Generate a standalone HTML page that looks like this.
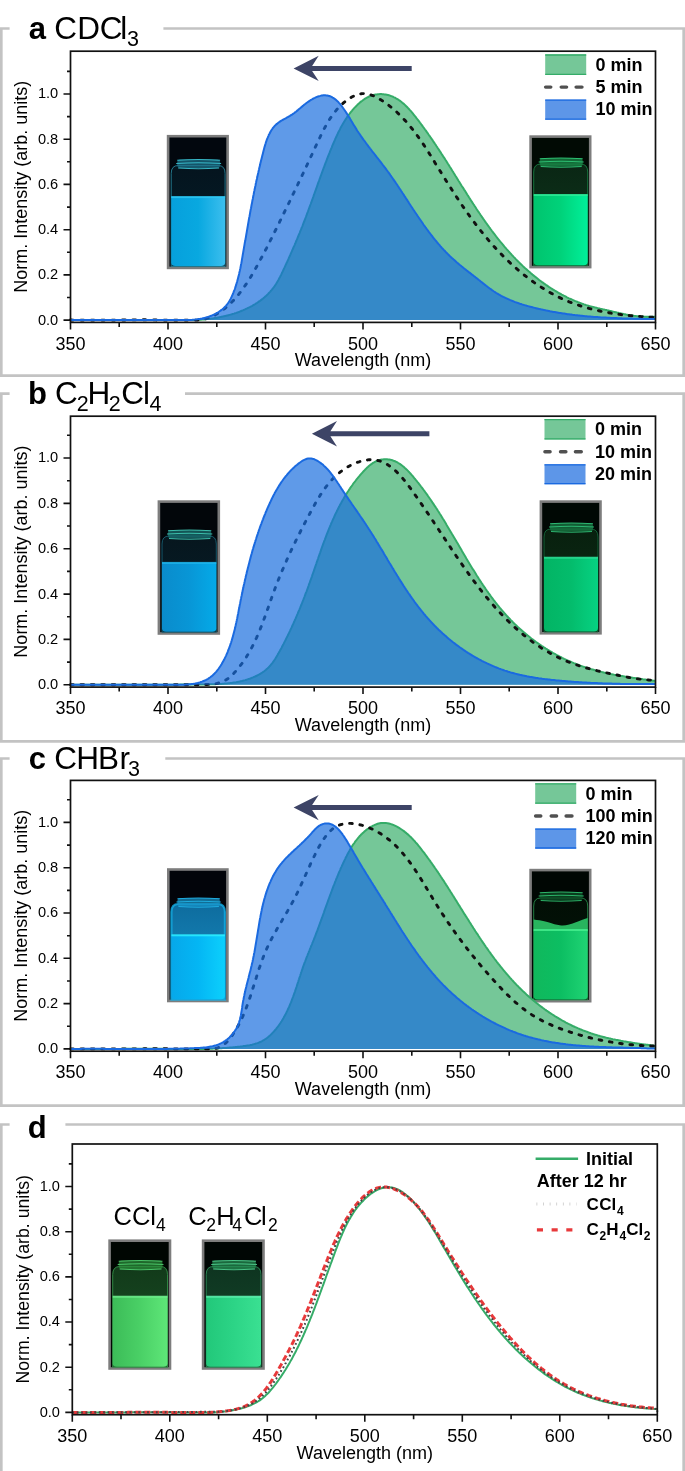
<!DOCTYPE html>
<html><head><meta charset="utf-8"><style>html,body{margin:0;padding:0;background:#fff}svg{display:block;will-change:transform}</style></head>
<body>
<svg width="685" height="1471" viewBox="0 0 685 1471" font-family='"Liberation Sans", sans-serif'>
<rect width="685" height="1471" fill="#fff"/>
<path d="M9.6,28.5 H1.3 V375.7 H683.7 V28.5 H163.4" fill="none" stroke="#c3c3c3" stroke-width="2.7"/>
<defs><linearGradient id="g3" x1="0" x2="1" y1="0" y2="0"><stop offset="0" stop-color="#06a0dc"/><stop offset="0.5" stop-color="#08a8e0"/><stop offset="1" stop-color="#3cbeee"/></linearGradient><linearGradient id="g3b" x1="0" x2="0" y1="0" y2="1"><stop offset="0" stop-color="#04141e"/><stop offset="1" stop-color="#06202c"/></linearGradient></defs>
<rect x="168.1" y="136.2" width="59.5" height="131.7" fill="#02070e" stroke="#7d7d7d" stroke-width="2.6"/>
<path d="M171.2,266.6 V173.5 Q171.2,165.5 178.2,165.5 H218.1 Q225.1,165.5 225.1,173.5 V266.6 Z" fill="url(#g3b)" stroke="#2a90a8" stroke-width="1" stroke-opacity="0.8"/>
<rect x="177.2" y="159.5" width="42.9" height="8.5" rx="3" fill="#1c7088" fill-opacity="0.75"/>
<path d="M177.2,160.3 Q198.2,158.7 220.1,160.3 M176.2,163.5 Q198.2,162.0 221.1,163.5 M178.2,168.0 Q198.2,169.5 219.1,168.0" fill="none" stroke="#3cc4d4" stroke-width="1.1" stroke-opacity="0.9"/>
<path d="M171.2,196.6 H225.1 V262.6 Q225.1,266.1 221.1,266.1 H175.2 Q171.2,266.1 171.2,262.6 Z" fill="url(#g3)"/>
<rect x="171.2" y="196.1" width="53.9" height="2" fill="#30c8f2" fill-opacity="0.8"/>
<defs><linearGradient id="g10" x1="0" x2="1" y1="0" y2="0"><stop offset="0" stop-color="#00c46e"/><stop offset="0.5" stop-color="#00d27a"/><stop offset="1" stop-color="#00f09a"/></linearGradient><linearGradient id="g10b" x1="0" x2="0" y1="0" y2="1"><stop offset="0" stop-color="#0a2614"/><stop offset="1" stop-color="#0e3a1e"/></linearGradient></defs>
<rect x="530.6" y="136.6" width="59.6" height="130.5" fill="#010a04" stroke="#7d7d7d" stroke-width="2.6"/>
<path d="M533.7,265.8 V172.0 Q533.7,164.0 540.7,164.0 H580.7 Q587.7,164.0 587.7,172.0 V265.8 Z" fill="url(#g10b)" stroke="#1a8a48" stroke-width="1" stroke-opacity="0.8"/>
<rect x="539.7" y="158.0" width="43.0" height="8.5" rx="3" fill="#1a8a48" fill-opacity="0.75"/>
<path d="M539.7,158.8 Q560.7,157.2 582.7,158.8 M538.7,162.0 Q560.7,160.5 583.7,162.0 M540.7,166.5 Q560.7,168.0 581.7,166.5" fill="none" stroke="#30c878" stroke-width="1.1" stroke-opacity="0.9"/>
<path d="M533.7,194.5 H587.7 V261.8 Q587.7,265.3 583.7,265.3 H537.7 Q533.7,265.3 533.7,261.8 Z" fill="url(#g10)"/>
<rect x="533.7" y="194.0" width="54.0" height="2" fill="#30ec98" fill-opacity="0.8"/>
<path d="M70.5,320.0 71.7,320.1 72.8,320.1 74.0,320.1 75.2,320.1 76.3,320.1 77.5,320.1 78.7,320.1 79.8,320.1 81.0,320.1 82.2,320.1 83.3,320.1 84.5,320.1 85.7,320.1 86.8,320.1 88.0,320.1 89.2,320.1 90.3,320.1 91.5,320.1 92.7,320.1 93.8,320.1 95.0,320.1 96.1,320.1 97.3,320.1 98.5,320.1 99.6,320.1 100.8,320.1 102.0,320.1 103.1,320.1 104.3,320.1 105.4,320.1 106.6,320.1 107.8,320.1 108.9,320.1 110.1,320.1 111.3,320.1 112.4,320.1 113.6,320.1 114.7,320.1 115.9,320.1 117.1,320.0 118.2,320.0 119.4,320.0 120.5,320.0 121.7,320.0 122.9,320.0 124.0,320.0 125.2,320.0 126.4,320.0 127.5,319.9 128.7,319.9 129.8,319.9 131.0,319.9 132.2,319.9 133.3,319.9 134.5,319.9 135.7,319.9 136.8,319.9 138.0,319.9 139.1,319.9 140.3,319.9 141.5,319.9 142.6,319.9 143.8,319.9 145.0,319.9 146.1,319.9 147.3,319.9 148.5,319.9 149.6,320.0 150.8,320.0 152.0,320.0 153.1,320.0 154.3,320.0 155.5,320.0 156.6,320.1 157.8,320.1 159.0,320.1 160.1,320.1 161.3,320.1 162.5,320.1 163.6,320.1 164.8,320.1 166.0,320.1 167.2,320.1 168.3,320.1 169.5,320.1 170.7,320.1 171.8,320.1 173.0,320.1 174.2,320.1 175.3,320.1 176.5,320.1 177.7,320.1 178.8,320.1 180.0,320.1 181.2,320.1 182.3,320.1 183.5,320.1 184.7,320.1 185.8,320.1 187.0,320.1 188.2,320.1 189.3,320.1 190.5,320.1 191.7,320.1 192.8,320.1 194.0,320.1 195.1,320.0 196.3,320.0 197.5,319.9 198.6,319.8 199.8,319.7 200.9,319.7 202.1,319.6 203.3,319.5 204.4,319.4 205.6,319.3 206.7,319.1 207.9,319.0 209.0,318.9 210.2,318.7 211.3,318.6 212.5,318.4 213.6,318.3 214.8,318.1 215.9,317.9 217.0,317.7 218.2,317.5 219.3,317.3 220.5,317.1 221.6,316.8 222.7,316.6 223.9,316.3 225.0,316.1 226.1,315.8 227.3,315.5 228.4,315.2 229.5,314.9 230.7,314.6 231.8,314.3 232.9,313.9 234.0,313.6 235.1,313.2 236.3,312.9 237.4,312.5 238.5,312.1 239.6,311.7 240.7,311.2 241.7,310.8 242.8,310.4 243.9,309.9 245.0,309.4 246.0,308.9 247.1,308.4 248.1,307.9 249.2,307.4 250.2,306.9 251.3,306.3 252.3,305.8 253.3,305.2 254.3,304.6 255.3,304.0 256.2,303.4 257.2,302.8 258.2,302.1 259.1,301.4 260.1,300.8 261.0,300.1 261.9,299.4 262.8,298.7 263.7,297.9 264.6,297.2 265.4,296.4 266.3,295.7 267.1,294.9 267.9,294.1 268.7,293.2 269.5,292.4 270.3,291.6 271.0,290.7 271.8,289.8 272.5,288.9 273.2,288.0 273.9,287.1 274.6,286.1 275.2,285.2 275.9,284.2 276.5,283.2 277.1,282.2 277.7,281.2 278.3,280.2 278.9,279.1 279.4,278.1 280.0,277.0 280.5,276.0 281.1,274.9 281.6,273.8 282.1,272.8 282.6,271.7 283.1,270.6 283.6,269.5 284.1,268.4 284.6,267.4 285.1,266.3 285.6,265.2 286.1,264.1 286.6,263.0 287.1,262.0 287.6,260.9 288.1,259.8 288.6,258.7 289.0,257.7 289.5,256.6 290.0,255.5 290.5,254.4 290.9,253.4 291.4,252.3 291.9,251.2 292.3,250.2 292.8,249.1 293.3,248.0 293.7,246.9 294.2,245.9 294.7,244.8 295.1,243.7 295.6,242.7 296.0,241.6 296.5,240.5 296.9,239.5 297.4,238.4 297.8,237.3 298.3,236.3 298.7,235.2 299.1,234.1 299.6,233.1 300.0,232.0 300.4,230.9 300.9,229.9 301.3,228.8 301.7,227.7 302.2,226.6 302.6,225.6 303.0,224.5 303.4,223.4 303.8,222.3 304.3,221.3 304.7,220.2 305.1,219.1 305.5,218.0 305.9,217.0 306.3,215.9 306.7,214.8 307.1,213.7 307.5,212.6 307.9,211.6 308.3,210.5 308.7,209.4 309.1,208.3 309.5,207.2 309.9,206.1 310.3,205.0 310.7,204.0 311.1,202.9 311.5,201.8 311.9,200.7 312.3,199.6 312.7,198.5 313.1,197.4 313.5,196.3 313.8,195.2 314.2,194.2 314.6,193.1 315.0,192.0 315.4,190.9 315.8,189.8 316.2,188.7 316.6,187.6 317.0,186.5 317.4,185.4 317.7,184.3 318.1,183.2 318.5,182.1 318.9,181.1 319.3,180.0 319.7,178.9 320.1,177.8 320.5,176.7 320.9,175.6 321.3,174.5 321.7,173.4 322.1,172.3 322.5,171.2 322.9,170.1 323.3,169.0 323.7,167.9 324.1,166.9 324.5,165.8 324.9,164.7 325.3,163.6 325.7,162.5 326.2,161.4 326.6,160.3 327.0,159.2 327.4,158.1 327.8,157.0 328.3,156.0 328.7,154.9 329.1,153.8 329.6,152.7 330.0,151.6 330.4,150.5 330.9,149.4 331.3,148.4 331.8,147.3 332.2,146.2 332.6,145.1 333.1,144.0 333.6,143.0 334.0,141.9 334.5,140.8 335.0,139.7 335.4,138.7 335.9,137.6 336.4,136.5 336.9,135.5 337.4,134.4 337.9,133.3 338.4,132.3 338.9,131.2 339.5,130.2 340.0,129.2 340.5,128.1 341.1,127.1 341.6,126.1 342.2,125.1 342.8,124.0 343.4,123.0 344.0,122.0 344.6,121.0 345.2,120.0 345.8,119.1 346.5,118.1 347.1,117.1 347.8,116.2 348.5,115.2 349.2,114.3 349.9,113.3 350.6,112.4 351.3,111.5 352.1,110.6 352.8,109.7 353.6,108.8 354.4,107.9 355.2,107.1 356.1,106.2 356.9,105.4 357.7,104.5 358.6,103.7 359.5,102.9 360.4,102.1 361.3,101.4 362.3,100.7 363.2,100.0 364.2,99.3 365.1,98.7 366.1,98.1 367.1,97.5 368.2,97.0 369.2,96.5 370.2,96.1 371.3,95.7 372.4,95.3 373.5,95.0 374.5,94.7 375.7,94.5 376.8,94.4 377.9,94.2 379.0,94.2 380.1,94.1 381.3,94.1 382.4,94.2 383.5,94.3 384.6,94.4 385.7,94.6 386.8,94.8 387.9,95.0 389.0,95.3 390.0,95.6 391.0,96.0 392.1,96.4 393.1,96.8 394.1,97.3 395.0,97.7 396.0,98.3 396.9,98.8 397.9,99.4 398.8,100.0 399.7,100.6 400.6,101.3 401.5,102.0 402.3,102.7 403.2,103.4 404.1,104.1 404.9,104.9 405.7,105.7 406.5,106.5 407.3,107.3 408.1,108.1 408.9,109.0 409.7,109.9 410.5,110.7 411.3,111.6 412.0,112.5 412.8,113.4 413.5,114.3 414.3,115.3 415.0,116.2 415.8,117.1 416.5,118.1 417.2,119.0 417.9,119.9 418.7,120.9 419.4,121.8 420.1,122.8 420.8,123.7 421.5,124.7 422.2,125.6 422.9,126.6 423.6,127.5 424.3,128.5 425.0,129.5 425.7,130.4 426.4,131.4 427.1,132.4 427.8,133.3 428.4,134.3 429.1,135.3 429.8,136.2 430.5,137.2 431.1,138.2 431.8,139.1 432.5,140.1 433.1,141.1 433.8,142.1 434.5,143.1 435.1,144.0 435.8,145.0 436.4,146.0 437.1,147.0 437.7,148.0 438.4,148.9 439.0,149.9 439.7,150.9 440.3,151.9 441.0,152.9 441.6,153.9 442.2,154.9 442.9,155.9 443.5,156.9 444.2,157.8 444.8,158.8 445.4,159.8 446.1,160.8 446.7,161.8 447.3,162.8 447.9,163.8 448.6,164.8 449.2,165.8 449.8,166.8 450.5,167.8 451.1,168.8 451.7,169.8 452.3,170.8 453.0,171.8 453.6,172.8 454.2,173.7 454.8,174.7 455.4,175.7 456.1,176.7 456.7,177.7 457.3,178.7 457.9,179.7 458.5,180.7 459.2,181.7 459.8,182.7 460.4,183.7 461.0,184.7 461.6,185.7 462.3,186.7 462.9,187.6 463.5,188.6 464.1,189.6 464.8,190.6 465.4,191.6 466.0,192.6 466.6,193.6 467.2,194.6 467.9,195.5 468.5,196.5 469.1,197.5 469.8,198.5 470.4,199.5 471.0,200.4 471.6,201.4 472.3,202.4 472.9,203.4 473.5,204.3 474.2,205.3 474.8,206.3 475.5,207.3 476.1,208.2 476.7,209.2 477.4,210.2 478.0,211.1 478.7,212.1 479.3,213.0 480.0,214.0 480.6,215.0 481.3,215.9 481.9,216.9 482.6,217.8 483.2,218.8 483.9,219.7 484.6,220.7 485.2,221.6 485.9,222.6 486.6,223.5 487.2,224.4 487.9,225.4 488.6,226.3 489.3,227.3 490.0,228.2 490.6,229.1 491.3,230.0 492.0,231.0 492.7,231.9 493.4,232.8 494.1,233.7 494.8,234.6 495.5,235.5 496.2,236.5 496.9,237.4 497.6,238.3 498.3,239.2 499.1,240.1 499.8,241.0 500.5,241.9 501.2,242.7 502.0,243.6 502.7,244.5 503.5,245.4 504.2,246.3 504.9,247.2 505.7,248.0 506.4,248.9 507.2,249.8 508.0,250.6 508.7,251.5 509.5,252.3 510.3,253.2 511.1,254.0 511.8,254.9 512.6,255.7 513.4,256.6 514.2,257.4 515.0,258.2 515.8,259.1 516.6,259.9 517.4,260.7 518.2,261.5 519.1,262.4 519.9,263.2 520.7,264.0 521.5,264.8 522.4,265.6 523.2,266.4 524.1,267.2 524.9,268.0 525.8,268.7 526.7,269.5 527.5,270.3 528.4,271.1 529.3,271.8 530.2,272.6 531.0,273.4 531.9,274.1 532.8,274.9 533.7,275.6 534.6,276.3 535.6,277.1 536.5,277.8 537.4,278.5 538.3,279.2 539.2,280.0 540.2,280.7 541.1,281.4 542.1,282.1 543.0,282.7 543.9,283.4 544.9,284.1 545.9,284.8 546.8,285.4 547.8,286.1 548.8,286.8 549.7,287.4 550.7,288.0 551.7,288.7 552.7,289.3 553.7,289.9 554.7,290.5 555.7,291.1 556.7,291.7 557.7,292.3 558.7,292.9 559.7,293.5 560.7,294.0 561.8,294.6 562.8,295.1 563.8,295.7 564.9,296.2 565.9,296.7 566.9,297.3 568.0,297.8 569.0,298.3 570.1,298.8 571.2,299.2 572.2,299.7 573.3,300.2 574.3,300.6 575.4,301.1 576.5,301.5 577.6,302.0 578.7,302.4 579.7,302.8 580.8,303.2 581.9,303.6 583.0,304.0 584.1,304.4 585.2,304.7 586.3,305.1 587.4,305.4 588.5,305.8 589.7,306.1 590.8,306.4 591.9,306.7 593.0,307.0 594.2,307.3 595.3,307.6 596.4,307.8 597.6,308.1 598.7,308.4 599.8,308.6 601.0,308.9 602.1,309.1 603.2,309.4 604.4,309.6 605.5,309.9 606.7,310.1 607.8,310.4 608.9,310.6 610.1,310.9 611.2,311.1 612.3,311.4 613.5,311.7 614.6,311.9 615.7,312.2 616.9,312.5 618.0,312.7 619.1,313.0 620.3,313.2 621.4,313.5 622.5,313.7 623.7,314.0 624.8,314.2 626.0,314.5 627.1,314.7 628.2,314.9 629.4,315.1 630.5,315.3 631.7,315.5 632.8,315.6 634.0,315.8 635.1,315.9 636.3,316.1 637.4,316.2 638.6,316.3 639.7,316.4 640.9,316.5 642.1,316.5 643.2,316.6 644.4,316.7 645.6,316.7 646.7,316.8 647.9,316.8 649.1,316.8 650.2,316.8 651.4,316.8 652.6,316.8 653.8,316.8 654.9,316.8 655.5,316.8 L655.5,320.1 L70.5,320.1 Z" fill="#75c798" fill-opacity="1.0"/>
<path d="M70.5,320.0 71.7,320.1 72.8,320.1 74.0,320.1 75.2,320.1 76.3,320.1 77.5,320.1 78.7,320.1 79.8,320.1 81.0,320.1 82.2,320.1 83.3,320.1 84.5,320.1 85.7,320.1 86.8,320.1 88.0,320.1 89.2,320.1 90.3,320.1 91.5,320.1 92.7,320.1 93.8,320.1 95.0,320.1 96.1,320.1 97.3,320.1 98.5,320.1 99.6,320.1 100.8,320.1 102.0,320.1 103.1,320.1 104.3,320.1 105.4,320.1 106.6,320.1 107.8,320.1 108.9,320.1 110.1,320.1 111.3,320.1 112.4,320.1 113.6,320.1 114.7,320.1 115.9,320.1 117.1,320.0 118.2,320.0 119.4,320.0 120.5,320.0 121.7,320.0 122.9,320.0 124.0,320.0 125.2,320.0 126.4,320.0 127.5,319.9 128.7,319.9 129.8,319.9 131.0,319.9 132.2,319.9 133.3,319.9 134.5,319.9 135.7,319.9 136.8,319.9 138.0,319.9 139.1,319.9 140.3,319.9 141.5,319.9 142.6,319.9 143.8,319.9 145.0,319.9 146.1,319.9 147.3,319.9 148.5,319.9 149.6,320.0 150.8,320.0 152.0,320.0 153.1,320.0 154.3,320.0 155.5,320.0 156.6,320.1 157.8,320.1 159.0,320.1 160.1,320.1 161.3,320.1 162.5,320.1 163.6,320.1 164.8,320.1 166.0,320.1 167.2,320.1 168.3,320.1 169.5,320.1 170.7,320.1 171.8,320.1 173.0,320.1 174.2,320.1 175.3,320.1 176.5,320.1 177.7,320.1 178.8,320.1 180.0,320.1 181.2,320.1 182.3,320.1 183.5,320.1 184.7,320.1 185.8,320.1 187.0,320.1 188.2,320.1 189.3,320.1 190.5,320.1 191.7,320.1 192.8,320.1 194.0,320.1 195.1,320.0 196.3,320.0 197.5,319.9 198.6,319.8 199.8,319.7 200.9,319.7 202.1,319.6 203.3,319.5 204.4,319.4 205.6,319.3 206.7,319.1 207.9,319.0 209.0,318.9 210.2,318.7 211.3,318.6 212.5,318.4 213.6,318.3 214.8,318.1 215.9,317.9 217.0,317.7 218.2,317.5 219.3,317.3 220.5,317.1 221.6,316.8 222.7,316.6 223.9,316.3 225.0,316.1 226.1,315.8 227.3,315.5 228.4,315.2 229.5,314.9 230.7,314.6 231.8,314.3 232.9,313.9 234.0,313.6 235.1,313.2 236.3,312.9 237.4,312.5 238.5,312.1 239.6,311.7 240.7,311.2 241.7,310.8 242.8,310.4 243.9,309.9 245.0,309.4 246.0,308.9 247.1,308.4 248.1,307.9 249.2,307.4 250.2,306.9 251.3,306.3 252.3,305.8 253.3,305.2 254.3,304.6 255.3,304.0 256.2,303.4 257.2,302.8 258.2,302.1 259.1,301.4 260.1,300.8 261.0,300.1 261.9,299.4 262.8,298.7 263.7,297.9 264.6,297.2 265.4,296.4 266.3,295.7 267.1,294.9 267.9,294.1 268.7,293.2 269.5,292.4 270.3,291.6 271.0,290.7 271.8,289.8 272.5,288.9 273.2,288.0 273.9,287.1 274.6,286.1 275.2,285.2 275.9,284.2 276.5,283.2 277.1,282.2 277.7,281.2 278.3,280.2 278.9,279.1 279.4,278.1 280.0,277.0 280.5,276.0 281.1,274.9 281.6,273.8 282.1,272.8 282.6,271.7 283.1,270.6 283.6,269.5 284.1,268.4 284.6,267.4 285.1,266.3 285.6,265.2 286.1,264.1 286.6,263.0 287.1,262.0 287.6,260.9 288.1,259.8 288.6,258.7 289.0,257.7 289.5,256.6 290.0,255.5 290.5,254.4 290.9,253.4 291.4,252.3 291.9,251.2 292.3,250.2 292.8,249.1 293.3,248.0 293.7,246.9 294.2,245.9 294.7,244.8 295.1,243.7 295.6,242.7 296.0,241.6 296.5,240.5 296.9,239.5 297.4,238.4 297.8,237.3 298.3,236.3 298.7,235.2 299.1,234.1 299.6,233.1 300.0,232.0 300.4,230.9 300.9,229.9 301.3,228.8 301.7,227.7 302.2,226.6 302.6,225.6 303.0,224.5 303.4,223.4 303.8,222.3 304.3,221.3 304.7,220.2 305.1,219.1 305.5,218.0 305.9,217.0 306.3,215.9 306.7,214.8 307.1,213.7 307.5,212.6 307.9,211.6 308.3,210.5 308.7,209.4 309.1,208.3 309.5,207.2 309.9,206.1 310.3,205.0 310.7,204.0 311.1,202.9 311.5,201.8 311.9,200.7 312.3,199.6 312.7,198.5 313.1,197.4 313.5,196.3 313.8,195.2 314.2,194.2 314.6,193.1 315.0,192.0 315.4,190.9 315.8,189.8 316.2,188.7 316.6,187.6 317.0,186.5 317.4,185.4 317.7,184.3 318.1,183.2 318.5,182.1 318.9,181.1 319.3,180.0 319.7,178.9 320.1,177.8 320.5,176.7 320.9,175.6 321.3,174.5 321.7,173.4 322.1,172.3 322.5,171.2 322.9,170.1 323.3,169.0 323.7,167.9 324.1,166.9 324.5,165.8 324.9,164.7 325.3,163.6 325.7,162.5 326.2,161.4 326.6,160.3 327.0,159.2 327.4,158.1 327.8,157.0 328.3,156.0 328.7,154.9 329.1,153.8 329.6,152.7 330.0,151.6 330.4,150.5 330.9,149.4 331.3,148.4 331.8,147.3 332.2,146.2 332.6,145.1 333.1,144.0 333.6,143.0 334.0,141.9 334.5,140.8 335.0,139.7 335.4,138.7 335.9,137.6 336.4,136.5 336.9,135.5 337.4,134.4 337.9,133.3 338.4,132.3 338.9,131.2 339.5,130.2 340.0,129.2 340.5,128.1 341.1,127.1 341.6,126.1 342.2,125.1 342.8,124.0 343.4,123.0 344.0,122.0 344.6,121.0 345.2,120.0 345.8,119.1 346.5,118.1 347.1,117.1 347.8,116.2 348.5,115.2 349.2,114.3 349.9,113.3 350.6,112.4 351.3,111.5 352.1,110.6 352.8,109.7 353.6,108.8 354.4,107.9 355.2,107.1 356.1,106.2 356.9,105.4 357.7,104.5 358.6,103.7 359.5,102.9 360.4,102.1 361.3,101.4 362.3,100.7 363.2,100.0 364.2,99.3 365.1,98.7 366.1,98.1 367.1,97.5 368.2,97.0 369.2,96.5 370.2,96.1 371.3,95.7 372.4,95.3 373.5,95.0 374.5,94.7 375.7,94.5 376.8,94.4 377.9,94.2 379.0,94.2 380.1,94.1 381.3,94.1 382.4,94.2 383.5,94.3 384.6,94.4 385.7,94.6 386.8,94.8 387.9,95.0 389.0,95.3 390.0,95.6 391.0,96.0 392.1,96.4 393.1,96.8 394.1,97.3 395.0,97.7 396.0,98.3 396.9,98.8 397.9,99.4 398.8,100.0 399.7,100.6 400.6,101.3 401.5,102.0 402.3,102.7 403.2,103.4 404.1,104.1 404.9,104.9 405.7,105.7 406.5,106.5 407.3,107.3 408.1,108.1 408.9,109.0 409.7,109.9 410.5,110.7 411.3,111.6 412.0,112.5 412.8,113.4 413.5,114.3 414.3,115.3 415.0,116.2 415.8,117.1 416.5,118.1 417.2,119.0 417.9,119.9 418.7,120.9 419.4,121.8 420.1,122.8 420.8,123.7 421.5,124.7 422.2,125.6 422.9,126.6 423.6,127.5 424.3,128.5 425.0,129.5 425.7,130.4 426.4,131.4 427.1,132.4 427.8,133.3 428.4,134.3 429.1,135.3 429.8,136.2 430.5,137.2 431.1,138.2 431.8,139.1 432.5,140.1 433.1,141.1 433.8,142.1 434.5,143.1 435.1,144.0 435.8,145.0 436.4,146.0 437.1,147.0 437.7,148.0 438.4,148.9 439.0,149.9 439.7,150.9 440.3,151.9 441.0,152.9 441.6,153.9 442.2,154.9 442.9,155.9 443.5,156.9 444.2,157.8 444.8,158.8 445.4,159.8 446.1,160.8 446.7,161.8 447.3,162.8 447.9,163.8 448.6,164.8 449.2,165.8 449.8,166.8 450.5,167.8 451.1,168.8 451.7,169.8 452.3,170.8 453.0,171.8 453.6,172.8 454.2,173.7 454.8,174.7 455.4,175.7 456.1,176.7 456.7,177.7 457.3,178.7 457.9,179.7 458.5,180.7 459.2,181.7 459.8,182.7 460.4,183.7 461.0,184.7 461.6,185.7 462.3,186.7 462.9,187.6 463.5,188.6 464.1,189.6 464.8,190.6 465.4,191.6 466.0,192.6 466.6,193.6 467.2,194.6 467.9,195.5 468.5,196.5 469.1,197.5 469.8,198.5 470.4,199.5 471.0,200.4 471.6,201.4 472.3,202.4 472.9,203.4 473.5,204.3 474.2,205.3 474.8,206.3 475.5,207.3 476.1,208.2 476.7,209.2 477.4,210.2 478.0,211.1 478.7,212.1 479.3,213.0 480.0,214.0 480.6,215.0 481.3,215.9 481.9,216.9 482.6,217.8 483.2,218.8 483.9,219.7 484.6,220.7 485.2,221.6 485.9,222.6 486.6,223.5 487.2,224.4 487.9,225.4 488.6,226.3 489.3,227.3 490.0,228.2 490.6,229.1 491.3,230.0 492.0,231.0 492.7,231.9 493.4,232.8 494.1,233.7 494.8,234.6 495.5,235.5 496.2,236.5 496.9,237.4 497.6,238.3 498.3,239.2 499.1,240.1 499.8,241.0 500.5,241.9 501.2,242.7 502.0,243.6 502.7,244.5 503.5,245.4 504.2,246.3 504.9,247.2 505.7,248.0 506.4,248.9 507.2,249.8 508.0,250.6 508.7,251.5 509.5,252.3 510.3,253.2 511.1,254.0 511.8,254.9 512.6,255.7 513.4,256.6 514.2,257.4 515.0,258.2 515.8,259.1 516.6,259.9 517.4,260.7 518.2,261.5 519.1,262.4 519.9,263.2 520.7,264.0 521.5,264.8 522.4,265.6 523.2,266.4 524.1,267.2 524.9,268.0 525.8,268.7 526.7,269.5 527.5,270.3 528.4,271.1 529.3,271.8 530.2,272.6 531.0,273.4 531.9,274.1 532.8,274.9 533.7,275.6 534.6,276.3 535.6,277.1 536.5,277.8 537.4,278.5 538.3,279.2 539.2,280.0 540.2,280.7 541.1,281.4 542.1,282.1 543.0,282.7 543.9,283.4 544.9,284.1 545.9,284.8 546.8,285.4 547.8,286.1 548.8,286.8 549.7,287.4 550.7,288.0 551.7,288.7 552.7,289.3 553.7,289.9 554.7,290.5 555.7,291.1 556.7,291.7 557.7,292.3 558.7,292.9 559.7,293.5 560.7,294.0 561.8,294.6 562.8,295.1 563.8,295.7 564.9,296.2 565.9,296.7 566.9,297.3 568.0,297.8 569.0,298.3 570.1,298.8 571.2,299.2 572.2,299.7 573.3,300.2 574.3,300.6 575.4,301.1 576.5,301.5 577.6,302.0 578.7,302.4 579.7,302.8 580.8,303.2 581.9,303.6 583.0,304.0 584.1,304.4 585.2,304.7 586.3,305.1 587.4,305.4 588.5,305.8 589.7,306.1 590.8,306.4 591.9,306.7 593.0,307.0 594.2,307.3 595.3,307.6 596.4,307.8 597.6,308.1 598.7,308.4 599.8,308.6 601.0,308.9 602.1,309.1 603.2,309.4 604.4,309.6 605.5,309.9 606.7,310.1 607.8,310.4 608.9,310.6 610.1,310.9 611.2,311.1 612.3,311.4 613.5,311.7 614.6,311.9 615.7,312.2 616.9,312.5 618.0,312.7 619.1,313.0 620.3,313.2 621.4,313.5 622.5,313.7 623.7,314.0 624.8,314.2 626.0,314.5 627.1,314.7 628.2,314.9 629.4,315.1 630.5,315.3 631.7,315.5 632.8,315.6 634.0,315.8 635.1,315.9 636.3,316.1 637.4,316.2 638.6,316.3 639.7,316.4 640.9,316.5 642.1,316.5 643.2,316.6 644.4,316.7 645.6,316.7 646.7,316.8 647.9,316.8 649.1,316.8 650.2,316.8 651.4,316.8 652.6,316.8 653.8,316.8 654.9,316.8 655.5,316.8" fill="none" stroke="#35ac68" stroke-width="2.0" stroke-linejoin="round"/>
<path d="M70.5,320.0 71.6,320.0 72.8,320.1 74.0,320.1 75.1,320.1 76.3,320.1 77.4,320.1 78.6,320.1 79.8,320.1 80.9,320.1 82.1,320.1 83.2,320.1 84.4,320.1 85.6,320.1 86.7,320.1 87.9,320.1 89.0,320.1 90.2,320.1 91.3,320.1 92.5,320.1 93.6,320.1 94.8,320.1 95.9,320.1 97.1,320.1 98.2,320.1 99.4,320.1 100.5,320.1 101.7,320.1 102.8,320.1 104.0,320.1 105.1,320.1 106.3,320.1 107.4,320.1 108.6,320.1 109.7,320.1 110.9,320.1 112.0,320.1 113.2,320.1 114.3,320.1 115.5,320.1 116.6,320.1 117.8,320.1 118.9,320.1 120.0,320.0 121.2,320.0 122.3,320.0 123.5,320.0 124.6,320.0 125.8,320.0 126.9,320.0 128.1,319.9 129.2,319.9 130.4,319.9 131.5,319.9 132.7,319.9 133.8,319.9 135.0,319.9 136.1,319.9 137.3,319.9 138.4,319.9 139.6,319.9 140.7,319.9 141.9,319.8 143.0,319.8 144.2,319.8 145.3,319.8 146.5,319.9 147.6,319.9 148.8,319.9 149.9,319.9 151.1,319.9 152.2,319.9 153.4,319.9 154.6,319.9 155.7,319.9 156.9,320.0 158.0,320.0 159.2,320.0 160.4,320.0 161.5,320.1 162.7,320.1 163.9,320.1 165.0,320.1 166.2,320.1 167.4,320.1 168.5,320.1 169.7,320.1 170.9,320.1 172.1,320.1 173.2,320.1 174.4,320.1 175.6,320.1 176.8,320.1 177.9,320.1 179.1,320.1 180.3,320.1 181.4,320.1 182.6,320.1 183.8,320.1 185.0,320.1 186.1,320.1 187.3,320.1 188.4,320.1 189.6,320.1 190.8,320.1 191.9,320.1 193.0,320.1 194.2,320.1 195.3,320.1 196.5,320.1 197.6,320.1 198.7,320.1 199.8,320.0 200.9,319.8 202.1,319.6 203.2,319.3 204.3,319.1 205.3,318.8 206.4,318.5 207.5,318.2 208.6,317.8 209.6,317.4 210.7,317.0 211.7,316.6 212.7,316.1 213.8,315.6 214.8,315.1 215.8,314.5 216.8,314.0 217.8,313.4 218.7,312.8 219.7,312.2 220.7,311.5 221.6,310.8 222.5,310.2 223.5,309.5 224.4,308.8 225.3,308.0 226.2,307.3 227.0,306.6 227.9,305.8 228.8,305.0 229.6,304.2 230.4,303.5 231.3,302.6 232.1,301.8 232.9,301.0 233.7,300.2 234.4,299.3 235.2,298.5 236.0,297.6 236.7,296.7 237.5,295.9 238.2,295.0 238.9,294.1 239.6,293.2 240.3,292.3 241.0,291.3 241.7,290.4 242.4,289.5 243.1,288.5 243.8,287.6 244.4,286.6 245.1,285.7 245.7,284.7 246.4,283.8 247.0,282.8 247.7,281.8 248.3,280.8 248.9,279.8 249.5,278.9 250.1,277.9 250.7,276.9 251.3,275.9 251.9,274.9 252.5,273.9 253.1,272.8 253.7,271.8 254.3,270.8 254.8,269.8 255.4,268.8 256.0,267.8 256.6,266.8 257.1,265.7 257.7,264.7 258.2,263.7 258.8,262.7 259.3,261.7 259.9,260.7 260.4,259.6 261.0,258.6 261.5,257.6 262.1,256.6 262.6,255.6 263.2,254.5 263.7,253.5 264.2,252.5 264.8,251.5 265.3,250.5 265.8,249.4 266.4,248.4 266.9,247.4 267.4,246.4 267.9,245.3 268.4,244.3 269.0,243.3 269.5,242.3 270.0,241.2 270.5,240.2 271.0,239.2 271.6,238.2 272.1,237.1 272.6,236.1 273.1,235.1 273.6,234.1 274.1,233.0 274.6,232.0 275.1,231.0 275.6,230.0 276.2,228.9 276.7,227.9 277.2,226.9 277.7,225.9 278.2,224.8 278.7,223.8 279.2,222.8 279.7,221.7 280.2,220.7 280.7,219.7 281.2,218.7 281.7,217.6 282.2,216.6 282.7,215.6 283.2,214.5 283.7,213.5 284.2,212.5 284.7,211.5 285.2,210.4 285.7,209.4 286.3,208.4 286.8,207.3 287.3,206.3 287.8,205.3 288.3,204.2 288.8,203.2 289.3,202.2 289.8,201.1 290.3,200.1 290.8,199.1 291.3,198.0 291.8,197.0 292.2,196.0 292.7,194.9 293.2,193.9 293.7,192.9 294.2,191.8 294.7,190.8 295.2,189.8 295.7,188.7 296.2,187.7 296.7,186.7 297.2,185.6 297.7,184.6 298.2,183.5 298.7,182.5 299.2,181.5 299.7,180.4 300.2,179.4 300.7,178.3 301.2,177.3 301.7,176.3 302.2,175.2 302.7,174.2 303.2,173.1 303.6,172.1 304.1,171.0 304.6,170.0 305.1,169.0 305.6,167.9 306.1,166.9 306.6,165.8 307.1,164.8 307.6,163.7 308.1,162.7 308.6,161.6 309.1,160.6 309.6,159.5 310.0,158.5 310.5,157.4 311.0,156.4 311.5,155.3 312.0,154.3 312.5,153.2 313.0,152.2 313.5,151.1 314.0,150.1 314.5,149.0 315.0,147.9 315.4,146.9 315.9,145.8 316.4,144.8 316.9,143.7 317.4,142.7 317.9,141.6 318.4,140.5 318.9,139.5 319.4,138.4 319.9,137.4 320.4,136.3 320.9,135.3 321.4,134.2 321.9,133.2 322.4,132.1 323.0,131.1 323.5,130.1 324.0,129.0 324.6,128.0 325.1,127.0 325.7,126.0 326.2,124.9 326.8,123.9 327.4,122.9 328.0,122.0 328.6,121.0 329.2,120.0 329.8,119.0 330.4,118.0 331.1,117.1 331.7,116.1 332.4,115.2 333.1,114.3 333.8,113.4 334.5,112.4 335.2,111.5 335.9,110.7 336.6,109.8 337.4,108.9 338.2,108.1 339.0,107.2 339.8,106.4 340.6,105.6 341.4,104.8 342.3,104.0 343.2,103.2 344.1,102.4 345.0,101.7 345.9,100.9 346.8,100.2 347.8,99.5 348.8,98.8 349.8,98.2 350.8,97.6 351.8,97.0 352.8,96.5 353.8,96.0 354.9,95.5 355.9,95.1 357.0,94.7 358.1,94.4 359.1,94.1 360.2,93.9 361.3,93.7 362.3,93.6 363.4,93.6 364.5,93.6 365.6,93.7 366.6,93.8 367.7,94.0 368.8,94.2 369.9,94.5 370.9,94.9 372.0,95.3 373.0,95.7 374.1,96.1 375.1,96.6 376.1,97.2 377.2,97.7 378.2,98.3 379.2,98.9 380.2,99.5 381.2,100.1 382.2,100.7 383.2,101.4 384.1,102.0 385.1,102.7 386.0,103.3 387.0,104.0 387.9,104.7 388.8,105.4 389.7,106.1 390.6,106.8 391.5,107.5 392.4,108.3 393.3,109.0 394.1,109.7 395.0,110.5 395.9,111.2 396.7,112.0 397.5,112.8 398.4,113.6 399.2,114.4 400.0,115.2 400.8,116.0 401.6,116.8 402.4,117.6 403.2,118.4 404.0,119.3 404.7,120.1 405.5,120.9 406.3,121.8 407.0,122.7 407.8,123.5 408.5,124.4 409.3,125.3 410.0,126.1 410.7,127.0 411.4,127.9 412.1,128.8 412.9,129.7 413.6,130.6 414.3,131.5 415.0,132.4 415.6,133.4 416.3,134.3 417.0,135.2 417.7,136.1 418.4,137.1 419.0,138.0 419.7,139.0 420.4,139.9 421.0,140.9 421.7,141.8 422.3,142.8 423.0,143.7 423.6,144.7 424.3,145.7 424.9,146.6 425.5,147.6 426.2,148.6 426.8,149.5 427.4,150.5 428.0,151.5 428.7,152.5 429.3,153.5 429.9,154.5 430.5,155.4 431.2,156.4 431.8,157.4 432.4,158.4 433.0,159.4 433.6,160.4 434.2,161.4 434.8,162.4 435.4,163.4 436.0,164.4 436.7,165.4 437.3,166.3 437.9,167.3 438.5,168.3 439.1,169.3 439.7,170.3 440.3,171.3 440.9,172.3 441.5,173.3 442.1,174.3 442.7,175.3 443.4,176.3 444.0,177.3 444.6,178.2 445.2,179.2 445.8,180.2 446.4,181.2 447.0,182.2 447.7,183.2 448.3,184.1 448.9,185.1 449.5,186.1 450.1,187.1 450.8,188.0 451.4,189.0 452.0,190.0 452.6,191.0 453.3,191.9 453.9,192.9 454.5,193.9 455.1,194.8 455.8,195.8 456.4,196.8 457.0,197.7 457.7,198.7 458.3,199.7 459.0,200.6 459.6,201.6 460.2,202.5 460.9,203.5 461.5,204.4 462.2,205.4 462.8,206.3 463.5,207.3 464.1,208.2 464.8,209.2 465.4,210.1 466.1,211.1 466.8,212.0 467.4,213.0 468.1,213.9 468.8,214.8 469.4,215.8 470.1,216.7 470.8,217.6 471.5,218.5 472.1,219.5 472.8,220.4 473.5,221.3 474.2,222.2 474.9,223.1 475.6,224.1 476.3,225.0 477.0,225.9 477.7,226.8 478.4,227.7 479.1,228.6 479.8,229.5 480.5,230.4 481.2,231.3 481.9,232.2 482.6,233.1 483.4,234.0 484.1,234.9 484.8,235.8 485.6,236.6 486.3,237.5 487.0,238.4 487.8,239.3 488.5,240.2 489.3,241.0 490.0,241.9 490.8,242.8 491.5,243.6 492.3,244.5 493.1,245.3 493.8,246.2 494.6,247.1 495.4,247.9 496.2,248.8 496.9,249.6 497.7,250.4 498.5,251.3 499.3,252.1 500.1,253.0 500.9,253.8 501.7,254.6 502.5,255.4 503.3,256.3 504.1,257.1 505.0,257.9 505.8,258.7 506.6,259.5 507.4,260.3 508.3,261.1 509.1,261.9 510.0,262.7 510.8,263.5 511.7,264.3 512.5,265.0 513.4,265.8 514.2,266.6 515.1,267.4 516.0,268.1 516.8,268.9 517.7,269.6 518.6,270.4 519.5,271.1 520.3,271.9 521.2,272.6 522.1,273.3 523.0,274.1 523.9,274.8 524.8,275.5 525.7,276.2 526.6,276.9 527.5,277.6 528.5,278.3 529.4,279.0 530.3,279.7 531.2,280.4 532.2,281.1 533.1,281.7 534.0,282.4 535.0,283.1 535.9,283.7 536.9,284.4 537.8,285.0 538.8,285.7 539.7,286.3 540.7,286.9 541.7,287.5 542.6,288.1 543.6,288.7 544.6,289.4 545.6,289.9 546.5,290.5 547.5,291.1 548.5,291.7 549.5,292.3 550.5,292.8 551.5,293.4 552.5,293.9 553.5,294.5 554.5,295.0 555.6,295.5 556.6,296.1 557.6,296.6 558.6,297.1 559.7,297.6 560.7,298.1 561.7,298.6 562.8,299.1 563.8,299.5 564.9,300.0 565.9,300.4 567.0,300.9 568.0,301.3 569.1,301.8 570.1,302.2 571.2,302.6 572.3,303.0 573.4,303.4 574.4,303.8 575.5,304.2 576.6,304.6 577.7,305.0 578.8,305.3 579.9,305.7 581.0,306.1 582.1,306.4 583.2,306.7 584.3,307.1 585.4,307.4 586.5,307.7 587.6,308.0 588.7,308.3 589.8,308.6 590.9,308.9 592.1,309.2 593.2,309.5 594.3,309.8 595.4,310.0 596.6,310.3 597.7,310.5 598.8,310.8 600.0,311.0 601.1,311.3 602.2,311.5 603.4,311.7 604.5,312.0 605.7,312.2 606.8,312.4 607.9,312.6 609.1,312.8 610.2,313.0 611.4,313.2 612.5,313.4 613.7,313.5 614.8,313.7 616.0,313.9 617.1,314.0 618.3,314.2 619.4,314.4 620.6,314.5 621.7,314.7 622.9,314.8 624.0,314.9 625.2,315.1 626.3,315.2 627.5,315.3 628.6,315.5 629.8,315.6 630.9,315.7 632.1,315.8 633.2,315.9 634.4,316.0 635.5,316.1 636.6,316.2 637.8,316.3 638.9,316.4 640.1,316.5 641.2,316.6 642.4,316.6 643.5,316.7 644.6,316.8 645.8,316.9 646.9,316.9 648.1,317.0 649.2,317.1 650.3,317.1 651.5,317.2 652.6,317.2 653.7,317.3 654.8,317.3 655.4,317.4" fill="none" stroke="#111" stroke-width="2.9" stroke-dasharray="2.7 7.7" stroke-linecap="round" stroke-linejoin="round"/>
<path d="M70.5,320.1 71.7,320.1 72.9,320.1 74.1,320.1 75.3,320.1 76.5,320.1 77.7,320.1 78.9,320.1 80.1,320.1 81.3,320.1 82.5,320.1 83.7,320.1 84.9,320.1 86.1,320.1 87.3,320.1 88.5,320.1 89.7,320.1 90.9,320.1 92.1,320.1 93.3,320.1 94.5,320.1 95.7,320.1 96.9,320.1 98.1,320.1 99.3,320.1 100.5,320.1 101.7,320.1 102.9,320.1 104.1,320.1 105.3,320.1 106.5,320.1 107.6,320.1 108.8,320.1 110.0,320.1 111.2,320.1 112.4,320.1 113.6,320.1 114.8,320.1 116.0,320.1 117.2,320.1 118.4,320.1 119.6,320.1 120.7,320.1 121.9,320.1 123.1,320.1 124.3,320.1 125.5,320.0 126.7,320.0 127.9,320.0 129.1,320.0 130.3,320.0 131.5,320.0 132.7,320.0 133.8,320.0 135.0,320.0 136.2,320.0 137.4,320.0 138.6,320.0 139.8,320.0 141.0,320.0 142.2,320.0 143.4,320.0 144.6,320.0 145.8,320.0 147.0,320.0 148.2,320.0 149.4,320.0 150.6,320.0 151.8,320.0 153.0,320.0 154.2,320.0 155.4,320.0 156.6,320.0 157.8,320.0 159.0,320.0 160.2,320.0 161.4,320.0 162.6,320.0 163.8,320.1 165.0,320.1 166.2,320.1 167.4,320.1 168.6,320.1 169.8,320.1 171.0,320.1 172.2,320.1 173.4,320.1 174.6,320.1 175.9,320.1 177.1,320.1 178.3,320.1 179.5,320.1 180.7,320.1 181.9,320.1 183.1,320.1 184.3,320.1 185.5,320.1 186.7,320.1 187.9,320.1 189.1,320.1 190.3,320.0 191.5,319.9 192.7,319.8 193.9,319.7 195.1,319.6 196.2,319.4 197.4,319.3 198.6,319.1 199.7,318.9 200.9,318.7 202.1,318.5 203.2,318.2 204.4,317.9 205.5,317.6 206.6,317.3 207.8,317.0 208.9,316.6 210.0,316.2 211.1,315.8 212.2,315.3 213.3,314.8 214.4,314.3 215.5,313.8 216.5,313.2 217.6,312.6 218.6,312.0 219.6,311.3 220.6,310.6 221.5,309.9 222.5,309.2 223.4,308.4 224.3,307.6 225.1,306.7 225.9,305.9 226.7,305.0 227.4,304.0 228.1,303.1 228.8,302.1 229.4,301.1 230.0,300.0 230.6,299.0 231.1,297.9 231.6,296.8 232.1,295.7 232.6,294.6 233.1,293.5 233.5,292.4 233.9,291.2 234.4,290.1 234.8,289.0 235.2,287.8 235.6,286.7 235.9,285.6 236.3,284.4 236.6,283.3 237.0,282.1 237.3,281.0 237.6,279.8 237.9,278.7 238.2,277.5 238.5,276.3 238.8,275.2 239.1,274.0 239.3,272.8 239.6,271.7 239.9,270.5 240.1,269.3 240.4,268.2 240.6,267.0 240.8,265.8 241.0,264.6 241.3,263.5 241.5,262.3 241.7,261.1 241.9,259.9 242.1,258.7 242.3,257.6 242.5,256.4 242.7,255.2 242.9,254.0 243.1,252.8 243.3,251.7 243.5,250.5 243.7,249.3 243.9,248.1 244.1,247.0 244.3,245.8 244.5,244.6 244.7,243.4 244.9,242.3 245.2,241.1 245.4,239.9 245.6,238.7 245.8,237.6 246.0,236.4 246.2,235.2 246.4,234.0 246.6,232.9 246.8,231.7 247.0,230.5 247.2,229.3 247.4,228.2 247.6,227.0 247.8,225.8 248.0,224.6 248.2,223.5 248.4,222.3 248.6,221.1 248.8,220.0 249.0,218.8 249.2,217.6 249.5,216.4 249.7,215.3 249.9,214.1 250.1,212.9 250.3,211.8 250.5,210.6 250.7,209.4 251.0,208.2 251.2,207.1 251.4,205.9 251.6,204.7 251.9,203.6 252.1,202.4 252.3,201.2 252.5,200.0 252.8,198.9 253.0,197.7 253.2,196.5 253.4,195.4 253.7,194.2 253.9,193.0 254.1,191.8 254.4,190.7 254.6,189.5 254.9,188.3 255.1,187.1 255.4,186.0 255.6,184.8 255.8,183.6 256.1,182.4 256.3,181.3 256.6,180.1 256.9,178.9 257.1,177.7 257.4,176.6 257.6,175.4 257.9,174.2 258.2,173.0 258.4,171.9 258.7,170.7 259.0,169.5 259.2,168.3 259.5,167.2 259.8,166.0 260.1,164.8 260.3,163.6 260.6,162.4 260.9,161.3 261.2,160.1 261.5,158.9 261.8,157.7 262.1,156.5 262.4,155.3 262.7,154.2 263.0,153.0 263.3,151.8 263.6,150.6 263.9,149.4 264.2,148.2 264.5,147.1 264.9,145.9 265.2,144.7 265.6,143.6 265.9,142.4 266.3,141.3 266.7,140.2 267.1,139.0 267.6,137.9 268.0,136.9 268.5,135.8 268.9,134.7 269.5,133.7 270.0,132.7 270.5,131.7 271.1,130.7 271.7,129.8 272.4,128.8 273.0,127.9 273.7,127.1 274.5,126.2 275.2,125.4 276.0,124.6 276.9,123.9 277.7,123.2 278.6,122.5 279.6,121.8 280.5,121.2 281.5,120.6 282.5,120.0 283.6,119.4 284.6,118.8 285.7,118.3 286.7,117.7 287.8,117.1 288.9,116.5 289.9,115.9 291.0,115.2 292.0,114.6 293.0,113.9 294.0,113.2 295.0,112.4 296.0,111.7 296.9,110.9 297.9,110.1 298.8,109.3 299.8,108.5 300.7,107.7 301.7,106.9 302.6,106.1 303.6,105.3 304.5,104.5 305.5,103.8 306.5,103.0 307.5,102.3 308.5,101.6 309.5,100.9 310.5,100.2 311.6,99.6 312.6,99.0 313.7,98.4 314.8,97.9 315.8,97.4 316.9,96.9 318.0,96.5 319.1,96.2 320.2,95.9 321.2,95.6 322.3,95.5 323.3,95.3 324.3,95.3 325.3,95.3 326.3,95.4 327.3,95.5 328.2,95.7 329.2,96.0 330.1,96.3 331.0,96.6 331.9,97.1 332.7,97.6 333.6,98.1 334.4,98.7 335.3,99.3 336.1,100.0 336.9,100.7 337.7,101.4 338.4,102.2 339.2,103.1 340.0,103.9 340.7,104.8 341.5,105.7 342.2,106.7 342.9,107.7 343.6,108.7 344.3,109.7 345.0,110.7 345.7,111.8 346.4,112.9 347.1,114.0 347.8,115.1 348.5,116.2 349.2,117.3 349.9,118.4 350.5,119.6 351.2,120.7 351.9,121.8 352.6,123.0 353.2,124.1 353.9,125.2 354.6,126.3 355.3,127.4 356.0,128.5 356.6,129.6 357.3,130.7 358.0,131.7 358.7,132.8 359.4,133.8 360.1,134.8 360.8,135.9 361.5,136.9 362.2,137.9 362.9,138.9 363.6,139.9 364.4,140.8 365.1,141.8 365.8,142.8 366.5,143.7 367.2,144.7 367.9,145.6 368.6,146.6 369.4,147.5 370.1,148.5 370.8,149.4 371.5,150.3 372.2,151.3 372.9,152.2 373.7,153.1 374.4,154.0 375.1,154.9 375.8,155.8 376.5,156.7 377.2,157.7 378.0,158.6 378.7,159.5 379.4,160.4 380.1,161.3 380.8,162.2 381.5,163.1 382.2,164.0 382.9,165.0 383.6,165.9 384.3,166.8 385.0,167.7 385.7,168.6 386.4,169.6 387.1,170.5 387.8,171.5 388.5,172.4 389.2,173.4 389.9,174.3 390.5,175.3 391.2,176.2 391.9,177.2 392.6,178.2 393.2,179.1 393.9,180.1 394.6,181.1 395.3,182.1 395.9,183.1 396.6,184.0 397.3,185.0 397.9,186.0 398.6,187.0 399.2,188.0 399.9,189.0 400.6,190.0 401.2,191.0 401.9,192.0 402.5,193.0 403.2,194.0 403.9,195.0 404.5,196.1 405.2,197.1 405.8,198.1 406.5,199.1 407.2,200.1 407.8,201.1 408.5,202.1 409.1,203.2 409.8,204.2 410.5,205.2 411.1,206.2 411.8,207.2 412.5,208.2 413.1,209.2 413.8,210.3 414.5,211.3 415.1,212.3 415.8,213.3 416.5,214.3 417.2,215.3 417.8,216.3 418.5,217.3 419.2,218.3 419.9,219.3 420.6,220.3 421.3,221.3 422.0,222.3 422.7,223.3 423.3,224.3 424.0,225.3 424.8,226.3 425.5,227.3 426.2,228.2 426.9,229.2 427.6,230.2 428.3,231.1 429.0,232.1 429.8,233.1 430.5,234.0 431.2,235.0 432.0,235.9 432.7,236.9 433.4,237.8 434.2,238.8 434.9,239.7 435.7,240.6 436.5,241.5 437.2,242.5 438.0,243.4 438.8,244.3 439.6,245.2 440.3,246.1 441.1,247.0 441.9,247.9 442.7,248.7 443.5,249.6 444.4,250.5 445.2,251.3 446.0,252.2 446.8,253.0 447.7,253.9 448.5,254.7 449.3,255.5 450.2,256.4 451.1,257.2 451.9,258.0 452.8,258.8 453.7,259.6 454.6,260.3 455.4,261.1 456.3,261.9 457.2,262.7 458.1,263.4 459.0,264.2 459.9,265.0 460.9,265.7 461.8,266.5 462.7,267.2 463.6,268.0 464.5,268.7 465.5,269.4 466.4,270.2 467.3,270.9 468.3,271.7 469.2,272.4 470.2,273.1 471.1,273.9 472.0,274.6 473.0,275.3 473.9,276.1 474.9,276.8 475.8,277.6 476.8,278.3 477.7,279.0 478.6,279.8 479.6,280.5 480.5,281.3 481.5,282.1 482.4,282.8 483.4,283.6 484.3,284.3 485.3,285.1 486.2,285.8 487.2,286.5 488.1,287.3 489.1,288.0 490.1,288.7 491.1,289.4 492.0,290.1 493.0,290.8 494.0,291.5 495.0,292.1 496.0,292.8 497.0,293.4 498.1,294.0 499.1,294.6 500.1,295.2 501.2,295.8 502.2,296.3 503.3,296.9 504.4,297.4 505.4,297.9 506.5,298.4 507.6,298.9 508.7,299.4 509.8,299.9 510.9,300.3 512.0,300.8 513.1,301.2 514.2,301.7 515.3,302.1 516.5,302.5 517.6,302.9 518.7,303.3 519.9,303.7 521.0,304.0 522.1,304.4 523.3,304.8 524.4,305.1 525.6,305.4 526.7,305.8 527.9,306.1 529.0,306.4 530.2,306.7 531.4,307.0 532.5,307.3 533.7,307.6 534.8,307.9 536.0,308.2 537.2,308.5 538.3,308.8 539.5,309.1 540.7,309.3 541.8,309.6 543.0,309.8 544.2,310.1 545.3,310.3 546.5,310.6 547.7,310.8 548.9,311.0 550.0,311.3 551.2,311.5 552.4,311.7 553.6,311.9 554.7,312.1 555.9,312.3 557.1,312.5 558.3,312.7 559.5,312.9 560.6,313.1 561.8,313.3 563.0,313.5 564.2,313.6 565.4,313.8 566.5,314.0 567.7,314.2 568.9,314.3 570.1,314.5 571.3,314.6 572.5,314.8 573.7,314.9 574.8,315.1 576.0,315.2 577.2,315.3 578.4,315.5 579.6,315.6 580.8,315.7 582.0,315.8 583.2,315.9 584.4,316.1 585.6,316.2 586.7,316.3 587.9,316.4 589.1,316.5 590.3,316.6 591.5,316.7 592.7,316.8 593.9,316.9 595.1,317.0 596.3,317.0 597.5,317.1 598.7,317.2 599.9,317.3 601.1,317.4 602.3,317.4 603.5,317.5 604.7,317.6 605.9,317.6 607.1,317.7 608.3,317.8 609.5,317.8 610.6,317.9 611.8,317.9 613.0,318.0 614.2,318.0 615.4,318.1 616.6,318.1 617.8,318.2 619.0,318.2 620.2,318.3 621.4,318.3 622.6,318.4 623.8,318.4 625.0,318.4 626.2,318.5 627.4,318.5 628.6,318.5 629.8,318.6 631.0,318.6 632.2,318.6 633.4,318.7 634.6,318.7 635.8,318.7 637.0,318.8 638.2,318.8 639.4,318.8 640.6,318.8 641.8,318.9 643.0,318.9 644.2,318.9 645.4,318.9 646.5,318.9 647.7,319.0 648.9,319.0 650.1,319.0 651.3,319.0 652.5,319.1 653.7,319.1 654.9,319.1 655.5,319.1 L655.5,320.1 L70.5,320.1 Z" fill="#196ede" fill-opacity="0.695"/>
<path d="M70.5,320.1 71.7,320.1 72.9,320.1 74.1,320.1 75.3,320.1 76.5,320.1 77.7,320.1 78.9,320.1 80.1,320.1 81.3,320.1 82.5,320.1 83.7,320.1 84.9,320.1 86.1,320.1 87.3,320.1 88.5,320.1 89.7,320.1 90.9,320.1 92.1,320.1 93.3,320.1 94.5,320.1 95.7,320.1 96.9,320.1 98.1,320.1 99.3,320.1 100.5,320.1 101.7,320.1 102.9,320.1 104.1,320.1 105.3,320.1 106.5,320.1 107.6,320.1 108.8,320.1 110.0,320.1 111.2,320.1 112.4,320.1 113.6,320.1 114.8,320.1 116.0,320.1 117.2,320.1 118.4,320.1 119.6,320.1 120.7,320.1 121.9,320.1 123.1,320.1 124.3,320.1 125.5,320.0 126.7,320.0 127.9,320.0 129.1,320.0 130.3,320.0 131.5,320.0 132.7,320.0 133.8,320.0 135.0,320.0 136.2,320.0 137.4,320.0 138.6,320.0 139.8,320.0 141.0,320.0 142.2,320.0 143.4,320.0 144.6,320.0 145.8,320.0 147.0,320.0 148.2,320.0 149.4,320.0 150.6,320.0 151.8,320.0 153.0,320.0 154.2,320.0 155.4,320.0 156.6,320.0 157.8,320.0 159.0,320.0 160.2,320.0 161.4,320.0 162.6,320.0 163.8,320.1 165.0,320.1 166.2,320.1 167.4,320.1 168.6,320.1 169.8,320.1 171.0,320.1 172.2,320.1 173.4,320.1 174.6,320.1 175.9,320.1 177.1,320.1 178.3,320.1 179.5,320.1 180.7,320.1 181.9,320.1 183.1,320.1 184.3,320.1 185.5,320.1 186.7,320.1 187.9,320.1 189.1,320.1 190.3,320.0 191.5,319.9 192.7,319.8 193.9,319.7 195.1,319.6 196.2,319.4 197.4,319.3 198.6,319.1 199.7,318.9 200.9,318.7 202.1,318.5 203.2,318.2 204.4,317.9 205.5,317.6 206.6,317.3 207.8,317.0 208.9,316.6 210.0,316.2 211.1,315.8 212.2,315.3 213.3,314.8 214.4,314.3 215.5,313.8 216.5,313.2 217.6,312.6 218.6,312.0 219.6,311.3 220.6,310.6 221.5,309.9 222.5,309.2 223.4,308.4 224.3,307.6 225.1,306.7 225.9,305.9 226.7,305.0 227.4,304.0 228.1,303.1 228.8,302.1 229.4,301.1 230.0,300.0 230.6,299.0 231.1,297.9 231.6,296.8 232.1,295.7 232.6,294.6 233.1,293.5 233.5,292.4 233.9,291.2 234.4,290.1 234.8,289.0 235.2,287.8 235.6,286.7 235.9,285.6 236.3,284.4 236.6,283.3 237.0,282.1 237.3,281.0 237.6,279.8 237.9,278.7 238.2,277.5 238.5,276.3 238.8,275.2 239.1,274.0 239.3,272.8 239.6,271.7 239.9,270.5 240.1,269.3 240.4,268.2 240.6,267.0 240.8,265.8 241.0,264.6 241.3,263.5 241.5,262.3 241.7,261.1 241.9,259.9 242.1,258.7 242.3,257.6 242.5,256.4 242.7,255.2 242.9,254.0 243.1,252.8 243.3,251.7 243.5,250.5 243.7,249.3 243.9,248.1 244.1,247.0 244.3,245.8 244.5,244.6 244.7,243.4 244.9,242.3 245.2,241.1 245.4,239.9 245.6,238.7 245.8,237.6 246.0,236.4 246.2,235.2 246.4,234.0 246.6,232.9 246.8,231.7 247.0,230.5 247.2,229.3 247.4,228.2 247.6,227.0 247.8,225.8 248.0,224.6 248.2,223.5 248.4,222.3 248.6,221.1 248.8,220.0 249.0,218.8 249.2,217.6 249.5,216.4 249.7,215.3 249.9,214.1 250.1,212.9 250.3,211.8 250.5,210.6 250.7,209.4 251.0,208.2 251.2,207.1 251.4,205.9 251.6,204.7 251.9,203.6 252.1,202.4 252.3,201.2 252.5,200.0 252.8,198.9 253.0,197.7 253.2,196.5 253.4,195.4 253.7,194.2 253.9,193.0 254.1,191.8 254.4,190.7 254.6,189.5 254.9,188.3 255.1,187.1 255.4,186.0 255.6,184.8 255.8,183.6 256.1,182.4 256.3,181.3 256.6,180.1 256.9,178.9 257.1,177.7 257.4,176.6 257.6,175.4 257.9,174.2 258.2,173.0 258.4,171.9 258.7,170.7 259.0,169.5 259.2,168.3 259.5,167.2 259.8,166.0 260.1,164.8 260.3,163.6 260.6,162.4 260.9,161.3 261.2,160.1 261.5,158.9 261.8,157.7 262.1,156.5 262.4,155.3 262.7,154.2 263.0,153.0 263.3,151.8 263.6,150.6 263.9,149.4 264.2,148.2 264.5,147.1 264.9,145.9 265.2,144.7 265.6,143.6 265.9,142.4 266.3,141.3 266.7,140.2 267.1,139.0 267.6,137.9 268.0,136.9 268.5,135.8 268.9,134.7 269.5,133.7 270.0,132.7 270.5,131.7 271.1,130.7 271.7,129.8 272.4,128.8 273.0,127.9 273.7,127.1 274.5,126.2 275.2,125.4 276.0,124.6 276.9,123.9 277.7,123.2 278.6,122.5 279.6,121.8 280.5,121.2 281.5,120.6 282.5,120.0 283.6,119.4 284.6,118.8 285.7,118.3 286.7,117.7 287.8,117.1 288.9,116.5 289.9,115.9 291.0,115.2 292.0,114.6 293.0,113.9 294.0,113.2 295.0,112.4 296.0,111.7 296.9,110.9 297.9,110.1 298.8,109.3 299.8,108.5 300.7,107.7 301.7,106.9 302.6,106.1 303.6,105.3 304.5,104.5 305.5,103.8 306.5,103.0 307.5,102.3 308.5,101.6 309.5,100.9 310.5,100.2 311.6,99.6 312.6,99.0 313.7,98.4 314.8,97.9 315.8,97.4 316.9,96.9 318.0,96.5 319.1,96.2 320.2,95.9 321.2,95.6 322.3,95.5 323.3,95.3 324.3,95.3 325.3,95.3 326.3,95.4 327.3,95.5 328.2,95.7 329.2,96.0 330.1,96.3 331.0,96.6 331.9,97.1 332.7,97.6 333.6,98.1 334.4,98.7 335.3,99.3 336.1,100.0 336.9,100.7 337.7,101.4 338.4,102.2 339.2,103.1 340.0,103.9 340.7,104.8 341.5,105.7 342.2,106.7 342.9,107.7 343.6,108.7 344.3,109.7 345.0,110.7 345.7,111.8 346.4,112.9 347.1,114.0 347.8,115.1 348.5,116.2 349.2,117.3 349.9,118.4 350.5,119.6 351.2,120.7 351.9,121.8 352.6,123.0 353.2,124.1 353.9,125.2 354.6,126.3 355.3,127.4 356.0,128.5 356.6,129.6 357.3,130.7 358.0,131.7 358.7,132.8 359.4,133.8 360.1,134.8 360.8,135.9 361.5,136.9 362.2,137.9 362.9,138.9 363.6,139.9 364.4,140.8 365.1,141.8 365.8,142.8 366.5,143.7 367.2,144.7 367.9,145.6 368.6,146.6 369.4,147.5 370.1,148.5 370.8,149.4 371.5,150.3 372.2,151.3 372.9,152.2 373.7,153.1 374.4,154.0 375.1,154.9 375.8,155.8 376.5,156.7 377.2,157.7 378.0,158.6 378.7,159.5 379.4,160.4 380.1,161.3 380.8,162.2 381.5,163.1 382.2,164.0 382.9,165.0 383.6,165.9 384.3,166.8 385.0,167.7 385.7,168.6 386.4,169.6 387.1,170.5 387.8,171.5 388.5,172.4 389.2,173.4 389.9,174.3 390.5,175.3 391.2,176.2 391.9,177.2 392.6,178.2 393.2,179.1 393.9,180.1 394.6,181.1 395.3,182.1 395.9,183.1 396.6,184.0 397.3,185.0 397.9,186.0 398.6,187.0 399.2,188.0 399.9,189.0 400.6,190.0 401.2,191.0 401.9,192.0 402.5,193.0 403.2,194.0 403.9,195.0 404.5,196.1 405.2,197.1 405.8,198.1 406.5,199.1 407.2,200.1 407.8,201.1 408.5,202.1 409.1,203.2 409.8,204.2 410.5,205.2 411.1,206.2 411.8,207.2 412.5,208.2 413.1,209.2 413.8,210.3 414.5,211.3 415.1,212.3 415.8,213.3 416.5,214.3 417.2,215.3 417.8,216.3 418.5,217.3 419.2,218.3 419.9,219.3 420.6,220.3 421.3,221.3 422.0,222.3 422.7,223.3 423.3,224.3 424.0,225.3 424.8,226.3 425.5,227.3 426.2,228.2 426.9,229.2 427.6,230.2 428.3,231.1 429.0,232.1 429.8,233.1 430.5,234.0 431.2,235.0 432.0,235.9 432.7,236.9 433.4,237.8 434.2,238.8 434.9,239.7 435.7,240.6 436.5,241.5 437.2,242.5 438.0,243.4 438.8,244.3 439.6,245.2 440.3,246.1 441.1,247.0 441.9,247.9 442.7,248.7 443.5,249.6 444.4,250.5 445.2,251.3 446.0,252.2 446.8,253.0 447.7,253.9 448.5,254.7 449.3,255.5 450.2,256.4 451.1,257.2 451.9,258.0 452.8,258.8 453.7,259.6 454.6,260.3 455.4,261.1 456.3,261.9 457.2,262.7 458.1,263.4 459.0,264.2 459.9,265.0 460.9,265.7 461.8,266.5 462.7,267.2 463.6,268.0 464.5,268.7 465.5,269.4 466.4,270.2 467.3,270.9 468.3,271.7 469.2,272.4 470.2,273.1 471.1,273.9 472.0,274.6 473.0,275.3 473.9,276.1 474.9,276.8 475.8,277.6 476.8,278.3 477.7,279.0 478.6,279.8 479.6,280.5 480.5,281.3 481.5,282.1 482.4,282.8 483.4,283.6 484.3,284.3 485.3,285.1 486.2,285.8 487.2,286.5 488.1,287.3 489.1,288.0 490.1,288.7 491.1,289.4 492.0,290.1 493.0,290.8 494.0,291.5 495.0,292.1 496.0,292.8 497.0,293.4 498.1,294.0 499.1,294.6 500.1,295.2 501.2,295.8 502.2,296.3 503.3,296.9 504.4,297.4 505.4,297.9 506.5,298.4 507.6,298.9 508.7,299.4 509.8,299.9 510.9,300.3 512.0,300.8 513.1,301.2 514.2,301.7 515.3,302.1 516.5,302.5 517.6,302.9 518.7,303.3 519.9,303.7 521.0,304.0 522.1,304.4 523.3,304.8 524.4,305.1 525.6,305.4 526.7,305.8 527.9,306.1 529.0,306.4 530.2,306.7 531.4,307.0 532.5,307.3 533.7,307.6 534.8,307.9 536.0,308.2 537.2,308.5 538.3,308.8 539.5,309.1 540.7,309.3 541.8,309.6 543.0,309.8 544.2,310.1 545.3,310.3 546.5,310.6 547.7,310.8 548.9,311.0 550.0,311.3 551.2,311.5 552.4,311.7 553.6,311.9 554.7,312.1 555.9,312.3 557.1,312.5 558.3,312.7 559.5,312.9 560.6,313.1 561.8,313.3 563.0,313.5 564.2,313.6 565.4,313.8 566.5,314.0 567.7,314.2 568.9,314.3 570.1,314.5 571.3,314.6 572.5,314.8 573.7,314.9 574.8,315.1 576.0,315.2 577.2,315.3 578.4,315.5 579.6,315.6 580.8,315.7 582.0,315.8 583.2,315.9 584.4,316.1 585.6,316.2 586.7,316.3 587.9,316.4 589.1,316.5 590.3,316.6 591.5,316.7 592.7,316.8 593.9,316.9 595.1,317.0 596.3,317.0 597.5,317.1 598.7,317.2 599.9,317.3 601.1,317.4 602.3,317.4 603.5,317.5 604.7,317.6 605.9,317.6 607.1,317.7 608.3,317.8 609.5,317.8 610.6,317.9 611.8,317.9 613.0,318.0 614.2,318.0 615.4,318.1 616.6,318.1 617.8,318.2 619.0,318.2 620.2,318.3 621.4,318.3 622.6,318.4 623.8,318.4 625.0,318.4 626.2,318.5 627.4,318.5 628.6,318.5 629.8,318.6 631.0,318.6 632.2,318.6 633.4,318.7 634.6,318.7 635.8,318.7 637.0,318.8 638.2,318.8 639.4,318.8 640.6,318.8 641.8,318.9 643.0,318.9 644.2,318.9 645.4,318.9 646.5,318.9 647.7,319.0 648.9,319.0 650.1,319.0 651.3,319.0 652.5,319.1 653.7,319.1 654.9,319.1 655.5,319.1" fill="none" stroke="#1a6ae0" stroke-width="2" stroke-linejoin="round"/>
<rect x="70.5" y="51.2" width="585.0" height="271.20000000000005" fill="none" stroke="#111" stroke-width="1.7"/>
<path d="M63.5,320.1H70.5 M67.0,297.5H70.5 M63.5,274.9H70.5 M67.0,252.3H70.5 M63.5,229.7H70.5 M67.0,207.1H70.5 M63.5,184.4H70.5 M67.0,161.8H70.5 M63.5,139.2H70.5 M67.0,116.6H70.5 M63.5,94.0H70.5 M67.0,71.4H70.5 M70.5,322.40000000000003V329.40000000000003 M119.2,322.40000000000003V326.90000000000003 M168.0,322.40000000000003V329.40000000000003 M216.8,322.40000000000003V326.90000000000003 M265.5,322.40000000000003V329.40000000000003 M314.2,322.40000000000003V326.90000000000003 M363.0,322.40000000000003V329.40000000000003 M411.8,322.40000000000003V326.90000000000003 M460.5,322.40000000000003V329.40000000000003 M509.2,322.40000000000003V326.90000000000003 M558.0,322.40000000000003V329.40000000000003 M606.8,322.40000000000003V326.90000000000003 M655.5,322.40000000000003V329.40000000000003" stroke="#111" stroke-width="1.6" fill="none"/>
<text x="58.2" y="324.5" font-size="14.6" text-anchor="end">0.0</text>
<text x="58.2" y="279.3" font-size="14.6" text-anchor="end">0.2</text>
<text x="58.2" y="234.1" font-size="14.6" text-anchor="end">0.4</text>
<text x="58.2" y="188.8" font-size="14.6" text-anchor="end">0.6</text>
<text x="58.2" y="143.6" font-size="14.6" text-anchor="end">0.8</text>
<text x="58.2" y="98.4" font-size="14.6" text-anchor="end">1.0</text>
<text x="70.5" y="349.6" font-size="18" text-anchor="middle">350</text>
<text x="168.0" y="349.6" font-size="18" text-anchor="middle">400</text>
<text x="265.5" y="349.6" font-size="18" text-anchor="middle">450</text>
<text x="363.0" y="349.6" font-size="18" text-anchor="middle">500</text>
<text x="460.5" y="349.6" font-size="18" text-anchor="middle">550</text>
<text x="558.0" y="349.6" font-size="18" text-anchor="middle">600</text>
<text x="655.5" y="349.6" font-size="18" text-anchor="middle">650</text>
<text x="363.0" y="366.2" font-size="18" text-anchor="middle">Wavelength (nm)</text>
<text transform="translate(26.9,186.8) rotate(-90)" font-size="18" text-anchor="middle">Norm. Intensity (arb. units)</text>
<rect x="545.2" y="54.4" width="41.0" height="20.500000000000007" fill="#75c798"/>
<path d="M545.2,55.0H586.2M545.2,74.30000000000001H586.2" stroke="#35ac68" stroke-width="1.3"/>
<path d="M545.6,87.1H550.8M561.2,87.1H566.6M576.1,87.1H582.0" stroke="#505050" stroke-width="3.4" stroke-linecap="round"/>
<rect x="545.2" y="99.6" width="41.0" height="20.10000000000001" fill="#5d96e8"/>
<path d="M545.2,100.19999999999999H586.2M545.2,119.10000000000001H586.2" stroke="#1a6ae0" stroke-width="1.3"/>
<text x="595.6" y="70.7" font-size="18" font-weight="bold">0 min</text>
<text x="595.6" y="92.9" font-size="18" font-weight="bold">5 min</text>
<text x="595.6" y="115.2" font-size="18" font-weight="bold">10 min</text>
<path d="M293.6,68.4 L318.70000000000005,55.7 L312.1,65.9 H411.7 V70.9 H312.1 L318.70000000000005,81.10000000000001 Z" fill="#3d4466"/>
<text x="28.7" y="39.3" font-size="31" font-weight="bold">a</text><text x="54.3" y="39.3" font-size="31.5">C</text><text x="77.3" y="39.3" font-size="31.5">D</text><text x="99.7" y="39.3" font-size="31.5">C</text><text x="120.2" y="39.3" font-size="31.5">l</text><text x="127.1" y="45.7" font-size="21.5">3</text>
<path d="M9.6,393.6 H1.3 V741.4 H683.7 V393.6 H185" fill="none" stroke="#c3c3c3" stroke-width="2.7"/>
<defs><linearGradient id="g50" x1="0" x2="1" y1="0" y2="0"><stop offset="0" stop-color="#0a8ccc"/><stop offset="0.5" stop-color="#0896d6"/><stop offset="1" stop-color="#04aae8"/></linearGradient><linearGradient id="g50b" x1="0" x2="0" y1="0" y2="1"><stop offset="0" stop-color="#06161e"/><stop offset="1" stop-color="#08202a"/></linearGradient></defs>
<rect x="158.9" y="501.6" width="59.9" height="131.9" fill="#02060a" stroke="#7d7d7d" stroke-width="2.6"/>
<path d="M162.0,632.2 V544.0 Q162.0,536.0 169.0,536.0 H209.3 Q216.3,536.0 216.3,544.0 V632.2 Z" fill="url(#g50b)" stroke="#1a6a80" stroke-width="1" stroke-opacity="0.8"/>
<rect x="168.0" y="530.0" width="43.3" height="8.5" rx="3" fill="#1a7070" fill-opacity="0.75"/>
<path d="M168.0,530.8 Q189.2,529.2 211.3,530.8 M167.0,534.0 Q189.2,532.5 212.3,534.0 M169.0,538.5 Q189.2,540.0 210.3,538.5" fill="none" stroke="#40c8b4" stroke-width="1.1" stroke-opacity="0.9"/>
<path d="M162.0,562.4 H216.3 V628.2 Q216.3,631.7 212.3,631.7 H166.0 Q162.0,631.7 162.0,628.2 Z" fill="url(#g50)"/>
<rect x="162.0" y="561.9" width="54.3" height="2" fill="#20b8ee" fill-opacity="0.8"/>
<defs><linearGradient id="g57" x1="0" x2="1" y1="0" y2="0"><stop offset="0" stop-color="#02b464"/><stop offset="0.5" stop-color="#04bc6c"/><stop offset="1" stop-color="#06d282"/></linearGradient><linearGradient id="g57b" x1="0" x2="0" y1="0" y2="1"><stop offset="0" stop-color="#08200e"/><stop offset="1" stop-color="#0c2e18"/></linearGradient></defs>
<rect x="540.9" y="501.6" width="59.6" height="131.7" fill="#000804" stroke="#7d7d7d" stroke-width="2.6"/>
<path d="M544.0,632.0 V537.0 Q544.0,529.0 551.0,529.0 H591.0 Q598.0,529.0 598.0,537.0 V632.0 Z" fill="url(#g57b)" stroke="#157040" stroke-width="1" stroke-opacity="0.8"/>
<rect x="550.0" y="523.0" width="43.0" height="8.5" rx="3" fill="#187a44" fill-opacity="0.75"/>
<path d="M550.0,523.8 Q571.0,522.2 593.0,523.8 M549.0,527.0 Q571.0,525.5 594.0,527.0 M551.0,531.5 Q571.0,533.0 592.0,531.5" fill="none" stroke="#30c078" stroke-width="1.1" stroke-opacity="0.9"/>
<path d="M544.0,557.2 H598.0 V628.0 Q598.0,631.5 594.0,631.5 H548.0 Q544.0,631.5 544.0,628.0 Z" fill="url(#g57)"/>
<rect x="544.0" y="556.7" width="54.0" height="2" fill="#30e098" fill-opacity="0.8"/>
<path d="M70.5,684.8 71.7,684.8 72.8,684.8 74.0,684.8 75.2,684.8 76.3,684.8 77.5,684.8 78.7,684.8 79.8,684.8 81.0,684.8 82.2,684.8 83.3,684.8 84.5,684.8 85.6,684.8 86.8,684.8 88.0,684.8 89.1,684.8 90.3,684.8 91.5,684.8 92.6,684.8 93.8,684.8 95.0,684.8 96.1,684.8 97.3,684.8 98.5,684.8 99.7,684.8 100.8,684.8 102.0,684.8 103.2,684.8 104.3,684.8 105.5,684.8 106.7,684.8 107.8,684.8 109.0,684.8 110.2,684.8 111.3,684.8 112.5,684.8 113.7,684.8 114.8,684.8 116.0,684.8 117.2,684.8 118.3,684.8 119.5,684.8 120.7,684.8 121.8,684.8 123.0,684.8 124.2,684.8 125.3,684.8 126.5,684.8 127.7,684.8 128.9,684.8 130.0,684.8 131.2,684.8 132.4,684.8 133.5,684.8 134.7,684.8 135.9,684.8 137.0,684.8 138.2,684.8 139.4,684.8 140.5,684.8 141.7,684.8 142.9,684.8 144.0,684.8 145.2,684.8 146.4,684.8 147.5,684.8 148.7,684.8 149.8,684.8 151.0,684.8 152.2,684.8 153.3,684.8 154.5,684.8 155.7,684.8 156.8,684.8 158.0,684.8 159.2,684.8 160.3,684.8 161.5,684.8 162.6,684.8 163.8,684.8 165.0,684.8 166.1,684.8 167.3,684.7 168.5,684.7 169.6,684.7 170.8,684.7 172.0,684.7 173.1,684.7 174.3,684.7 175.4,684.7 176.6,684.7 177.8,684.7 178.9,684.7 180.1,684.6 181.3,684.6 182.4,684.6 183.6,684.6 184.8,684.6 185.9,684.6 187.1,684.6 188.3,684.6 189.4,684.6 190.6,684.6 191.8,684.5 192.9,684.5 194.1,684.5 195.3,684.5 196.5,684.5 197.6,684.5 198.8,684.5 200.0,684.5 201.1,684.5 202.3,684.4 203.5,684.4 204.7,684.4 205.8,684.4 207.0,684.4 208.2,684.4 209.4,684.4 210.5,684.3 211.7,684.3 212.9,684.3 214.1,684.2 215.2,684.2 216.4,684.1 217.6,684.1 218.7,684.0 219.9,684.0 221.1,683.9 222.2,683.8 223.4,683.7 224.6,683.6 225.7,683.5 226.9,683.4 228.1,683.3 229.2,683.2 230.4,683.0 231.5,682.9 232.7,682.7 233.8,682.5 235.0,682.4 236.1,682.2 237.3,681.9 238.4,681.7 239.6,681.5 240.7,681.2 241.8,681.0 243.0,680.7 244.1,680.4 245.2,680.1 246.4,679.7 247.5,679.4 248.6,679.0 249.7,678.7 250.8,678.3 251.9,677.8 253.0,677.4 254.1,676.9 255.1,676.5 256.2,676.0 257.3,675.5 258.3,674.9 259.3,674.4 260.3,673.8 261.3,673.2 262.3,672.5 263.2,671.9 264.2,671.2 265.1,670.5 266.0,669.8 266.8,669.0 267.7,668.3 268.5,667.5 269.3,666.6 270.1,665.8 270.8,664.9 271.6,664.0 272.3,663.1 273.0,662.1 273.7,661.2 274.3,660.2 275.0,659.2 275.6,658.2 276.2,657.2 276.8,656.2 277.4,655.2 278.0,654.1 278.6,653.1 279.2,652.0 279.8,651.0 280.3,650.0 280.9,648.9 281.5,647.9 282.0,646.8 282.6,645.8 283.1,644.7 283.7,643.7 284.2,642.6 284.7,641.6 285.3,640.5 285.8,639.5 286.3,638.4 286.8,637.4 287.4,636.3 287.9,635.3 288.4,634.2 288.9,633.2 289.4,632.1 289.9,631.1 290.4,630.0 290.9,628.9 291.4,627.9 291.9,626.8 292.4,625.8 292.8,624.7 293.3,623.7 293.8,622.6 294.3,621.5 294.7,620.5 295.2,619.4 295.7,618.4 296.1,617.3 296.6,616.2 297.0,615.2 297.5,614.1 297.9,613.0 298.4,612.0 298.8,610.9 299.3,609.8 299.7,608.8 300.2,607.7 300.6,606.6 301.0,605.6 301.5,604.5 301.9,603.4 302.3,602.4 302.7,601.3 303.2,600.2 303.6,599.1 304.0,598.0 304.4,597.0 304.8,595.9 305.2,594.8 305.6,593.7 306.0,592.6 306.5,591.6 306.9,590.5 307.3,589.4 307.7,588.3 308.1,587.2 308.5,586.1 308.8,585.0 309.2,583.9 309.6,582.9 310.0,581.8 310.4,580.7 310.8,579.6 311.2,578.5 311.6,577.4 312.0,576.3 312.3,575.2 312.7,574.1 313.1,573.0 313.5,571.9 313.9,570.8 314.3,569.7 314.6,568.6 315.0,567.4 315.4,566.3 315.8,565.2 316.2,564.1 316.5,563.0 316.9,561.9 317.3,560.8 317.7,559.7 318.1,558.6 318.4,557.5 318.8,556.4 319.2,555.3 319.6,554.2 320.0,553.1 320.4,551.9 320.8,550.8 321.2,549.7 321.5,548.6 321.9,547.5 322.3,546.4 322.7,545.3 323.1,544.2 323.5,543.1 323.9,542.0 324.3,540.9 324.8,539.8 325.2,538.7 325.6,537.6 326.0,536.5 326.4,535.4 326.8,534.3 327.3,533.3 327.7,532.2 328.1,531.1 328.6,530.0 329.0,528.9 329.4,527.8 329.9,526.7 330.3,525.7 330.8,524.6 331.2,523.5 331.7,522.4 332.2,521.4 332.6,520.3 333.1,519.2 333.6,518.2 334.1,517.1 334.6,516.0 335.0,515.0 335.5,513.9 336.0,512.9 336.6,511.8 337.1,510.8 337.6,509.7 338.1,508.7 338.6,507.7 339.2,506.6 339.7,505.6 340.3,504.6 340.8,503.5 341.4,502.5 341.9,501.5 342.5,500.5 343.1,499.5 343.7,498.5 344.2,497.5 344.8,496.5 345.4,495.5 346.1,494.5 346.7,493.5 347.3,492.5 347.9,491.5 348.6,490.5 349.2,489.6 349.9,488.6 350.5,487.6 351.2,486.7 351.9,485.7 352.6,484.7 353.2,483.8 353.9,482.8 354.7,481.9 355.4,481.0 356.1,480.0 356.8,479.1 357.6,478.2 358.3,477.3 359.1,476.4 359.8,475.5 360.6,474.6 361.4,473.7 362.2,472.8 363.0,471.9 363.8,471.0 364.7,470.1 365.5,469.3 366.3,468.4 367.2,467.6 368.1,466.8 368.9,466.0 369.8,465.3 370.7,464.6 371.7,463.9 372.6,463.2 373.6,462.6 374.5,462.1 375.5,461.5 376.5,461.1 377.5,460.7 378.5,460.3 379.6,460.0 380.7,459.7 381.7,459.5 382.8,459.4 383.9,459.3 385.0,459.2 386.1,459.2 387.1,459.3 388.2,459.4 389.3,459.6 390.4,459.8 391.4,460.0 392.4,460.3 393.5,460.7 394.5,461.0 395.5,461.5 396.4,461.9 397.4,462.4 398.3,463.0 399.3,463.6 400.2,464.2 401.1,464.8 402.0,465.5 402.9,466.2 403.8,466.9 404.6,467.7 405.5,468.5 406.3,469.3 407.2,470.1 408.0,470.9 408.8,471.8 409.6,472.6 410.4,473.5 411.2,474.4 412.0,475.3 412.8,476.2 413.5,477.1 414.3,478.1 415.1,479.0 415.8,479.9 416.6,480.8 417.3,481.8 418.1,482.7 418.8,483.6 419.6,484.6 420.3,485.5 421.0,486.5 421.7,487.4 422.5,488.4 423.2,489.3 423.9,490.3 424.6,491.2 425.3,492.2 426.0,493.2 426.7,494.1 427.4,495.1 428.0,496.1 428.7,497.0 429.4,498.0 430.1,499.0 430.8,500.0 431.4,500.9 432.1,501.9 432.7,502.9 433.4,503.9 434.1,504.9 434.7,505.9 435.4,506.8 436.0,507.8 436.7,508.8 437.3,509.8 437.9,510.8 438.6,511.8 439.2,512.8 439.8,513.8 440.5,514.8 441.1,515.8 441.7,516.8 442.3,517.8 442.9,518.8 443.6,519.8 444.2,520.8 444.8,521.8 445.4,522.8 446.0,523.8 446.6,524.9 447.2,525.9 447.8,526.9 448.4,527.9 449.0,528.9 449.6,529.9 450.2,530.9 450.8,531.9 451.4,532.9 452.0,534.0 452.6,535.0 453.2,536.0 453.8,537.0 454.4,538.0 455.0,539.0 455.6,540.0 456.2,541.0 456.8,542.1 457.4,543.1 458.0,544.1 458.6,545.1 459.1,546.1 459.7,547.1 460.3,548.1 460.9,549.1 461.5,550.1 462.1,551.2 462.7,552.2 463.3,553.2 463.9,554.2 464.5,555.2 465.1,556.2 465.7,557.2 466.2,558.2 466.8,559.2 467.4,560.2 468.0,561.2 468.6,562.2 469.2,563.2 469.8,564.2 470.4,565.2 471.0,566.2 471.6,567.2 472.2,568.2 472.8,569.2 473.5,570.1 474.1,571.1 474.7,572.1 475.3,573.1 475.9,574.1 476.5,575.1 477.1,576.0 477.8,577.0 478.4,578.0 479.0,579.0 479.6,579.9 480.3,580.9 480.9,581.9 481.5,582.8 482.2,583.8 482.8,584.8 483.5,585.7 484.1,586.7 484.8,587.6 485.4,588.6 486.1,589.5 486.7,590.5 487.4,591.4 488.1,592.3 488.7,593.3 489.4,594.2 490.1,595.1 490.7,596.1 491.4,597.0 492.1,597.9 492.8,598.8 493.5,599.8 494.2,600.7 494.9,601.6 495.6,602.5 496.3,603.4 497.0,604.3 497.7,605.2 498.5,606.1 499.2,607.0 499.9,607.9 500.6,608.7 501.4,609.6 502.1,610.5 502.9,611.4 503.6,612.2 504.4,613.1 505.2,614.0 505.9,614.8 506.7,615.7 507.5,616.5 508.3,617.4 509.1,618.2 509.8,619.0 510.6,619.9 511.5,620.7 512.3,621.5 513.1,622.4 513.9,623.2 514.7,624.0 515.6,624.8 516.4,625.6 517.3,626.4 518.1,627.2 519.0,628.0 519.8,628.7 520.7,629.5 521.6,630.3 522.4,631.1 523.3,631.8 524.2,632.6 525.1,633.3 526.0,634.1 526.9,634.8 527.8,635.6 528.7,636.3 529.6,637.0 530.5,637.8 531.4,638.5 532.4,639.2 533.3,639.9 534.2,640.6 535.2,641.3 536.1,642.0 537.1,642.7 538.0,643.3 539.0,644.0 540.0,644.7 540.9,645.3 541.9,646.0 542.9,646.6 543.9,647.3 544.8,647.9 545.8,648.6 546.8,649.2 547.8,649.8 548.8,650.4 549.8,651.0 550.8,651.6 551.8,652.2 552.8,652.8 553.9,653.4 554.9,653.9 555.9,654.5 556.9,655.1 558.0,655.6 559.0,656.2 560.0,656.7 561.1,657.2 562.1,657.8 563.2,658.3 564.2,658.8 565.3,659.3 566.3,659.8 567.4,660.3 568.5,660.8 569.5,661.2 570.6,661.7 571.7,662.2 572.7,662.6 573.8,663.1 574.9,663.5 576.0,663.9 577.1,664.4 578.2,664.8 579.3,665.2 580.3,665.6 581.4,666.0 582.5,666.4 583.6,666.7 584.7,667.1 585.8,667.5 587.0,667.8 588.1,668.2 589.2,668.5 590.3,668.9 591.4,669.2 592.5,669.5 593.6,669.8 594.8,670.2 595.9,670.5 597.0,670.8 598.1,671.1 599.3,671.3 600.4,671.6 601.5,671.9 602.7,672.2 603.8,672.5 604.9,672.7 606.1,673.0 607.2,673.2 608.3,673.5 609.5,673.7 610.6,674.0 611.8,674.2 612.9,674.4 614.1,674.7 615.2,674.9 616.4,675.1 617.5,675.3 618.7,675.5 619.8,675.7 621.0,675.9 622.1,676.1 623.3,676.3 624.4,676.5 625.6,676.7 626.7,676.9 627.9,677.1 629.0,677.3 630.2,677.5 631.3,677.6 632.5,677.8 633.6,678.0 634.8,678.1 635.9,678.3 637.1,678.5 638.3,678.6 639.4,678.8 640.6,679.0 641.7,679.1 642.9,679.3 644.0,679.4 645.2,679.6 646.3,679.8 647.5,679.9 648.6,680.1 649.8,680.2 650.9,680.4 652.1,680.5 653.2,680.7 654.4,680.8 655.0,680.9 L655.0,684.8 L70.5,684.8 Z" fill="#75c798" fill-opacity="1.0"/>
<path d="M70.5,684.8 71.7,684.8 72.8,684.8 74.0,684.8 75.2,684.8 76.3,684.8 77.5,684.8 78.7,684.8 79.8,684.8 81.0,684.8 82.2,684.8 83.3,684.8 84.5,684.8 85.6,684.8 86.8,684.8 88.0,684.8 89.1,684.8 90.3,684.8 91.5,684.8 92.6,684.8 93.8,684.8 95.0,684.8 96.1,684.8 97.3,684.8 98.5,684.8 99.7,684.8 100.8,684.8 102.0,684.8 103.2,684.8 104.3,684.8 105.5,684.8 106.7,684.8 107.8,684.8 109.0,684.8 110.2,684.8 111.3,684.8 112.5,684.8 113.7,684.8 114.8,684.8 116.0,684.8 117.2,684.8 118.3,684.8 119.5,684.8 120.7,684.8 121.8,684.8 123.0,684.8 124.2,684.8 125.3,684.8 126.5,684.8 127.7,684.8 128.9,684.8 130.0,684.8 131.2,684.8 132.4,684.8 133.5,684.8 134.7,684.8 135.9,684.8 137.0,684.8 138.2,684.8 139.4,684.8 140.5,684.8 141.7,684.8 142.9,684.8 144.0,684.8 145.2,684.8 146.4,684.8 147.5,684.8 148.7,684.8 149.8,684.8 151.0,684.8 152.2,684.8 153.3,684.8 154.5,684.8 155.7,684.8 156.8,684.8 158.0,684.8 159.2,684.8 160.3,684.8 161.5,684.8 162.6,684.8 163.8,684.8 165.0,684.8 166.1,684.8 167.3,684.7 168.5,684.7 169.6,684.7 170.8,684.7 172.0,684.7 173.1,684.7 174.3,684.7 175.4,684.7 176.6,684.7 177.8,684.7 178.9,684.7 180.1,684.6 181.3,684.6 182.4,684.6 183.6,684.6 184.8,684.6 185.9,684.6 187.1,684.6 188.3,684.6 189.4,684.6 190.6,684.6 191.8,684.5 192.9,684.5 194.1,684.5 195.3,684.5 196.5,684.5 197.6,684.5 198.8,684.5 200.0,684.5 201.1,684.5 202.3,684.4 203.5,684.4 204.7,684.4 205.8,684.4 207.0,684.4 208.2,684.4 209.4,684.4 210.5,684.3 211.7,684.3 212.9,684.3 214.1,684.2 215.2,684.2 216.4,684.1 217.6,684.1 218.7,684.0 219.9,684.0 221.1,683.9 222.2,683.8 223.4,683.7 224.6,683.6 225.7,683.5 226.9,683.4 228.1,683.3 229.2,683.2 230.4,683.0 231.5,682.9 232.7,682.7 233.8,682.5 235.0,682.4 236.1,682.2 237.3,681.9 238.4,681.7 239.6,681.5 240.7,681.2 241.8,681.0 243.0,680.7 244.1,680.4 245.2,680.1 246.4,679.7 247.5,679.4 248.6,679.0 249.7,678.7 250.8,678.3 251.9,677.8 253.0,677.4 254.1,676.9 255.1,676.5 256.2,676.0 257.3,675.5 258.3,674.9 259.3,674.4 260.3,673.8 261.3,673.2 262.3,672.5 263.2,671.9 264.2,671.2 265.1,670.5 266.0,669.8 266.8,669.0 267.7,668.3 268.5,667.5 269.3,666.6 270.1,665.8 270.8,664.9 271.6,664.0 272.3,663.1 273.0,662.1 273.7,661.2 274.3,660.2 275.0,659.2 275.6,658.2 276.2,657.2 276.8,656.2 277.4,655.2 278.0,654.1 278.6,653.1 279.2,652.0 279.8,651.0 280.3,650.0 280.9,648.9 281.5,647.9 282.0,646.8 282.6,645.8 283.1,644.7 283.7,643.7 284.2,642.6 284.7,641.6 285.3,640.5 285.8,639.5 286.3,638.4 286.8,637.4 287.4,636.3 287.9,635.3 288.4,634.2 288.9,633.2 289.4,632.1 289.9,631.1 290.4,630.0 290.9,628.9 291.4,627.9 291.9,626.8 292.4,625.8 292.8,624.7 293.3,623.7 293.8,622.6 294.3,621.5 294.7,620.5 295.2,619.4 295.7,618.4 296.1,617.3 296.6,616.2 297.0,615.2 297.5,614.1 297.9,613.0 298.4,612.0 298.8,610.9 299.3,609.8 299.7,608.8 300.2,607.7 300.6,606.6 301.0,605.6 301.5,604.5 301.9,603.4 302.3,602.4 302.7,601.3 303.2,600.2 303.6,599.1 304.0,598.0 304.4,597.0 304.8,595.9 305.2,594.8 305.6,593.7 306.0,592.6 306.5,591.6 306.9,590.5 307.3,589.4 307.7,588.3 308.1,587.2 308.5,586.1 308.8,585.0 309.2,583.9 309.6,582.9 310.0,581.8 310.4,580.7 310.8,579.6 311.2,578.5 311.6,577.4 312.0,576.3 312.3,575.2 312.7,574.1 313.1,573.0 313.5,571.9 313.9,570.8 314.3,569.7 314.6,568.6 315.0,567.4 315.4,566.3 315.8,565.2 316.2,564.1 316.5,563.0 316.9,561.9 317.3,560.8 317.7,559.7 318.1,558.6 318.4,557.5 318.8,556.4 319.2,555.3 319.6,554.2 320.0,553.1 320.4,551.9 320.8,550.8 321.2,549.7 321.5,548.6 321.9,547.5 322.3,546.4 322.7,545.3 323.1,544.2 323.5,543.1 323.9,542.0 324.3,540.9 324.8,539.8 325.2,538.7 325.6,537.6 326.0,536.5 326.4,535.4 326.8,534.3 327.3,533.3 327.7,532.2 328.1,531.1 328.6,530.0 329.0,528.9 329.4,527.8 329.9,526.7 330.3,525.7 330.8,524.6 331.2,523.5 331.7,522.4 332.2,521.4 332.6,520.3 333.1,519.2 333.6,518.2 334.1,517.1 334.6,516.0 335.0,515.0 335.5,513.9 336.0,512.9 336.6,511.8 337.1,510.8 337.6,509.7 338.1,508.7 338.6,507.7 339.2,506.6 339.7,505.6 340.3,504.6 340.8,503.5 341.4,502.5 341.9,501.5 342.5,500.5 343.1,499.5 343.7,498.5 344.2,497.5 344.8,496.5 345.4,495.5 346.1,494.5 346.7,493.5 347.3,492.5 347.9,491.5 348.6,490.5 349.2,489.6 349.9,488.6 350.5,487.6 351.2,486.7 351.9,485.7 352.6,484.7 353.2,483.8 353.9,482.8 354.7,481.9 355.4,481.0 356.1,480.0 356.8,479.1 357.6,478.2 358.3,477.3 359.1,476.4 359.8,475.5 360.6,474.6 361.4,473.7 362.2,472.8 363.0,471.9 363.8,471.0 364.7,470.1 365.5,469.3 366.3,468.4 367.2,467.6 368.1,466.8 368.9,466.0 369.8,465.3 370.7,464.6 371.7,463.9 372.6,463.2 373.6,462.6 374.5,462.1 375.5,461.5 376.5,461.1 377.5,460.7 378.5,460.3 379.6,460.0 380.7,459.7 381.7,459.5 382.8,459.4 383.9,459.3 385.0,459.2 386.1,459.2 387.1,459.3 388.2,459.4 389.3,459.6 390.4,459.8 391.4,460.0 392.4,460.3 393.5,460.7 394.5,461.0 395.5,461.5 396.4,461.9 397.4,462.4 398.3,463.0 399.3,463.6 400.2,464.2 401.1,464.8 402.0,465.5 402.9,466.2 403.8,466.9 404.6,467.7 405.5,468.5 406.3,469.3 407.2,470.1 408.0,470.9 408.8,471.8 409.6,472.6 410.4,473.5 411.2,474.4 412.0,475.3 412.8,476.2 413.5,477.1 414.3,478.1 415.1,479.0 415.8,479.9 416.6,480.8 417.3,481.8 418.1,482.7 418.8,483.6 419.6,484.6 420.3,485.5 421.0,486.5 421.7,487.4 422.5,488.4 423.2,489.3 423.9,490.3 424.6,491.2 425.3,492.2 426.0,493.2 426.7,494.1 427.4,495.1 428.0,496.1 428.7,497.0 429.4,498.0 430.1,499.0 430.8,500.0 431.4,500.9 432.1,501.9 432.7,502.9 433.4,503.9 434.1,504.9 434.7,505.9 435.4,506.8 436.0,507.8 436.7,508.8 437.3,509.8 437.9,510.8 438.6,511.8 439.2,512.8 439.8,513.8 440.5,514.8 441.1,515.8 441.7,516.8 442.3,517.8 442.9,518.8 443.6,519.8 444.2,520.8 444.8,521.8 445.4,522.8 446.0,523.8 446.6,524.9 447.2,525.9 447.8,526.9 448.4,527.9 449.0,528.9 449.6,529.9 450.2,530.9 450.8,531.9 451.4,532.9 452.0,534.0 452.6,535.0 453.2,536.0 453.8,537.0 454.4,538.0 455.0,539.0 455.6,540.0 456.2,541.0 456.8,542.1 457.4,543.1 458.0,544.1 458.6,545.1 459.1,546.1 459.7,547.1 460.3,548.1 460.9,549.1 461.5,550.1 462.1,551.2 462.7,552.2 463.3,553.2 463.9,554.2 464.5,555.2 465.1,556.2 465.7,557.2 466.2,558.2 466.8,559.2 467.4,560.2 468.0,561.2 468.6,562.2 469.2,563.2 469.8,564.2 470.4,565.2 471.0,566.2 471.6,567.2 472.2,568.2 472.8,569.2 473.5,570.1 474.1,571.1 474.7,572.1 475.3,573.1 475.9,574.1 476.5,575.1 477.1,576.0 477.8,577.0 478.4,578.0 479.0,579.0 479.6,579.9 480.3,580.9 480.9,581.9 481.5,582.8 482.2,583.8 482.8,584.8 483.5,585.7 484.1,586.7 484.8,587.6 485.4,588.6 486.1,589.5 486.7,590.5 487.4,591.4 488.1,592.3 488.7,593.3 489.4,594.2 490.1,595.1 490.7,596.1 491.4,597.0 492.1,597.9 492.8,598.8 493.5,599.8 494.2,600.7 494.9,601.6 495.6,602.5 496.3,603.4 497.0,604.3 497.7,605.2 498.5,606.1 499.2,607.0 499.9,607.9 500.6,608.7 501.4,609.6 502.1,610.5 502.9,611.4 503.6,612.2 504.4,613.1 505.2,614.0 505.9,614.8 506.7,615.7 507.5,616.5 508.3,617.4 509.1,618.2 509.8,619.0 510.6,619.9 511.5,620.7 512.3,621.5 513.1,622.4 513.9,623.2 514.7,624.0 515.6,624.8 516.4,625.6 517.3,626.4 518.1,627.2 519.0,628.0 519.8,628.7 520.7,629.5 521.6,630.3 522.4,631.1 523.3,631.8 524.2,632.6 525.1,633.3 526.0,634.1 526.9,634.8 527.8,635.6 528.7,636.3 529.6,637.0 530.5,637.8 531.4,638.5 532.4,639.2 533.3,639.9 534.2,640.6 535.2,641.3 536.1,642.0 537.1,642.7 538.0,643.3 539.0,644.0 540.0,644.7 540.9,645.3 541.9,646.0 542.9,646.6 543.9,647.3 544.8,647.9 545.8,648.6 546.8,649.2 547.8,649.8 548.8,650.4 549.8,651.0 550.8,651.6 551.8,652.2 552.8,652.8 553.9,653.4 554.9,653.9 555.9,654.5 556.9,655.1 558.0,655.6 559.0,656.2 560.0,656.7 561.1,657.2 562.1,657.8 563.2,658.3 564.2,658.8 565.3,659.3 566.3,659.8 567.4,660.3 568.5,660.8 569.5,661.2 570.6,661.7 571.7,662.2 572.7,662.6 573.8,663.1 574.9,663.5 576.0,663.9 577.1,664.4 578.2,664.8 579.3,665.2 580.3,665.6 581.4,666.0 582.5,666.4 583.6,666.7 584.7,667.1 585.8,667.5 587.0,667.8 588.1,668.2 589.2,668.5 590.3,668.9 591.4,669.2 592.5,669.5 593.6,669.8 594.8,670.2 595.9,670.5 597.0,670.8 598.1,671.1 599.3,671.3 600.4,671.6 601.5,671.9 602.7,672.2 603.8,672.5 604.9,672.7 606.1,673.0 607.2,673.2 608.3,673.5 609.5,673.7 610.6,674.0 611.8,674.2 612.9,674.4 614.1,674.7 615.2,674.9 616.4,675.1 617.5,675.3 618.7,675.5 619.8,675.7 621.0,675.9 622.1,676.1 623.3,676.3 624.4,676.5 625.6,676.7 626.7,676.9 627.9,677.1 629.0,677.3 630.2,677.5 631.3,677.6 632.5,677.8 633.6,678.0 634.8,678.1 635.9,678.3 637.1,678.5 638.3,678.6 639.4,678.8 640.6,679.0 641.7,679.1 642.9,679.3 644.0,679.4 645.2,679.6 646.3,679.8 647.5,679.9 648.6,680.1 649.8,680.2 650.9,680.4 652.1,680.5 653.2,680.7 654.4,680.8 655.0,680.9" fill="none" stroke="#35ac68" stroke-width="2.0" stroke-linejoin="round"/>
<path d="M70.5,684.8 71.7,684.8 72.8,684.8 74.0,684.8 75.1,684.8 76.3,684.8 77.4,684.8 78.6,684.8 79.7,684.8 80.9,684.8 82.0,684.8 83.2,684.8 84.4,684.8 85.5,684.8 86.7,684.8 87.8,684.8 89.0,684.8 90.1,684.8 91.3,684.8 92.4,684.8 93.6,684.8 94.7,684.8 95.9,684.8 97.1,684.8 98.2,684.8 99.4,684.8 100.5,684.8 101.7,684.8 102.8,684.8 104.0,684.8 105.2,684.8 106.3,684.8 107.5,684.8 108.6,684.8 109.8,684.8 110.9,684.8 112.1,684.8 113.2,684.8 114.4,684.8 115.6,684.8 116.7,684.8 117.9,684.8 119.0,684.8 120.2,684.8 121.3,684.8 122.5,684.8 123.7,684.8 124.8,684.8 126.0,684.8 127.1,684.8 128.3,684.8 129.4,684.8 130.6,684.8 131.7,684.8 132.9,684.8 134.1,684.8 135.2,684.8 136.4,684.8 137.5,684.8 138.7,684.8 139.8,684.8 141.0,684.8 142.2,684.8 143.3,684.8 144.5,684.8 145.6,684.8 146.8,684.8 147.9,684.8 149.1,684.8 150.2,684.8 151.4,684.8 152.5,684.8 153.7,684.8 154.9,684.8 156.0,684.8 157.2,684.8 158.3,684.8 159.5,684.8 160.6,684.8 161.8,684.8 162.9,684.8 164.1,684.8 165.2,684.8 166.4,684.8 167.5,684.8 168.7,684.8 169.8,684.8 171.0,684.8 172.1,684.8 173.3,684.8 174.4,684.8 175.6,684.8 176.7,684.8 177.9,684.8 179.0,684.8 180.2,684.8 181.3,684.8 182.5,684.8 183.7,684.8 184.8,684.8 186.0,684.8 187.1,684.8 188.3,684.8 189.4,684.8 190.6,684.8 191.7,684.8 192.9,684.8 194.1,684.7 195.2,684.7 196.4,684.7 197.6,684.7 198.7,684.7 199.9,684.7 201.1,684.6 202.2,684.6 203.4,684.6 204.6,684.5 205.8,684.5 207.0,684.5 208.1,684.4 209.3,684.3 210.5,684.3 211.7,684.2 212.8,684.1 214.0,683.9 215.1,683.8 216.3,683.6 217.4,683.3 218.5,683.0 219.6,682.7 220.7,682.4 221.7,682.0 222.8,681.6 223.8,681.1 224.8,680.6 225.8,680.0 226.7,679.4 227.7,678.8 228.6,678.1 229.5,677.4 230.4,676.6 231.2,675.8 232.0,675.0 232.9,674.2 233.7,673.4 234.5,672.5 235.3,671.7 236.0,670.8 236.8,670.0 237.5,669.1 238.3,668.2 239.0,667.3 239.7,666.4 240.4,665.5 241.1,664.6 241.8,663.7 242.5,662.7 243.1,661.8 243.8,660.9 244.4,659.9 245.1,659.0 245.7,658.0 246.3,657.1 246.9,656.1 247.5,655.1 248.1,654.1 248.7,653.1 249.3,652.1 249.8,651.1 250.4,650.1 250.9,649.1 251.5,648.1 252.0,647.1 252.5,646.1 253.1,645.1 253.6,644.0 254.1,643.0 254.6,642.0 255.1,640.9 255.6,639.9 256.0,638.8 256.5,637.8 257.0,636.7 257.5,635.6 257.9,634.6 258.4,633.5 258.8,632.4 259.3,631.4 259.7,630.3 260.2,629.2 260.6,628.1 261.0,627.0 261.5,626.0 261.9,624.9 262.3,623.8 262.7,622.7 263.1,621.6 263.5,620.5 263.9,619.4 264.3,618.3 264.8,617.2 265.2,616.1 265.6,615.0 265.9,613.9 266.3,612.8 266.7,611.7 267.1,610.6 267.5,609.5 267.9,608.4 268.3,607.3 268.7,606.2 269.1,605.1 269.5,604.0 269.9,602.9 270.3,601.8 270.6,600.7 271.0,599.6 271.4,598.4 271.8,597.3 272.2,596.2 272.6,595.2 273.0,594.1 273.4,593.0 273.8,591.9 274.2,590.8 274.6,589.7 275.0,588.6 275.4,587.5 275.8,586.4 276.2,585.3 276.6,584.3 277.1,583.2 277.5,582.1 277.9,581.0 278.3,580.0 278.8,578.9 279.2,577.8 279.6,576.8 280.1,575.7 280.5,574.6 280.9,573.6 281.4,572.5 281.8,571.4 282.3,570.4 282.7,569.3 283.2,568.3 283.6,567.2 284.1,566.2 284.5,565.1 285.0,564.1 285.4,563.0 285.9,562.0 286.4,560.9 286.8,559.9 287.3,558.8 287.8,557.8 288.2,556.8 288.7,555.7 289.2,554.7 289.7,553.6 290.2,552.6 290.6,551.6 291.1,550.5 291.6,549.5 292.1,548.5 292.6,547.4 293.1,546.4 293.6,545.4 294.1,544.3 294.6,543.3 295.1,542.3 295.6,541.2 296.1,540.2 296.6,539.2 297.1,538.2 297.6,537.1 298.1,536.1 298.6,535.1 299.2,534.1 299.7,533.0 300.2,532.0 300.7,531.0 301.2,529.9 301.8,528.9 302.3,527.9 302.8,526.9 303.4,525.8 303.9,524.8 304.4,523.8 304.9,522.8 305.5,521.7 306.0,520.7 306.6,519.7 307.1,518.7 307.6,517.6 308.2,516.6 308.7,515.6 309.3,514.5 309.8,513.5 310.4,512.5 310.9,511.4 311.5,510.4 312.0,509.4 312.6,508.4 313.1,507.3 313.7,506.3 314.3,505.3 314.9,504.3 315.4,503.2 316.0,502.2 316.6,501.2 317.2,500.2 317.8,499.2 318.4,498.2 319.0,497.2 319.6,496.2 320.2,495.2 320.9,494.2 321.5,493.3 322.1,492.3 322.8,491.3 323.5,490.4 324.1,489.4 324.8,488.5 325.5,487.5 326.2,486.6 326.9,485.7 327.6,484.8 328.3,483.9 329.1,483.0 329.8,482.1 330.6,481.2 331.4,480.4 332.1,479.5 332.9,478.7 333.7,477.9 334.6,477.1 335.4,476.3 336.2,475.5 337.1,474.7 338.0,473.9 338.9,473.2 339.8,472.4 340.7,471.7 341.6,471.0 342.6,470.3 343.5,469.6 344.5,468.9 345.5,468.3 346.5,467.7 347.5,467.1 348.5,466.5 349.5,465.9 350.6,465.3 351.6,464.8 352.7,464.3 353.8,463.8 354.8,463.4 355.9,462.9 357.0,462.5 358.1,462.1 359.1,461.8 360.2,461.4 361.3,461.1 362.4,460.8 363.5,460.6 364.6,460.4 365.7,460.2 366.8,460.0 367.9,459.9 368.9,459.8 370.0,459.8 371.1,459.8 372.2,459.8 373.2,459.8 374.3,459.9 375.3,460.0 376.4,460.2 377.4,460.4 378.4,460.6 379.4,460.9 380.4,461.2 381.4,461.6 382.4,462.0 383.4,462.4 384.3,462.8 385.3,463.3 386.2,463.8 387.2,464.4 388.1,465.0 389.0,465.6 389.9,466.2 390.8,466.9 391.7,467.5 392.6,468.2 393.5,469.0 394.4,469.7 395.2,470.5 396.1,471.3 396.9,472.1 397.8,473.0 398.6,473.8 399.4,474.7 400.2,475.6 401.1,476.5 401.9,477.4 402.7,478.3 403.5,479.3 404.2,480.2 405.0,481.2 405.8,482.1 406.6,483.1 407.3,484.1 408.1,485.1 408.8,486.1 409.6,487.1 410.3,488.1 411.0,489.1 411.8,490.1 412.5,491.1 413.2,492.1 413.9,493.2 414.6,494.2 415.3,495.2 416.0,496.2 416.7,497.1 417.4,498.1 418.1,499.1 418.7,500.1 419.4,501.1 420.1,502.0 420.8,503.0 421.4,504.0 422.1,504.9 422.7,505.9 423.4,506.8 424.0,507.8 424.7,508.7 425.3,509.7 426.0,510.6 426.6,511.6 427.2,512.5 427.9,513.4 428.5,514.4 429.1,515.3 429.8,516.3 430.4,517.2 431.0,518.1 431.6,519.0 432.3,520.0 432.9,520.9 433.5,521.8 434.1,522.8 434.7,523.7 435.4,524.6 436.0,525.6 436.6,526.5 437.2,527.4 437.8,528.3 438.4,529.3 439.1,530.2 439.7,531.2 440.3,532.1 440.9,533.0 441.6,534.0 442.2,534.9 442.8,535.9 443.4,536.8 444.1,537.7 444.7,538.7 445.3,539.6 445.9,540.6 446.6,541.5 447.2,542.5 447.8,543.4 448.5,544.4 449.1,545.3 449.7,546.3 450.4,547.3 451.0,548.2 451.6,549.2 452.3,550.1 452.9,551.1 453.6,552.0 454.2,553.0 454.8,553.9 455.5,554.9 456.1,555.8 456.8,556.8 457.4,557.8 458.1,558.7 458.7,559.7 459.4,560.6 460.0,561.6 460.7,562.5 461.4,563.5 462.0,564.4 462.7,565.4 463.3,566.3 464.0,567.3 464.7,568.3 465.4,569.2 466.0,570.2 466.7,571.1 467.4,572.0 468.0,573.0 468.7,573.9 469.4,574.9 470.1,575.8 470.8,576.8 471.5,577.7 472.2,578.7 472.8,579.6 473.5,580.5 474.2,581.5 474.9,582.4 475.6,583.3 476.3,584.3 477.0,585.2 477.7,586.1 478.5,587.0 479.2,588.0 479.9,588.9 480.6,589.8 481.3,590.7 482.0,591.7 482.8,592.6 483.5,593.5 484.2,594.4 485.0,595.3 485.7,596.2 486.4,597.1 487.2,598.0 487.9,598.9 488.7,599.8 489.4,600.7 490.2,601.6 490.9,602.5 491.7,603.4 492.4,604.2 493.2,605.1 494.0,606.0 494.7,606.9 495.5,607.7 496.3,608.6 497.1,609.5 497.9,610.3 498.6,611.2 499.4,612.0 500.2,612.9 501.0,613.7 501.8,614.6 502.6,615.4 503.4,616.3 504.2,617.1 505.1,617.9 505.9,618.7 506.7,619.6 507.5,620.4 508.3,621.2 509.2,622.0 510.0,622.8 510.8,623.6 511.7,624.4 512.5,625.2 513.4,626.0 514.2,626.8 515.1,627.6 515.9,628.3 516.8,629.1 517.6,629.9 518.5,630.6 519.4,631.4 520.2,632.1 521.1,632.9 522.0,633.6 522.9,634.3 523.8,635.1 524.7,635.8 525.6,636.5 526.5,637.2 527.4,637.9 528.3,638.6 529.2,639.3 530.1,640.0 531.0,640.7 531.9,641.4 532.8,642.1 533.8,642.8 534.7,643.4 535.6,644.1 536.6,644.7 537.5,645.4 538.5,646.0 539.4,646.6 540.4,647.3 541.3,647.9 542.3,648.5 543.3,649.1 544.2,649.7 545.2,650.3 546.2,650.9 547.2,651.5 548.1,652.0 549.1,652.6 550.1,653.2 551.1,653.7 552.1,654.3 553.1,654.8 554.1,655.3 555.2,655.9 556.2,656.4 557.2,656.9 558.2,657.4 559.3,657.9 560.3,658.4 561.3,658.9 562.4,659.3 563.4,659.8 564.5,660.3 565.5,660.7 566.6,661.1 567.6,661.6 568.7,662.0 569.8,662.4 570.9,662.8 571.9,663.2 573.0,663.6 574.1,664.0 575.2,664.4 576.3,664.8 577.4,665.1 578.5,665.5 579.6,665.9 580.7,666.2 581.8,666.5 582.9,666.9 584.0,667.2 585.2,667.5 586.3,667.9 587.4,668.2 588.5,668.5 589.6,668.8 590.8,669.1 591.9,669.4 593.0,669.7 594.2,670.0 595.3,670.2 596.4,670.5 597.6,670.8 598.7,671.1 599.8,671.3 601.0,671.6 602.1,671.9 603.2,672.1 604.4,672.4 605.5,672.6 606.6,672.9 607.8,673.1 608.9,673.4 610.1,673.6 611.2,673.8 612.3,674.1 613.5,674.3 614.6,674.5 615.7,674.8 616.8,675.0 618.0,675.2 619.1,675.5 620.2,675.7 621.3,675.9 622.5,676.2 623.6,676.4 624.7,676.6 625.8,676.8 627.0,677.0 628.1,677.3 629.2,677.5 630.3,677.7 631.4,677.9 632.6,678.1 633.7,678.3 634.8,678.4 636.0,678.6 637.1,678.8 638.2,678.9 639.4,679.1 640.5,679.2 641.6,679.4 642.8,679.5 643.9,679.6 645.1,679.7 646.3,679.8 647.4,679.9 648.6,680.0 649.7,680.1 650.9,680.1 652.1,680.2 653.3,680.2 654.5,680.3 655.1,680.3" fill="none" stroke="#111" stroke-width="2.9" stroke-dasharray="2.7 7.7" stroke-linecap="round" stroke-linejoin="round"/>
<path d="M70.5,684.8 71.6,684.8 72.8,684.8 74.1,684.8 75.3,684.8 76.5,684.8 77.8,684.8 79.0,684.8 80.2,684.8 81.4,684.8 82.6,684.8 83.9,684.8 85.1,684.8 86.3,684.8 87.5,684.8 88.7,684.8 89.9,684.8 91.1,684.8 92.3,684.8 93.5,684.8 94.7,684.8 95.9,684.8 97.1,684.8 98.3,684.8 99.5,684.8 100.6,684.8 101.8,684.8 103.0,684.8 104.2,684.8 105.4,684.8 106.6,684.8 107.7,684.8 108.9,684.8 110.1,684.8 111.3,684.8 112.5,684.8 113.6,684.8 114.8,684.8 116.0,684.8 117.2,684.8 118.3,684.8 119.5,684.8 120.7,684.8 121.9,684.8 123.0,684.8 124.2,684.8 125.4,684.8 126.6,684.8 127.7,684.8 128.9,684.8 130.1,684.8 131.3,684.8 132.4,684.8 133.6,684.8 134.8,684.8 136.0,684.8 137.2,684.8 138.3,684.8 139.5,684.8 140.7,684.8 141.9,684.8 143.1,684.8 144.3,684.8 145.5,684.8 146.7,684.8 147.8,684.8 149.0,684.8 150.2,684.8 151.4,684.8 152.6,684.8 153.8,684.8 155.0,684.8 156.2,684.8 157.5,684.8 158.7,684.8 159.9,684.8 161.1,684.8 162.3,684.8 163.5,684.8 164.8,684.8 166.0,684.8 167.2,684.8 168.4,684.8 169.7,684.8 170.9,684.8 172.2,684.8 173.4,684.8 174.6,684.8 175.9,684.8 177.1,684.8 178.4,684.8 179.6,684.8 180.9,684.8 182.1,684.8 183.3,684.7 184.6,684.7 185.8,684.6 187.0,684.5 188.2,684.4 189.4,684.3 190.6,684.2 191.8,684.0 193.0,683.9 194.1,683.7 195.3,683.5 196.5,683.2 197.6,683.0 198.7,682.7 199.8,682.4 200.9,682.0 202.0,681.6 203.0,681.2 204.1,680.8 205.1,680.3 206.1,679.9 207.1,679.3 208.1,678.8 209.0,678.1 210.0,677.5 210.9,676.8 211.8,676.1 212.6,675.4 213.5,674.6 214.3,673.8 215.1,672.9 215.9,672.1 216.7,671.2 217.4,670.2 218.2,669.3 218.9,668.3 219.6,667.3 220.3,666.3 220.9,665.3 221.6,664.2 222.2,663.1 222.8,662.0 223.4,660.9 224.0,659.8 224.6,658.7 225.1,657.6 225.7,656.4 226.2,655.3 226.7,654.1 227.2,653.0 227.7,651.8 228.1,650.6 228.6,649.5 229.0,648.3 229.5,647.2 229.9,646.0 230.3,644.8 230.7,643.7 231.1,642.5 231.4,641.4 231.8,640.2 232.1,639.1 232.5,637.9 232.8,636.8 233.1,635.6 233.4,634.5 233.7,633.3 234.0,632.2 234.3,631.0 234.6,629.9 234.9,628.7 235.2,627.6 235.4,626.4 235.7,625.3 235.9,624.2 236.2,623.0 236.4,621.9 236.7,620.7 236.9,619.6 237.2,618.4 237.4,617.3 237.6,616.1 237.8,615.0 238.1,613.9 238.3,612.7 238.5,611.6 238.7,610.4 238.9,609.3 239.2,608.1 239.4,607.0 239.6,605.8 239.8,604.7 240.1,603.5 240.3,602.4 240.5,601.2 240.7,600.1 241.0,598.9 241.2,597.7 241.4,596.6 241.7,595.4 241.9,594.3 242.2,593.1 242.4,592.0 242.6,590.8 242.9,589.6 243.1,588.5 243.4,587.3 243.6,586.1 243.9,585.0 244.2,583.8 244.4,582.7 244.7,581.5 244.9,580.3 245.2,579.2 245.5,578.0 245.7,576.8 246.0,575.7 246.3,574.5 246.6,573.3 246.8,572.2 247.1,571.0 247.4,569.9 247.7,568.7 248.0,567.5 248.3,566.4 248.6,565.2 248.9,564.0 249.2,562.9 249.5,561.7 249.8,560.6 250.1,559.4 250.4,558.2 250.7,557.1 251.0,555.9 251.3,554.8 251.7,553.6 252.0,552.4 252.3,551.3 252.6,550.1 253.0,549.0 253.3,547.8 253.7,546.7 254.0,545.5 254.4,544.4 254.7,543.2 255.1,542.1 255.4,540.9 255.8,539.8 256.2,538.6 256.5,537.5 256.9,536.3 257.3,535.2 257.7,534.0 258.0,532.9 258.4,531.8 258.8,530.6 259.2,529.5 259.6,528.4 260.0,527.2 260.4,526.1 260.8,525.0 261.3,523.8 261.7,522.7 262.1,521.6 262.5,520.5 263.0,519.3 263.4,518.2 263.8,517.1 264.3,516.0 264.7,514.9 265.2,513.8 265.6,512.6 266.1,511.5 266.6,510.4 267.0,509.3 267.5,508.2 268.0,507.1 268.5,506.0 269.0,504.9 269.5,503.8 270.0,502.8 270.5,501.7 271.0,500.6 271.5,499.5 272.0,498.4 272.5,497.4 273.1,496.3 273.6,495.2 274.2,494.2 274.7,493.1 275.3,492.1 275.9,491.0 276.5,490.0 277.1,489.0 277.7,487.9 278.3,486.9 278.9,485.9 279.6,484.9 280.2,483.9 280.9,482.9 281.5,481.9 282.2,481.0 282.9,480.0 283.6,479.0 284.3,478.1 285.1,477.1 285.8,476.2 286.6,475.3 287.3,474.4 288.1,473.5 288.9,472.6 289.7,471.7 290.5,470.8 291.4,469.9 292.2,469.1 293.1,468.2 294.0,467.4 294.9,466.6 295.8,465.8 296.8,465.0 297.7,464.2 298.7,463.4 299.7,462.7 300.7,462.0 301.7,461.3 302.7,460.6 303.7,460.1 304.8,459.6 305.8,459.2 306.9,458.8 308.0,458.6 309.0,458.4 310.1,458.4 311.2,458.5 312.3,458.7 313.3,458.9 314.4,459.3 315.5,459.8 316.5,460.3 317.5,460.9 318.5,461.5 319.5,462.2 320.5,462.9 321.4,463.6 322.4,464.3 323.3,465.1 324.1,465.9 325.0,466.7 325.8,467.5 326.7,468.4 327.5,469.2 328.3,470.1 329.1,471.0 329.8,471.9 330.6,472.9 331.3,473.8 332.1,474.8 332.8,475.7 333.5,476.7 334.2,477.7 334.9,478.7 335.6,479.7 336.3,480.7 337.0,481.7 337.6,482.8 338.3,483.8 339.0,484.8 339.6,485.8 340.3,486.8 341.0,487.9 341.6,488.9 342.3,489.9 343.0,490.9 343.6,491.9 344.3,492.9 345.0,493.9 345.7,494.9 346.3,495.9 347.0,496.9 347.7,497.9 348.4,498.9 349.0,499.9 349.7,500.8 350.4,501.8 351.1,502.8 351.7,503.8 352.4,504.8 353.1,505.7 353.8,506.7 354.5,507.7 355.1,508.7 355.8,509.6 356.5,510.6 357.2,511.6 357.8,512.6 358.5,513.5 359.2,514.5 359.8,515.5 360.5,516.5 361.2,517.4 361.8,518.4 362.5,519.4 363.2,520.4 363.8,521.3 364.5,522.3 365.1,523.3 365.8,524.3 366.4,525.3 367.1,526.3 367.7,527.3 368.4,528.3 369.0,529.2 369.7,530.2 370.3,531.2 371.0,532.2 371.6,533.3 372.2,534.3 372.9,535.3 373.5,536.3 374.1,537.3 374.7,538.3 375.4,539.3 376.0,540.3 376.6,541.4 377.2,542.4 377.9,543.4 378.5,544.4 379.1,545.4 379.7,546.5 380.3,547.5 380.9,548.5 381.6,549.6 382.2,550.6 382.8,551.6 383.4,552.6 384.0,553.7 384.6,554.7 385.2,555.7 385.9,556.8 386.5,557.8 387.1,558.8 387.7,559.9 388.3,560.9 388.9,561.9 389.5,563.0 390.2,564.0 390.8,565.0 391.4,566.0 392.0,567.1 392.6,568.1 393.3,569.1 393.9,570.2 394.5,571.2 395.1,572.2 395.8,573.2 396.4,574.3 397.0,575.3 397.6,576.3 398.3,577.3 398.9,578.4 399.5,579.4 400.2,580.4 400.8,581.4 401.5,582.4 402.1,583.4 402.8,584.5 403.4,585.5 404.1,586.5 404.7,587.5 405.4,588.5 406.0,589.5 406.7,590.5 407.4,591.5 408.0,592.5 408.7,593.5 409.4,594.4 410.1,595.4 410.7,596.4 411.4,597.4 412.1,598.4 412.8,599.3 413.5,600.3 414.2,601.3 414.9,602.3 415.6,603.2 416.3,604.2 417.1,605.1 417.8,606.1 418.5,607.0 419.2,608.0 420.0,608.9 420.7,609.8 421.5,610.8 422.2,611.7 423.0,612.6 423.7,613.6 424.5,614.5 425.3,615.4 426.0,616.3 426.8,617.2 427.6,618.1 428.4,619.0 429.2,619.9 430.0,620.8 430.8,621.6 431.6,622.5 432.5,623.4 433.3,624.3 434.1,625.1 434.9,626.0 435.8,626.8 436.6,627.7 437.5,628.5 438.3,629.4 439.2,630.2 440.1,631.0 440.9,631.8 441.8,632.6 442.7,633.5 443.6,634.3 444.5,635.1 445.4,635.8 446.3,636.6 447.2,637.4 448.1,638.2 449.0,639.0 450.0,639.7 450.9,640.5 451.8,641.2 452.7,642.0 453.7,642.7 454.6,643.4 455.6,644.2 456.5,644.9 457.5,645.6 458.5,646.3 459.4,647.0 460.4,647.7 461.4,648.4 462.4,649.1 463.4,649.8 464.3,650.4 465.3,651.1 466.3,651.8 467.3,652.4 468.3,653.1 469.4,653.7 470.4,654.3 471.4,654.9 472.4,655.6 473.4,656.2 474.5,656.8 475.5,657.4 476.6,658.0 477.6,658.5 478.6,659.1 479.7,659.7 480.7,660.2 481.8,660.8 482.9,661.3 483.9,661.9 485.0,662.4 486.1,662.9 487.1,663.4 488.2,663.9 489.3,664.4 490.4,664.9 491.5,665.4 492.6,665.9 493.7,666.3 494.8,666.8 495.9,667.3 497.0,667.7 498.1,668.1 499.2,668.6 500.3,669.0 501.4,669.4 502.6,669.8 503.7,670.2 504.8,670.6 506.0,670.9 507.1,671.3 508.2,671.7 509.4,672.0 510.5,672.4 511.6,672.7 512.8,673.0 513.9,673.3 515.1,673.6 516.3,673.9 517.4,674.2 518.6,674.5 519.7,674.8 520.9,675.0 522.1,675.3 523.2,675.6 524.4,675.8 525.6,676.0 526.8,676.3 527.9,676.5 529.1,676.7 530.3,676.9 531.5,677.1 532.7,677.3 533.8,677.5 535.0,677.7 536.2,677.9 537.4,678.1 538.6,678.3 539.8,678.4 541.0,678.6 542.2,678.8 543.4,678.9 544.5,679.1 545.7,679.2 546.9,679.3 548.1,679.5 549.3,679.6 550.5,679.7 551.7,679.9 552.9,680.0 554.1,680.1 555.3,680.2 556.5,680.4 557.7,680.5 558.9,680.6 560.1,680.7 561.3,680.8 562.5,680.9 563.7,681.0 564.9,681.1 566.0,681.2 567.2,681.3 568.4,681.4 569.6,681.5 570.8,681.6 572.0,681.7 573.2,681.8 574.4,681.9 575.6,681.9 576.8,682.0 578.0,682.1 579.2,682.2 580.3,682.3 581.5,682.3 582.7,682.4 583.9,682.5 585.1,682.5 586.3,682.6 587.5,682.7 588.7,682.7 589.9,682.8 591.1,682.9 592.2,682.9 593.4,683.0 594.6,683.0 595.8,683.1 597.0,683.1 598.2,683.2 599.4,683.2 600.6,683.3 601.8,683.3 603.0,683.4 604.1,683.4 605.3,683.4 606.5,683.5 607.7,683.5 608.9,683.6 610.1,683.6 611.3,683.6 612.5,683.7 613.7,683.7 614.9,683.7 616.1,683.8 617.3,683.8 618.4,683.8 619.6,683.8 620.8,683.9 622.0,683.9 623.2,683.9 624.4,683.9 625.6,683.9 626.8,684.0 628.0,684.0 629.2,684.0 630.4,684.0 631.6,684.0 632.8,684.0 634.0,684.0 635.2,684.1 636.4,684.1 637.6,684.1 638.8,684.1 640.0,684.1 641.2,684.1 642.4,684.1 643.6,684.1 644.8,684.1 646.0,684.1 647.2,684.1 648.4,684.1 649.6,684.1 650.8,684.1 652.0,684.1 653.2,684.1 654.4,684.1 655.0,684.1 L655.0,684.8 L70.5,684.8 Z" fill="#196ede" fill-opacity="0.695"/>
<path d="M70.5,684.8 71.6,684.8 72.8,684.8 74.1,684.8 75.3,684.8 76.5,684.8 77.8,684.8 79.0,684.8 80.2,684.8 81.4,684.8 82.6,684.8 83.9,684.8 85.1,684.8 86.3,684.8 87.5,684.8 88.7,684.8 89.9,684.8 91.1,684.8 92.3,684.8 93.5,684.8 94.7,684.8 95.9,684.8 97.1,684.8 98.3,684.8 99.5,684.8 100.6,684.8 101.8,684.8 103.0,684.8 104.2,684.8 105.4,684.8 106.6,684.8 107.7,684.8 108.9,684.8 110.1,684.8 111.3,684.8 112.5,684.8 113.6,684.8 114.8,684.8 116.0,684.8 117.2,684.8 118.3,684.8 119.5,684.8 120.7,684.8 121.9,684.8 123.0,684.8 124.2,684.8 125.4,684.8 126.6,684.8 127.7,684.8 128.9,684.8 130.1,684.8 131.3,684.8 132.4,684.8 133.6,684.8 134.8,684.8 136.0,684.8 137.2,684.8 138.3,684.8 139.5,684.8 140.7,684.8 141.9,684.8 143.1,684.8 144.3,684.8 145.5,684.8 146.7,684.8 147.8,684.8 149.0,684.8 150.2,684.8 151.4,684.8 152.6,684.8 153.8,684.8 155.0,684.8 156.2,684.8 157.5,684.8 158.7,684.8 159.9,684.8 161.1,684.8 162.3,684.8 163.5,684.8 164.8,684.8 166.0,684.8 167.2,684.8 168.4,684.8 169.7,684.8 170.9,684.8 172.2,684.8 173.4,684.8 174.6,684.8 175.9,684.8 177.1,684.8 178.4,684.8 179.6,684.8 180.9,684.8 182.1,684.8 183.3,684.7 184.6,684.7 185.8,684.6 187.0,684.5 188.2,684.4 189.4,684.3 190.6,684.2 191.8,684.0 193.0,683.9 194.1,683.7 195.3,683.5 196.5,683.2 197.6,683.0 198.7,682.7 199.8,682.4 200.9,682.0 202.0,681.6 203.0,681.2 204.1,680.8 205.1,680.3 206.1,679.9 207.1,679.3 208.1,678.8 209.0,678.1 210.0,677.5 210.9,676.8 211.8,676.1 212.6,675.4 213.5,674.6 214.3,673.8 215.1,672.9 215.9,672.1 216.7,671.2 217.4,670.2 218.2,669.3 218.9,668.3 219.6,667.3 220.3,666.3 220.9,665.3 221.6,664.2 222.2,663.1 222.8,662.0 223.4,660.9 224.0,659.8 224.6,658.7 225.1,657.6 225.7,656.4 226.2,655.3 226.7,654.1 227.2,653.0 227.7,651.8 228.1,650.6 228.6,649.5 229.0,648.3 229.5,647.2 229.9,646.0 230.3,644.8 230.7,643.7 231.1,642.5 231.4,641.4 231.8,640.2 232.1,639.1 232.5,637.9 232.8,636.8 233.1,635.6 233.4,634.5 233.7,633.3 234.0,632.2 234.3,631.0 234.6,629.9 234.9,628.7 235.2,627.6 235.4,626.4 235.7,625.3 235.9,624.2 236.2,623.0 236.4,621.9 236.7,620.7 236.9,619.6 237.2,618.4 237.4,617.3 237.6,616.1 237.8,615.0 238.1,613.9 238.3,612.7 238.5,611.6 238.7,610.4 238.9,609.3 239.2,608.1 239.4,607.0 239.6,605.8 239.8,604.7 240.1,603.5 240.3,602.4 240.5,601.2 240.7,600.1 241.0,598.9 241.2,597.7 241.4,596.6 241.7,595.4 241.9,594.3 242.2,593.1 242.4,592.0 242.6,590.8 242.9,589.6 243.1,588.5 243.4,587.3 243.6,586.1 243.9,585.0 244.2,583.8 244.4,582.7 244.7,581.5 244.9,580.3 245.2,579.2 245.5,578.0 245.7,576.8 246.0,575.7 246.3,574.5 246.6,573.3 246.8,572.2 247.1,571.0 247.4,569.9 247.7,568.7 248.0,567.5 248.3,566.4 248.6,565.2 248.9,564.0 249.2,562.9 249.5,561.7 249.8,560.6 250.1,559.4 250.4,558.2 250.7,557.1 251.0,555.9 251.3,554.8 251.7,553.6 252.0,552.4 252.3,551.3 252.6,550.1 253.0,549.0 253.3,547.8 253.7,546.7 254.0,545.5 254.4,544.4 254.7,543.2 255.1,542.1 255.4,540.9 255.8,539.8 256.2,538.6 256.5,537.5 256.9,536.3 257.3,535.2 257.7,534.0 258.0,532.9 258.4,531.8 258.8,530.6 259.2,529.5 259.6,528.4 260.0,527.2 260.4,526.1 260.8,525.0 261.3,523.8 261.7,522.7 262.1,521.6 262.5,520.5 263.0,519.3 263.4,518.2 263.8,517.1 264.3,516.0 264.7,514.9 265.2,513.8 265.6,512.6 266.1,511.5 266.6,510.4 267.0,509.3 267.5,508.2 268.0,507.1 268.5,506.0 269.0,504.9 269.5,503.8 270.0,502.8 270.5,501.7 271.0,500.6 271.5,499.5 272.0,498.4 272.5,497.4 273.1,496.3 273.6,495.2 274.2,494.2 274.7,493.1 275.3,492.1 275.9,491.0 276.5,490.0 277.1,489.0 277.7,487.9 278.3,486.9 278.9,485.9 279.6,484.9 280.2,483.9 280.9,482.9 281.5,481.9 282.2,481.0 282.9,480.0 283.6,479.0 284.3,478.1 285.1,477.1 285.8,476.2 286.6,475.3 287.3,474.4 288.1,473.5 288.9,472.6 289.7,471.7 290.5,470.8 291.4,469.9 292.2,469.1 293.1,468.2 294.0,467.4 294.9,466.6 295.8,465.8 296.8,465.0 297.7,464.2 298.7,463.4 299.7,462.7 300.7,462.0 301.7,461.3 302.7,460.6 303.7,460.1 304.8,459.6 305.8,459.2 306.9,458.8 308.0,458.6 309.0,458.4 310.1,458.4 311.2,458.5 312.3,458.7 313.3,458.9 314.4,459.3 315.5,459.8 316.5,460.3 317.5,460.9 318.5,461.5 319.5,462.2 320.5,462.9 321.4,463.6 322.4,464.3 323.3,465.1 324.1,465.9 325.0,466.7 325.8,467.5 326.7,468.4 327.5,469.2 328.3,470.1 329.1,471.0 329.8,471.9 330.6,472.9 331.3,473.8 332.1,474.8 332.8,475.7 333.5,476.7 334.2,477.7 334.9,478.7 335.6,479.7 336.3,480.7 337.0,481.7 337.6,482.8 338.3,483.8 339.0,484.8 339.6,485.8 340.3,486.8 341.0,487.9 341.6,488.9 342.3,489.9 343.0,490.9 343.6,491.9 344.3,492.9 345.0,493.9 345.7,494.9 346.3,495.9 347.0,496.9 347.7,497.9 348.4,498.9 349.0,499.9 349.7,500.8 350.4,501.8 351.1,502.8 351.7,503.8 352.4,504.8 353.1,505.7 353.8,506.7 354.5,507.7 355.1,508.7 355.8,509.6 356.5,510.6 357.2,511.6 357.8,512.6 358.5,513.5 359.2,514.5 359.8,515.5 360.5,516.5 361.2,517.4 361.8,518.4 362.5,519.4 363.2,520.4 363.8,521.3 364.5,522.3 365.1,523.3 365.8,524.3 366.4,525.3 367.1,526.3 367.7,527.3 368.4,528.3 369.0,529.2 369.7,530.2 370.3,531.2 371.0,532.2 371.6,533.3 372.2,534.3 372.9,535.3 373.5,536.3 374.1,537.3 374.7,538.3 375.4,539.3 376.0,540.3 376.6,541.4 377.2,542.4 377.9,543.4 378.5,544.4 379.1,545.4 379.7,546.5 380.3,547.5 380.9,548.5 381.6,549.6 382.2,550.6 382.8,551.6 383.4,552.6 384.0,553.7 384.6,554.7 385.2,555.7 385.9,556.8 386.5,557.8 387.1,558.8 387.7,559.9 388.3,560.9 388.9,561.9 389.5,563.0 390.2,564.0 390.8,565.0 391.4,566.0 392.0,567.1 392.6,568.1 393.3,569.1 393.9,570.2 394.5,571.2 395.1,572.2 395.8,573.2 396.4,574.3 397.0,575.3 397.6,576.3 398.3,577.3 398.9,578.4 399.5,579.4 400.2,580.4 400.8,581.4 401.5,582.4 402.1,583.4 402.8,584.5 403.4,585.5 404.1,586.5 404.7,587.5 405.4,588.5 406.0,589.5 406.7,590.5 407.4,591.5 408.0,592.5 408.7,593.5 409.4,594.4 410.1,595.4 410.7,596.4 411.4,597.4 412.1,598.4 412.8,599.3 413.5,600.3 414.2,601.3 414.9,602.3 415.6,603.2 416.3,604.2 417.1,605.1 417.8,606.1 418.5,607.0 419.2,608.0 420.0,608.9 420.7,609.8 421.5,610.8 422.2,611.7 423.0,612.6 423.7,613.6 424.5,614.5 425.3,615.4 426.0,616.3 426.8,617.2 427.6,618.1 428.4,619.0 429.2,619.9 430.0,620.8 430.8,621.6 431.6,622.5 432.5,623.4 433.3,624.3 434.1,625.1 434.9,626.0 435.8,626.8 436.6,627.7 437.5,628.5 438.3,629.4 439.2,630.2 440.1,631.0 440.9,631.8 441.8,632.6 442.7,633.5 443.6,634.3 444.5,635.1 445.4,635.8 446.3,636.6 447.2,637.4 448.1,638.2 449.0,639.0 450.0,639.7 450.9,640.5 451.8,641.2 452.7,642.0 453.7,642.7 454.6,643.4 455.6,644.2 456.5,644.9 457.5,645.6 458.5,646.3 459.4,647.0 460.4,647.7 461.4,648.4 462.4,649.1 463.4,649.8 464.3,650.4 465.3,651.1 466.3,651.8 467.3,652.4 468.3,653.1 469.4,653.7 470.4,654.3 471.4,654.9 472.4,655.6 473.4,656.2 474.5,656.8 475.5,657.4 476.6,658.0 477.6,658.5 478.6,659.1 479.7,659.7 480.7,660.2 481.8,660.8 482.9,661.3 483.9,661.9 485.0,662.4 486.1,662.9 487.1,663.4 488.2,663.9 489.3,664.4 490.4,664.9 491.5,665.4 492.6,665.9 493.7,666.3 494.8,666.8 495.9,667.3 497.0,667.7 498.1,668.1 499.2,668.6 500.3,669.0 501.4,669.4 502.6,669.8 503.7,670.2 504.8,670.6 506.0,670.9 507.1,671.3 508.2,671.7 509.4,672.0 510.5,672.4 511.6,672.7 512.8,673.0 513.9,673.3 515.1,673.6 516.3,673.9 517.4,674.2 518.6,674.5 519.7,674.8 520.9,675.0 522.1,675.3 523.2,675.6 524.4,675.8 525.6,676.0 526.8,676.3 527.9,676.5 529.1,676.7 530.3,676.9 531.5,677.1 532.7,677.3 533.8,677.5 535.0,677.7 536.2,677.9 537.4,678.1 538.6,678.3 539.8,678.4 541.0,678.6 542.2,678.8 543.4,678.9 544.5,679.1 545.7,679.2 546.9,679.3 548.1,679.5 549.3,679.6 550.5,679.7 551.7,679.9 552.9,680.0 554.1,680.1 555.3,680.2 556.5,680.4 557.7,680.5 558.9,680.6 560.1,680.7 561.3,680.8 562.5,680.9 563.7,681.0 564.9,681.1 566.0,681.2 567.2,681.3 568.4,681.4 569.6,681.5 570.8,681.6 572.0,681.7 573.2,681.8 574.4,681.9 575.6,681.9 576.8,682.0 578.0,682.1 579.2,682.2 580.3,682.3 581.5,682.3 582.7,682.4 583.9,682.5 585.1,682.5 586.3,682.6 587.5,682.7 588.7,682.7 589.9,682.8 591.1,682.9 592.2,682.9 593.4,683.0 594.6,683.0 595.8,683.1 597.0,683.1 598.2,683.2 599.4,683.2 600.6,683.3 601.8,683.3 603.0,683.4 604.1,683.4 605.3,683.4 606.5,683.5 607.7,683.5 608.9,683.6 610.1,683.6 611.3,683.6 612.5,683.7 613.7,683.7 614.9,683.7 616.1,683.8 617.3,683.8 618.4,683.8 619.6,683.8 620.8,683.9 622.0,683.9 623.2,683.9 624.4,683.9 625.6,683.9 626.8,684.0 628.0,684.0 629.2,684.0 630.4,684.0 631.6,684.0 632.8,684.0 634.0,684.0 635.2,684.1 636.4,684.1 637.6,684.1 638.8,684.1 640.0,684.1 641.2,684.1 642.4,684.1 643.6,684.1 644.8,684.1 646.0,684.1 647.2,684.1 648.4,684.1 649.6,684.1 650.8,684.1 652.0,684.1 653.2,684.1 654.4,684.1 655.0,684.1" fill="none" stroke="#1a6ae0" stroke-width="2" stroke-linejoin="round"/>
<rect x="70.5" y="416.2" width="585.0" height="270.8999999999999" fill="none" stroke="#111" stroke-width="1.7"/>
<path d="M63.5,684.8H70.5 M67.0,662.1H70.5 M63.5,639.4H70.5 M67.0,616.8H70.5 M63.5,594.1H70.5 M67.0,571.4H70.5 M63.5,548.7H70.5 M67.0,526.0H70.5 M63.5,503.4H70.5 M67.0,480.7H70.5 M63.5,458.0H70.5 M67.0,435.3H70.5 M70.5,687.0999999999999V694.0999999999999 M119.2,687.0999999999999V691.5999999999999 M168.0,687.0999999999999V694.0999999999999 M216.8,687.0999999999999V691.5999999999999 M265.5,687.0999999999999V694.0999999999999 M314.2,687.0999999999999V691.5999999999999 M363.0,687.0999999999999V694.0999999999999 M411.8,687.0999999999999V691.5999999999999 M460.5,687.0999999999999V694.0999999999999 M509.2,687.0999999999999V691.5999999999999 M558.0,687.0999999999999V694.0999999999999 M606.8,687.0999999999999V691.5999999999999 M655.5,687.0999999999999V694.0999999999999" stroke="#111" stroke-width="1.6" fill="none"/>
<text x="58.2" y="689.2" font-size="14.6" text-anchor="end">0.0</text>
<text x="58.2" y="643.8" font-size="14.6" text-anchor="end">0.2</text>
<text x="58.2" y="598.5" font-size="14.6" text-anchor="end">0.4</text>
<text x="58.2" y="553.1" font-size="14.6" text-anchor="end">0.6</text>
<text x="58.2" y="507.8" font-size="14.6" text-anchor="end">0.8</text>
<text x="58.2" y="462.4" font-size="14.6" text-anchor="end">1.0</text>
<text x="70.5" y="714.3" font-size="18" text-anchor="middle">350</text>
<text x="168.0" y="714.3" font-size="18" text-anchor="middle">400</text>
<text x="265.5" y="714.3" font-size="18" text-anchor="middle">450</text>
<text x="363.0" y="714.3" font-size="18" text-anchor="middle">500</text>
<text x="460.5" y="714.3" font-size="18" text-anchor="middle">550</text>
<text x="558.0" y="714.3" font-size="18" text-anchor="middle">600</text>
<text x="655.5" y="714.3" font-size="18" text-anchor="middle">650</text>
<text x="363.0" y="730.9" font-size="18" text-anchor="middle">Wavelength (nm)</text>
<text transform="translate(26.9,551.6) rotate(-90)" font-size="18" text-anchor="middle">Norm. Intensity (arb. units)</text>
<rect x="544.5" y="419.0" width="41.0" height="20.5" fill="#75c798"/>
<path d="M544.5,419.6H585.5M544.5,438.9H585.5" stroke="#35ac68" stroke-width="1.3"/>
<path d="M544.9,451.7H550.1M560.5,451.7H565.9M575.4,451.7H581.3" stroke="#505050" stroke-width="3.4" stroke-linecap="round"/>
<rect x="544.5" y="464.20000000000005" width="41.0" height="20.099999999999966" fill="#5d96e8"/>
<path d="M544.5,464.80000000000007H585.5M544.5,483.7H585.5" stroke="#1a6ae0" stroke-width="1.3"/>
<text x="594.9" y="435.3" font-size="18" font-weight="bold">0 min</text>
<text x="594.9" y="457.5" font-size="18" font-weight="bold">10 min</text>
<text x="594.9" y="479.8" font-size="18" font-weight="bold">20 min</text>
<path d="M311.9,433.8 L337.0,421.1 L330.4,431.3 H429.4 V436.3 H330.4 L337.0,446.5 Z" fill="#3d4466"/>
<text x="28" y="403.8" font-size="31" font-weight="bold">b</text><text x="55.0" y="403.8" font-size="31.5">C</text><text x="76.8" y="410.8" font-size="21.5">2</text><text x="87.5" y="403.8" font-size="31.5">H</text><text x="108.8" y="410.8" font-size="21.5">2</text><text x="121.2" y="403.8" font-size="31.5">C</text><text x="142.9" y="403.8" font-size="31.5">l</text><text x="149.5" y="410.8" font-size="21.5">4</text>
<path d="M9.6,758.5 H1.3 V1105.7 H683.7 V758.5 H165.3" fill="none" stroke="#c3c3c3" stroke-width="2.7"/>
<defs><linearGradient id="g97" x1="0" x2="1" y1="0" y2="0"><stop offset="0" stop-color="#06a8ea"/><stop offset="0.5" stop-color="#04b6f4"/><stop offset="1" stop-color="#0cd0fc"/></linearGradient><linearGradient id="g97b" x1="0" x2="0" y1="0" y2="1"><stop offset="0" stop-color="#0e6c9e"/><stop offset="1" stop-color="#1a92c8"/></linearGradient></defs>
<rect x="168.3" y="869.5" width="59.1" height="131.5" fill="#02040a" stroke="#7d7d7d" stroke-width="2.6"/>
<path d="M171.4,999.7 V912.0 Q171.4,904.0 178.4,904.0 H217.9 Q224.9,904.0 224.9,912.0 V999.7 Z" fill="url(#g97b)" stroke="#14b0e8" stroke-width="2.2" stroke-opacity="0.8"/>
<rect x="177.4" y="898.0" width="42.5" height="8.5" rx="3" fill="#1890c4" fill-opacity="0.75"/>
<path d="M177.4,898.8 Q198.2,897.2 219.9,898.8 M176.4,902.0 Q198.2,900.5 220.9,902.0 M178.4,906.5 Q198.2,908.0 218.9,906.5" fill="none" stroke="#20b0e4" stroke-width="1.1" stroke-opacity="0.9"/>
<path d="M171.4,934.8 H224.9 V995.7 Q224.9,999.2 220.9,999.2 H175.4 Q171.4,999.2 171.4,995.7 Z" fill="url(#g97)"/>
<rect x="171.4" y="934.3" width="53.5" height="2" fill="#30f0ff" fill-opacity="0.8"/>
<defs><linearGradient id="g104" x1="0" x2="1" y1="0" y2="0"><stop offset="0" stop-color="#10b85c"/><stop offset="0.5" stop-color="#0cbe62"/><stop offset="1" stop-color="#20d474"/></linearGradient><linearGradient id="g104b" x1="0" x2="0" y1="0" y2="1"><stop offset="0" stop-color="#020e05"/><stop offset="1" stop-color="#04180a"/></linearGradient></defs>
<rect x="530.6" y="870.1" width="59.6" height="131.1" fill="#000603" stroke="#7d7d7d" stroke-width="2.6"/>
<path d="M533.7,999.9 V906.0 Q533.7,898.0 540.7,898.0 H580.7 Q587.7,898.0 587.7,906.0 V999.9 Z" fill="url(#g104b)" stroke="#2a9a50" stroke-width="1" stroke-opacity="0.8"/>
<rect x="539.7" y="892.0" width="43.0" height="8.5" rx="3" fill="#0e5028" fill-opacity="0.75"/>
<path d="M539.7,892.8 Q560.7,891.2 582.7,892.8 M538.7,896.0 Q560.7,894.5 583.7,896.0 M540.7,900.5 Q560.7,902.0 581.7,900.5" fill="none" stroke="#30c070" stroke-width="1.1" stroke-opacity="0.9"/>
<path d="M533.7,919.6 C550.7,921.6 554.7,925.6 562.7,925.6 C570.7,925.6 581.7,919.6 587.7,918.1 V931.5 H533.7 Z" fill="#2cc868" fill-opacity="0.9"/>
<path d="M533.7,929.5 H587.7 V995.9 Q587.7,999.4 583.7,999.4 H537.7 Q533.7,999.4 533.7,995.9 Z" fill="url(#g104)"/>
<rect x="533.7" y="929.0" width="54.0" height="2" fill="#48f090" fill-opacity="0.8"/>
<path d="M70.5,1048.8 71.7,1048.9 72.8,1048.9 74.0,1048.9 75.2,1048.9 76.4,1048.9 77.5,1048.9 78.7,1048.9 79.9,1048.9 81.0,1048.9 82.2,1048.9 83.4,1048.9 84.5,1048.9 85.7,1048.9 86.9,1048.9 88.1,1048.9 89.2,1048.9 90.4,1048.9 91.6,1048.9 92.7,1048.9 93.9,1048.9 95.1,1048.9 96.3,1048.9 97.4,1048.9 98.6,1048.9 99.8,1048.9 100.9,1048.9 102.1,1048.9 103.3,1048.9 104.5,1048.9 105.6,1048.9 106.8,1048.9 108.0,1048.9 109.1,1048.9 110.3,1048.9 111.5,1048.9 112.7,1048.9 113.8,1048.9 115.0,1048.9 116.2,1048.9 117.4,1048.9 118.5,1048.9 119.7,1048.9 120.9,1048.9 122.1,1048.8 123.2,1048.8 124.4,1048.8 125.6,1048.8 126.7,1048.8 127.9,1048.8 129.1,1048.8 130.3,1048.8 131.4,1048.8 132.6,1048.8 133.8,1048.8 135.0,1048.8 136.1,1048.7 137.3,1048.7 138.5,1048.7 139.6,1048.7 140.8,1048.7 142.0,1048.7 143.2,1048.7 144.3,1048.7 145.5,1048.7 146.7,1048.7 147.9,1048.7 149.0,1048.7 150.2,1048.7 151.4,1048.7 152.5,1048.7 153.7,1048.8 154.9,1048.8 156.0,1048.8 157.2,1048.8 158.4,1048.8 159.6,1048.8 160.7,1048.8 161.9,1048.8 163.1,1048.8 164.2,1048.8 165.4,1048.9 166.6,1048.9 167.7,1048.9 168.9,1048.9 170.1,1048.9 171.3,1048.9 172.4,1048.9 173.6,1048.9 174.8,1048.9 175.9,1048.9 177.1,1048.9 178.3,1048.9 179.4,1048.9 180.6,1048.9 181.8,1048.9 182.9,1048.9 184.1,1048.9 185.3,1048.9 186.5,1048.9 187.6,1048.9 188.8,1048.9 190.0,1048.9 191.1,1048.9 192.3,1048.9 193.5,1048.9 194.6,1048.9 195.8,1048.9 197.0,1048.9 198.1,1048.9 199.3,1048.9 200.5,1048.9 201.7,1048.9 202.8,1048.9 204.0,1048.9 205.2,1048.9 206.3,1048.8 207.5,1048.8 208.7,1048.8 209.8,1048.7 211.0,1048.7 212.2,1048.7 213.4,1048.6 214.5,1048.6 215.7,1048.5 216.9,1048.5 218.0,1048.4 219.2,1048.3 220.4,1048.3 221.6,1048.2 222.7,1048.1 223.9,1048.1 225.1,1048.0 226.2,1047.9 227.4,1047.8 228.6,1047.7 229.8,1047.6 230.9,1047.5 232.1,1047.4 233.3,1047.3 234.5,1047.2 235.6,1047.1 236.8,1047.0 238.0,1046.8 239.2,1046.7 240.3,1046.6 241.5,1046.4 242.7,1046.3 243.9,1046.1 245.0,1046.0 246.2,1045.8 247.4,1045.6 248.5,1045.4 249.7,1045.2 250.8,1044.9 252.0,1044.7 253.1,1044.4 254.2,1044.1 255.3,1043.8 256.4,1043.4 257.5,1043.1 258.6,1042.7 259.7,1042.2 260.7,1041.8 261.7,1041.3 262.8,1040.7 263.8,1040.2 264.7,1039.5 265.7,1038.9 266.7,1038.2 267.6,1037.5 268.5,1036.8 269.4,1036.0 270.3,1035.2 271.1,1034.4 272.0,1033.6 272.8,1032.7 273.6,1031.8 274.4,1030.9 275.2,1030.0 276.0,1029.1 276.7,1028.1 277.5,1027.2 278.2,1026.2 278.9,1025.2 279.6,1024.2 280.3,1023.2 280.9,1022.2 281.6,1021.2 282.2,1020.2 282.8,1019.2 283.4,1018.2 284.0,1017.1 284.6,1016.1 285.1,1015.1 285.7,1014.0 286.2,1013.0 286.7,1011.9 287.2,1010.9 287.7,1009.8 288.2,1008.8 288.7,1007.7 289.2,1006.7 289.6,1005.6 290.1,1004.5 290.5,1003.4 291.0,1002.4 291.4,1001.3 291.8,1000.2 292.2,999.1 292.6,998.0 293.0,997.0 293.4,995.9 293.8,994.8 294.2,993.7 294.6,992.6 295.0,991.5 295.3,990.4 295.7,989.3 296.1,988.2 296.5,987.1 296.8,986.0 297.2,984.9 297.5,983.8 297.9,982.7 298.3,981.5 298.6,980.4 299.0,979.3 299.3,978.2 299.7,977.1 300.1,976.0 300.4,974.9 300.8,973.8 301.1,972.7 301.5,971.6 301.9,970.4 302.3,969.3 302.7,968.2 303.0,967.1 303.4,966.0 303.8,964.9 304.2,963.8 304.6,962.7 305.1,961.6 305.5,960.5 305.9,959.4 306.3,958.3 306.7,957.2 307.2,956.1 307.6,955.0 308.0,953.9 308.5,952.8 308.9,951.7 309.4,950.6 309.8,949.5 310.2,948.4 310.7,947.3 311.1,946.2 311.6,945.1 312.0,944.1 312.4,943.0 312.9,941.9 313.3,940.8 313.8,939.7 314.2,938.6 314.6,937.5 315.1,936.4 315.5,935.3 315.9,934.2 316.3,933.1 316.7,932.0 317.2,930.9 317.6,929.8 318.0,928.7 318.4,927.6 318.8,926.5 319.2,925.4 319.6,924.3 320.0,923.2 320.4,922.1 320.8,921.0 321.2,919.9 321.6,918.8 322.0,917.7 322.4,916.7 322.8,915.6 323.2,914.5 323.6,913.4 324.0,912.3 324.3,911.2 324.7,910.1 325.1,909.0 325.5,907.9 325.9,906.8 326.3,905.7 326.7,904.6 327.1,903.5 327.5,902.4 327.9,901.3 328.3,900.2 328.7,899.1 329.1,898.0 329.5,896.9 329.9,895.8 330.3,894.7 330.7,893.7 331.1,892.6 331.5,891.5 331.9,890.4 332.3,889.3 332.7,888.2 333.1,887.1 333.5,886.0 334.0,884.9 334.4,883.9 334.8,882.8 335.2,881.7 335.7,880.6 336.1,879.5 336.5,878.4 337.0,877.3 337.4,876.3 337.9,875.2 338.3,874.1 338.8,873.0 339.2,871.9 339.7,870.9 340.2,869.8 340.6,868.7 341.1,867.6 341.6,866.6 342.1,865.5 342.6,864.4 343.1,863.3 343.6,862.3 344.1,861.2 344.6,860.1 345.1,859.1 345.6,858.0 346.1,856.9 346.7,855.9 347.2,854.8 347.8,853.8 348.3,852.7 348.9,851.7 349.5,850.7 350.0,849.6 350.6,848.6 351.3,847.6 351.9,846.6 352.5,845.6 353.1,844.6 353.8,843.7 354.5,842.7 355.1,841.7 355.8,840.8 356.6,839.9 357.3,839.0 358.0,838.1 358.8,837.2 359.5,836.3 360.3,835.5 361.1,834.6 362.0,833.8 362.8,833.0 363.7,832.2 364.5,831.4 365.4,830.7 366.4,829.9 367.3,829.2 368.3,828.6 369.2,827.9 370.2,827.3 371.2,826.6 372.3,826.1 373.3,825.5 374.3,825.1 375.4,824.6 376.5,824.2 377.6,823.8 378.7,823.5 379.8,823.3 380.9,823.1 382.0,823.0 383.1,822.9 384.2,822.9 385.4,822.9 386.5,823.1 387.6,823.2 388.8,823.5 389.9,823.8 391.0,824.1 392.1,824.5 393.2,824.9 394.3,825.4 395.4,825.9 396.5,826.4 397.5,827.0 398.6,827.6 399.6,828.2 400.6,828.9 401.6,829.5 402.6,830.2 403.6,830.9 404.5,831.6 405.4,832.4 406.3,833.1 407.2,833.9 408.1,834.6 409.0,835.4 409.8,836.2 410.7,837.0 411.5,837.8 412.3,838.7 413.1,839.5 413.9,840.4 414.7,841.2 415.4,842.1 416.2,843.0 417.0,843.8 417.7,844.7 418.4,845.6 419.2,846.5 419.9,847.4 420.6,848.3 421.3,849.2 422.0,850.2 422.7,851.1 423.5,852.0 424.2,852.9 424.9,853.9 425.6,854.8 426.2,855.7 426.9,856.6 427.6,857.6 428.3,858.5 429.0,859.5 429.7,860.4 430.4,861.4 431.0,862.3 431.7,863.2 432.4,864.2 433.0,865.2 433.7,866.1 434.4,867.1 435.0,868.0 435.7,869.0 436.4,870.0 437.0,870.9 437.7,871.9 438.3,872.8 439.0,873.8 439.6,874.8 440.3,875.8 440.9,876.7 441.6,877.7 442.2,878.7 442.8,879.7 443.5,880.6 444.1,881.6 444.7,882.6 445.4,883.6 446.0,884.6 446.7,885.6 447.3,886.5 447.9,887.5 448.5,888.5 449.2,889.5 449.8,890.5 450.4,891.5 451.1,892.5 451.7,893.5 452.3,894.5 452.9,895.5 453.6,896.4 454.2,897.4 454.8,898.4 455.4,899.4 456.0,900.4 456.7,901.4 457.3,902.4 457.9,903.4 458.5,904.4 459.1,905.4 459.8,906.4 460.4,907.4 461.0,908.4 461.6,909.4 462.3,910.4 462.9,911.4 463.5,912.4 464.1,913.4 464.7,914.4 465.4,915.4 466.0,916.4 466.6,917.3 467.2,918.3 467.9,919.3 468.5,920.3 469.1,921.3 469.7,922.3 470.4,923.3 471.0,924.3 471.6,925.3 472.3,926.3 472.9,927.2 473.5,928.2 474.2,929.2 474.8,930.2 475.4,931.2 476.1,932.2 476.7,933.1 477.4,934.1 478.0,935.1 478.6,936.1 479.3,937.0 479.9,938.0 480.6,939.0 481.2,940.0 481.9,940.9 482.5,941.9 483.2,942.9 483.9,943.8 484.5,944.8 485.2,945.7 485.8,946.7 486.5,947.7 487.2,948.6 487.9,949.6 488.5,950.5 489.2,951.5 489.9,952.4 490.6,953.4 491.2,954.3 491.9,955.2 492.6,956.2 493.3,957.1 494.0,958.0 494.7,959.0 495.4,959.9 496.1,960.8 496.8,961.8 497.5,962.7 498.2,963.6 499.0,964.5 499.7,965.4 500.4,966.3 501.1,967.2 501.9,968.1 502.6,969.0 503.3,969.9 504.1,970.8 504.8,971.7 505.6,972.6 506.3,973.5 507.1,974.4 507.8,975.2 508.6,976.1 509.4,977.0 510.1,977.9 510.9,978.7 511.7,979.6 512.5,980.4 513.2,981.3 514.0,982.1 514.8,983.0 515.6,983.8 516.4,984.7 517.2,985.5 518.1,986.3 518.9,987.2 519.7,988.0 520.5,988.8 521.3,989.6 522.2,990.4 523.0,991.2 523.9,992.0 524.7,992.8 525.6,993.6 526.4,994.4 527.3,995.2 528.2,996.0 529.0,996.8 529.9,997.5 530.8,998.3 531.7,999.1 532.6,999.8 533.5,1000.6 534.4,1001.3 535.3,1002.1 536.2,1002.8 537.1,1003.5 538.1,1004.3 539.0,1005.0 539.9,1005.7 540.8,1006.4 541.8,1007.1 542.7,1007.8 543.7,1008.5 544.6,1009.2 545.6,1009.9 546.5,1010.6 547.5,1011.2 548.5,1011.9 549.4,1012.6 550.4,1013.2 551.4,1013.9 552.4,1014.5 553.4,1015.1 554.4,1015.8 555.3,1016.4 556.3,1017.0 557.4,1017.6 558.4,1018.2 559.4,1018.8 560.4,1019.4 561.4,1020.0 562.4,1020.6 563.4,1021.1 564.5,1021.7 565.5,1022.3 566.5,1022.8 567.6,1023.4 568.6,1023.9 569.7,1024.4 570.7,1024.9 571.8,1025.5 572.8,1026.0 573.9,1026.5 575.0,1027.0 576.0,1027.4 577.1,1027.9 578.2,1028.4 579.2,1028.8 580.3,1029.3 581.4,1029.7 582.5,1030.2 583.6,1030.6 584.7,1031.0 585.8,1031.4 586.9,1031.8 588.0,1032.2 589.1,1032.6 590.2,1033.0 591.3,1033.4 592.4,1033.7 593.5,1034.1 594.6,1034.5 595.7,1034.8 596.9,1035.1 598.0,1035.5 599.1,1035.8 600.2,1036.1 601.4,1036.4 602.5,1036.7 603.6,1037.0 604.8,1037.3 605.9,1037.6 607.0,1037.9 608.2,1038.1 609.3,1038.4 610.5,1038.6 611.6,1038.9 612.8,1039.2 613.9,1039.4 615.1,1039.6 616.2,1039.9 617.4,1040.1 618.5,1040.3 619.7,1040.5 620.8,1040.8 622.0,1041.0 623.1,1041.2 624.3,1041.4 625.4,1041.6 626.6,1041.8 627.8,1042.0 628.9,1042.2 630.1,1042.3 631.2,1042.5 632.4,1042.7 633.6,1042.9 634.7,1043.1 635.9,1043.2 637.0,1043.4 638.2,1043.6 639.4,1043.7 640.5,1043.9 641.7,1044.1 642.8,1044.2 644.0,1044.4 645.1,1044.5 646.3,1044.7 647.5,1044.8 648.6,1045.0 649.8,1045.1 650.9,1045.3 652.1,1045.4 653.2,1045.6 654.4,1045.7 654.9,1045.8 L654.9,1048.9 L70.5,1048.9 Z" fill="#75c798" fill-opacity="1.0"/>
<path d="M70.5,1048.8 71.7,1048.9 72.8,1048.9 74.0,1048.9 75.2,1048.9 76.4,1048.9 77.5,1048.9 78.7,1048.9 79.9,1048.9 81.0,1048.9 82.2,1048.9 83.4,1048.9 84.5,1048.9 85.7,1048.9 86.9,1048.9 88.1,1048.9 89.2,1048.9 90.4,1048.9 91.6,1048.9 92.7,1048.9 93.9,1048.9 95.1,1048.9 96.3,1048.9 97.4,1048.9 98.6,1048.9 99.8,1048.9 100.9,1048.9 102.1,1048.9 103.3,1048.9 104.5,1048.9 105.6,1048.9 106.8,1048.9 108.0,1048.9 109.1,1048.9 110.3,1048.9 111.5,1048.9 112.7,1048.9 113.8,1048.9 115.0,1048.9 116.2,1048.9 117.4,1048.9 118.5,1048.9 119.7,1048.9 120.9,1048.9 122.1,1048.8 123.2,1048.8 124.4,1048.8 125.6,1048.8 126.7,1048.8 127.9,1048.8 129.1,1048.8 130.3,1048.8 131.4,1048.8 132.6,1048.8 133.8,1048.8 135.0,1048.8 136.1,1048.7 137.3,1048.7 138.5,1048.7 139.6,1048.7 140.8,1048.7 142.0,1048.7 143.2,1048.7 144.3,1048.7 145.5,1048.7 146.7,1048.7 147.9,1048.7 149.0,1048.7 150.2,1048.7 151.4,1048.7 152.5,1048.7 153.7,1048.8 154.9,1048.8 156.0,1048.8 157.2,1048.8 158.4,1048.8 159.6,1048.8 160.7,1048.8 161.9,1048.8 163.1,1048.8 164.2,1048.8 165.4,1048.9 166.6,1048.9 167.7,1048.9 168.9,1048.9 170.1,1048.9 171.3,1048.9 172.4,1048.9 173.6,1048.9 174.8,1048.9 175.9,1048.9 177.1,1048.9 178.3,1048.9 179.4,1048.9 180.6,1048.9 181.8,1048.9 182.9,1048.9 184.1,1048.9 185.3,1048.9 186.5,1048.9 187.6,1048.9 188.8,1048.9 190.0,1048.9 191.1,1048.9 192.3,1048.9 193.5,1048.9 194.6,1048.9 195.8,1048.9 197.0,1048.9 198.1,1048.9 199.3,1048.9 200.5,1048.9 201.7,1048.9 202.8,1048.9 204.0,1048.9 205.2,1048.9 206.3,1048.8 207.5,1048.8 208.7,1048.8 209.8,1048.7 211.0,1048.7 212.2,1048.7 213.4,1048.6 214.5,1048.6 215.7,1048.5 216.9,1048.5 218.0,1048.4 219.2,1048.3 220.4,1048.3 221.6,1048.2 222.7,1048.1 223.9,1048.1 225.1,1048.0 226.2,1047.9 227.4,1047.8 228.6,1047.7 229.8,1047.6 230.9,1047.5 232.1,1047.4 233.3,1047.3 234.5,1047.2 235.6,1047.1 236.8,1047.0 238.0,1046.8 239.2,1046.7 240.3,1046.6 241.5,1046.4 242.7,1046.3 243.9,1046.1 245.0,1046.0 246.2,1045.8 247.4,1045.6 248.5,1045.4 249.7,1045.2 250.8,1044.9 252.0,1044.7 253.1,1044.4 254.2,1044.1 255.3,1043.8 256.4,1043.4 257.5,1043.1 258.6,1042.7 259.7,1042.2 260.7,1041.8 261.7,1041.3 262.8,1040.7 263.8,1040.2 264.7,1039.5 265.7,1038.9 266.7,1038.2 267.6,1037.5 268.5,1036.8 269.4,1036.0 270.3,1035.2 271.1,1034.4 272.0,1033.6 272.8,1032.7 273.6,1031.8 274.4,1030.9 275.2,1030.0 276.0,1029.1 276.7,1028.1 277.5,1027.2 278.2,1026.2 278.9,1025.2 279.6,1024.2 280.3,1023.2 280.9,1022.2 281.6,1021.2 282.2,1020.2 282.8,1019.2 283.4,1018.2 284.0,1017.1 284.6,1016.1 285.1,1015.1 285.7,1014.0 286.2,1013.0 286.7,1011.9 287.2,1010.9 287.7,1009.8 288.2,1008.8 288.7,1007.7 289.2,1006.7 289.6,1005.6 290.1,1004.5 290.5,1003.4 291.0,1002.4 291.4,1001.3 291.8,1000.2 292.2,999.1 292.6,998.0 293.0,997.0 293.4,995.9 293.8,994.8 294.2,993.7 294.6,992.6 295.0,991.5 295.3,990.4 295.7,989.3 296.1,988.2 296.5,987.1 296.8,986.0 297.2,984.9 297.5,983.8 297.9,982.7 298.3,981.5 298.6,980.4 299.0,979.3 299.3,978.2 299.7,977.1 300.1,976.0 300.4,974.9 300.8,973.8 301.1,972.7 301.5,971.6 301.9,970.4 302.3,969.3 302.7,968.2 303.0,967.1 303.4,966.0 303.8,964.9 304.2,963.8 304.6,962.7 305.1,961.6 305.5,960.5 305.9,959.4 306.3,958.3 306.7,957.2 307.2,956.1 307.6,955.0 308.0,953.9 308.5,952.8 308.9,951.7 309.4,950.6 309.8,949.5 310.2,948.4 310.7,947.3 311.1,946.2 311.6,945.1 312.0,944.1 312.4,943.0 312.9,941.9 313.3,940.8 313.8,939.7 314.2,938.6 314.6,937.5 315.1,936.4 315.5,935.3 315.9,934.2 316.3,933.1 316.7,932.0 317.2,930.9 317.6,929.8 318.0,928.7 318.4,927.6 318.8,926.5 319.2,925.4 319.6,924.3 320.0,923.2 320.4,922.1 320.8,921.0 321.2,919.9 321.6,918.8 322.0,917.7 322.4,916.7 322.8,915.6 323.2,914.5 323.6,913.4 324.0,912.3 324.3,911.2 324.7,910.1 325.1,909.0 325.5,907.9 325.9,906.8 326.3,905.7 326.7,904.6 327.1,903.5 327.5,902.4 327.9,901.3 328.3,900.2 328.7,899.1 329.1,898.0 329.5,896.9 329.9,895.8 330.3,894.7 330.7,893.7 331.1,892.6 331.5,891.5 331.9,890.4 332.3,889.3 332.7,888.2 333.1,887.1 333.5,886.0 334.0,884.9 334.4,883.9 334.8,882.8 335.2,881.7 335.7,880.6 336.1,879.5 336.5,878.4 337.0,877.3 337.4,876.3 337.9,875.2 338.3,874.1 338.8,873.0 339.2,871.9 339.7,870.9 340.2,869.8 340.6,868.7 341.1,867.6 341.6,866.6 342.1,865.5 342.6,864.4 343.1,863.3 343.6,862.3 344.1,861.2 344.6,860.1 345.1,859.1 345.6,858.0 346.1,856.9 346.7,855.9 347.2,854.8 347.8,853.8 348.3,852.7 348.9,851.7 349.5,850.7 350.0,849.6 350.6,848.6 351.3,847.6 351.9,846.6 352.5,845.6 353.1,844.6 353.8,843.7 354.5,842.7 355.1,841.7 355.8,840.8 356.6,839.9 357.3,839.0 358.0,838.1 358.8,837.2 359.5,836.3 360.3,835.5 361.1,834.6 362.0,833.8 362.8,833.0 363.7,832.2 364.5,831.4 365.4,830.7 366.4,829.9 367.3,829.2 368.3,828.6 369.2,827.9 370.2,827.3 371.2,826.6 372.3,826.1 373.3,825.5 374.3,825.1 375.4,824.6 376.5,824.2 377.6,823.8 378.7,823.5 379.8,823.3 380.9,823.1 382.0,823.0 383.1,822.9 384.2,822.9 385.4,822.9 386.5,823.1 387.6,823.2 388.8,823.5 389.9,823.8 391.0,824.1 392.1,824.5 393.2,824.9 394.3,825.4 395.4,825.9 396.5,826.4 397.5,827.0 398.6,827.6 399.6,828.2 400.6,828.9 401.6,829.5 402.6,830.2 403.6,830.9 404.5,831.6 405.4,832.4 406.3,833.1 407.2,833.9 408.1,834.6 409.0,835.4 409.8,836.2 410.7,837.0 411.5,837.8 412.3,838.7 413.1,839.5 413.9,840.4 414.7,841.2 415.4,842.1 416.2,843.0 417.0,843.8 417.7,844.7 418.4,845.6 419.2,846.5 419.9,847.4 420.6,848.3 421.3,849.2 422.0,850.2 422.7,851.1 423.5,852.0 424.2,852.9 424.9,853.9 425.6,854.8 426.2,855.7 426.9,856.6 427.6,857.6 428.3,858.5 429.0,859.5 429.7,860.4 430.4,861.4 431.0,862.3 431.7,863.2 432.4,864.2 433.0,865.2 433.7,866.1 434.4,867.1 435.0,868.0 435.7,869.0 436.4,870.0 437.0,870.9 437.7,871.9 438.3,872.8 439.0,873.8 439.6,874.8 440.3,875.8 440.9,876.7 441.6,877.7 442.2,878.7 442.8,879.7 443.5,880.6 444.1,881.6 444.7,882.6 445.4,883.6 446.0,884.6 446.7,885.6 447.3,886.5 447.9,887.5 448.5,888.5 449.2,889.5 449.8,890.5 450.4,891.5 451.1,892.5 451.7,893.5 452.3,894.5 452.9,895.5 453.6,896.4 454.2,897.4 454.8,898.4 455.4,899.4 456.0,900.4 456.7,901.4 457.3,902.4 457.9,903.4 458.5,904.4 459.1,905.4 459.8,906.4 460.4,907.4 461.0,908.4 461.6,909.4 462.3,910.4 462.9,911.4 463.5,912.4 464.1,913.4 464.7,914.4 465.4,915.4 466.0,916.4 466.6,917.3 467.2,918.3 467.9,919.3 468.5,920.3 469.1,921.3 469.7,922.3 470.4,923.3 471.0,924.3 471.6,925.3 472.3,926.3 472.9,927.2 473.5,928.2 474.2,929.2 474.8,930.2 475.4,931.2 476.1,932.2 476.7,933.1 477.4,934.1 478.0,935.1 478.6,936.1 479.3,937.0 479.9,938.0 480.6,939.0 481.2,940.0 481.9,940.9 482.5,941.9 483.2,942.9 483.9,943.8 484.5,944.8 485.2,945.7 485.8,946.7 486.5,947.7 487.2,948.6 487.9,949.6 488.5,950.5 489.2,951.5 489.9,952.4 490.6,953.4 491.2,954.3 491.9,955.2 492.6,956.2 493.3,957.1 494.0,958.0 494.7,959.0 495.4,959.9 496.1,960.8 496.8,961.8 497.5,962.7 498.2,963.6 499.0,964.5 499.7,965.4 500.4,966.3 501.1,967.2 501.9,968.1 502.6,969.0 503.3,969.9 504.1,970.8 504.8,971.7 505.6,972.6 506.3,973.5 507.1,974.4 507.8,975.2 508.6,976.1 509.4,977.0 510.1,977.9 510.9,978.7 511.7,979.6 512.5,980.4 513.2,981.3 514.0,982.1 514.8,983.0 515.6,983.8 516.4,984.7 517.2,985.5 518.1,986.3 518.9,987.2 519.7,988.0 520.5,988.8 521.3,989.6 522.2,990.4 523.0,991.2 523.9,992.0 524.7,992.8 525.6,993.6 526.4,994.4 527.3,995.2 528.2,996.0 529.0,996.8 529.9,997.5 530.8,998.3 531.7,999.1 532.6,999.8 533.5,1000.6 534.4,1001.3 535.3,1002.1 536.2,1002.8 537.1,1003.5 538.1,1004.3 539.0,1005.0 539.9,1005.7 540.8,1006.4 541.8,1007.1 542.7,1007.8 543.7,1008.5 544.6,1009.2 545.6,1009.9 546.5,1010.6 547.5,1011.2 548.5,1011.9 549.4,1012.6 550.4,1013.2 551.4,1013.9 552.4,1014.5 553.4,1015.1 554.4,1015.8 555.3,1016.4 556.3,1017.0 557.4,1017.6 558.4,1018.2 559.4,1018.8 560.4,1019.4 561.4,1020.0 562.4,1020.6 563.4,1021.1 564.5,1021.7 565.5,1022.3 566.5,1022.8 567.6,1023.4 568.6,1023.9 569.7,1024.4 570.7,1024.9 571.8,1025.5 572.8,1026.0 573.9,1026.5 575.0,1027.0 576.0,1027.4 577.1,1027.9 578.2,1028.4 579.2,1028.8 580.3,1029.3 581.4,1029.7 582.5,1030.2 583.6,1030.6 584.7,1031.0 585.8,1031.4 586.9,1031.8 588.0,1032.2 589.1,1032.6 590.2,1033.0 591.3,1033.4 592.4,1033.7 593.5,1034.1 594.6,1034.5 595.7,1034.8 596.9,1035.1 598.0,1035.5 599.1,1035.8 600.2,1036.1 601.4,1036.4 602.5,1036.7 603.6,1037.0 604.8,1037.3 605.9,1037.6 607.0,1037.9 608.2,1038.1 609.3,1038.4 610.5,1038.6 611.6,1038.9 612.8,1039.2 613.9,1039.4 615.1,1039.6 616.2,1039.9 617.4,1040.1 618.5,1040.3 619.7,1040.5 620.8,1040.8 622.0,1041.0 623.1,1041.2 624.3,1041.4 625.4,1041.6 626.6,1041.8 627.8,1042.0 628.9,1042.2 630.1,1042.3 631.2,1042.5 632.4,1042.7 633.6,1042.9 634.7,1043.1 635.9,1043.2 637.0,1043.4 638.2,1043.6 639.4,1043.7 640.5,1043.9 641.7,1044.1 642.8,1044.2 644.0,1044.4 645.1,1044.5 646.3,1044.7 647.5,1044.8 648.6,1045.0 649.8,1045.1 650.9,1045.3 652.1,1045.4 653.2,1045.6 654.4,1045.7 654.9,1045.8" fill="none" stroke="#35ac68" stroke-width="2.0" stroke-linejoin="round"/>
<path d="M70.5,1048.9 71.7,1048.9 72.8,1048.9 74.0,1048.9 75.2,1048.9 76.3,1048.9 77.5,1048.9 78.7,1048.9 79.8,1048.9 81.0,1048.9 82.1,1048.9 83.3,1048.9 84.5,1048.9 85.6,1048.9 86.8,1048.9 88.0,1048.9 89.1,1048.9 90.3,1048.9 91.5,1048.9 92.6,1048.9 93.8,1048.9 95.0,1048.9 96.1,1048.9 97.3,1048.9 98.5,1048.9 99.6,1048.9 100.8,1048.9 102.0,1048.9 103.1,1048.9 104.3,1048.9 105.5,1048.9 106.6,1048.9 107.8,1048.9 109.0,1048.9 110.1,1048.9 111.3,1048.9 112.5,1048.9 113.6,1048.9 114.8,1048.9 116.0,1048.9 117.1,1048.9 118.3,1048.9 119.5,1048.9 120.6,1048.9 121.8,1048.9 123.0,1048.9 124.1,1048.9 125.3,1048.9 126.5,1048.9 127.6,1048.9 128.8,1048.9 130.0,1048.9 131.1,1048.9 132.3,1048.9 133.5,1048.9 134.6,1048.9 135.8,1048.9 137.0,1048.9 138.1,1048.9 139.3,1048.9 140.5,1048.9 141.6,1048.9 142.8,1048.9 144.0,1048.8 145.1,1048.8 146.3,1048.8 147.5,1048.8 148.6,1048.8 149.8,1048.8 151.0,1048.8 152.1,1048.8 153.3,1048.8 154.4,1048.8 155.6,1048.8 156.8,1048.8 157.9,1048.8 159.1,1048.8 160.3,1048.8 161.4,1048.8 162.6,1048.8 163.7,1048.8 164.9,1048.8 166.1,1048.8 167.2,1048.8 168.4,1048.9 169.5,1048.9 170.7,1048.9 171.9,1048.9 173.0,1048.9 174.2,1048.9 175.3,1048.9 176.5,1048.9 177.7,1048.9 178.8,1048.9 180.0,1048.9 181.1,1048.9 182.3,1048.9 183.5,1048.9 184.6,1048.9 185.8,1048.9 187.0,1048.9 188.1,1048.9 189.3,1048.9 190.5,1048.9 191.7,1048.9 192.8,1048.9 194.0,1048.9 195.2,1048.9 196.4,1048.9 197.6,1048.9 198.8,1048.9 200.0,1048.9 201.2,1048.9 202.4,1048.9 203.6,1048.9 204.8,1048.9 206.0,1048.9 207.3,1048.9 208.5,1048.9 209.7,1048.9 210.9,1048.8 212.1,1048.8 213.3,1048.7 214.4,1048.5 215.6,1048.3 216.7,1048.1 217.8,1047.8 218.8,1047.4 219.9,1047.0 220.8,1046.5 221.8,1046.0 222.7,1045.4 223.6,1044.7 224.5,1044.1 225.4,1043.3 226.2,1042.6 227.0,1041.8 227.8,1041.0 228.5,1040.1 229.3,1039.2 230.0,1038.3 230.7,1037.4 231.4,1036.5 232.1,1035.5 232.8,1034.6 233.4,1033.6 234.0,1032.6 234.7,1031.7 235.3,1030.7 235.9,1029.7 236.5,1028.7 237.1,1027.7 237.6,1026.7 238.2,1025.7 238.7,1024.7 239.3,1023.7 239.8,1022.6 240.3,1021.6 240.8,1020.6 241.3,1019.5 241.8,1018.5 242.3,1017.4 242.8,1016.4 243.2,1015.3 243.7,1014.2 244.1,1013.2 244.6,1012.1 245.0,1011.0 245.5,1010.0 245.9,1008.9 246.3,1007.8 246.7,1006.7 247.1,1005.6 247.5,1004.5 247.9,1003.4 248.3,1002.3 248.7,1001.2 249.1,1000.1 249.5,999.0 249.8,997.9 250.2,996.8 250.6,995.6 250.9,994.5 251.3,993.4 251.7,992.3 252.0,991.2 252.4,990.1 252.7,988.9 253.1,987.8 253.4,986.7 253.8,985.6 254.1,984.4 254.5,983.3 254.8,982.2 255.2,981.1 255.5,979.9 255.9,978.8 256.3,977.7 256.6,976.5 257.0,975.4 257.3,974.3 257.7,973.2 258.0,972.1 258.4,970.9 258.8,969.8 259.1,968.7 259.5,967.6 259.9,966.5 260.3,965.3 260.7,964.2 261.0,963.1 261.4,962.0 261.8,960.9 262.2,959.8 262.7,958.7 263.1,957.6 263.5,956.5 263.9,955.4 264.4,954.3 264.8,953.3 265.2,952.2 265.7,951.1 266.2,950.0 266.6,949.0 267.1,947.9 267.6,946.8 268.1,945.8 268.6,944.7 269.1,943.7 269.6,942.6 270.1,941.6 270.7,940.5 271.2,939.5 271.8,938.5 272.3,937.4 272.9,936.4 273.4,935.4 274.0,934.4 274.5,933.3 275.1,932.3 275.7,931.3 276.3,930.3 276.8,929.3 277.4,928.3 278.0,927.2 278.6,926.2 279.2,925.2 279.8,924.2 280.4,923.2 281.0,922.2 281.6,921.2 282.2,920.2 282.7,919.2 283.3,918.2 283.9,917.2 284.5,916.2 285.1,915.2 285.7,914.2 286.3,913.2 286.9,912.2 287.5,911.2 288.0,910.2 288.6,909.2 289.2,908.2 289.8,907.1 290.3,906.1 290.9,905.1 291.5,904.1 292.0,903.1 292.6,902.1 293.1,901.1 293.6,900.0 294.2,899.0 294.7,898.0 295.2,897.0 295.7,895.9 296.3,894.9 296.8,893.9 297.3,892.9 297.8,891.8 298.3,890.8 298.8,889.7 299.3,888.7 299.8,887.7 300.2,886.6 300.7,885.6 301.2,884.5 301.7,883.5 302.2,882.4 302.7,881.4 303.1,880.3 303.6,879.3 304.1,878.2 304.6,877.2 305.0,876.1 305.5,875.1 306.0,874.0 306.5,872.9 307.0,871.9 307.4,870.8 307.9,869.7 308.4,868.7 308.9,867.6 309.4,866.5 309.9,865.5 310.3,864.4 310.8,863.3 311.3,862.3 311.8,861.2 312.3,860.1 312.8,859.1 313.4,858.0 313.9,856.9 314.4,855.8 314.9,854.8 315.4,853.7 316.0,852.6 316.5,851.5 317.0,850.5 317.6,849.4 318.2,848.4 318.7,847.3 319.3,846.2 319.9,845.2 320.5,844.2 321.1,843.1 321.8,842.1 322.4,841.1 323.1,840.1 323.7,839.1 324.4,838.1 325.1,837.2 325.8,836.2 326.6,835.3 327.3,834.3 328.1,833.4 328.9,832.5 329.7,831.7 330.5,830.8 331.4,830.0 332.3,829.2 333.1,828.5 334.1,827.9 335.0,827.2 335.9,826.7 336.9,826.1 337.9,825.7 338.9,825.3 339.9,824.9 341.0,824.5 342.0,824.3 343.1,824.0 344.2,823.8 345.3,823.6 346.4,823.5 347.5,823.4 348.6,823.4 349.7,823.4 350.9,823.4 352.0,823.5 353.1,823.6 354.3,823.7 355.4,823.8 356.6,824.0 357.7,824.2 358.9,824.5 360.0,824.8 361.2,825.0 362.3,825.4 363.5,825.7 364.6,826.1 365.7,826.5 366.8,826.9 367.9,827.3 369.0,827.7 370.1,828.2 371.2,828.7 372.3,829.1 373.3,829.6 374.4,830.2 375.4,830.7 376.4,831.2 377.4,831.8 378.4,832.4 379.4,832.9 380.4,833.5 381.3,834.2 382.3,834.8 383.2,835.4 384.2,836.1 385.1,836.7 386.0,837.4 386.9,838.1 387.8,838.8 388.7,839.5 389.6,840.2 390.4,840.9 391.3,841.7 392.2,842.4 393.0,843.2 393.8,843.9 394.7,844.7 395.5,845.5 396.3,846.3 397.1,847.1 397.9,847.9 398.7,848.8 399.4,849.6 400.2,850.5 401.0,851.3 401.7,852.2 402.5,853.0 403.2,853.9 404.0,854.8 404.7,855.7 405.4,856.6 406.2,857.5 406.9,858.4 407.6,859.3 408.3,860.2 409.0,861.2 409.7,862.1 410.4,863.1 411.0,864.0 411.7,865.0 412.4,865.9 413.1,866.9 413.7,867.9 414.4,868.8 415.1,869.8 415.7,870.8 416.4,871.8 417.0,872.8 417.7,873.8 418.3,874.8 418.9,875.8 419.6,876.8 420.2,877.8 420.8,878.8 421.5,879.8 422.1,880.8 422.7,881.8 423.3,882.8 424.0,883.8 424.6,884.9 425.2,885.9 425.8,886.9 426.4,887.9 427.0,889.0 427.7,890.0 428.3,891.0 428.9,892.0 429.5,893.0 430.1,894.1 430.7,895.1 431.3,896.1 432.0,897.1 432.6,898.2 433.2,899.2 433.8,900.2 434.4,901.2 435.0,902.2 435.7,903.2 436.3,904.2 436.9,905.2 437.5,906.2 438.1,907.2 438.8,908.2 439.4,909.2 440.0,910.2 440.7,911.2 441.3,912.2 441.9,913.2 442.6,914.2 443.2,915.2 443.9,916.1 444.5,917.1 445.1,918.1 445.8,919.1 446.4,920.0 447.1,921.0 447.7,922.0 448.4,922.9 449.0,923.9 449.7,924.8 450.4,925.8 451.0,926.8 451.7,927.7 452.3,928.7 453.0,929.6 453.7,930.5 454.4,931.5 455.0,932.4 455.7,933.4 456.4,934.3 457.0,935.2 457.7,936.2 458.4,937.1 459.1,938.0 459.8,939.0 460.5,939.9 461.2,940.8 461.8,941.7 462.5,942.7 463.2,943.6 463.9,944.5 464.6,945.4 465.3,946.3 466.0,947.2 466.7,948.1 467.4,949.1 468.2,950.0 468.9,950.9 469.6,951.8 470.3,952.7 471.0,953.6 471.7,954.5 472.5,955.4 473.2,956.3 473.9,957.2 474.6,958.1 475.4,959.0 476.1,959.9 476.8,960.7 477.6,961.6 478.3,962.5 479.0,963.4 479.8,964.3 480.5,965.2 481.3,966.1 482.0,967.0 482.8,967.8 483.5,968.7 484.3,969.6 485.0,970.5 485.8,971.4 486.6,972.2 487.3,973.1 488.1,974.0 488.9,974.9 489.6,975.7 490.4,976.6 491.2,977.5 492.0,978.4 492.7,979.2 493.5,980.1 494.3,981.0 495.1,981.8 495.9,982.7 496.7,983.6 497.5,984.4 498.3,985.3 499.1,986.2 499.9,987.0 500.7,987.9 501.5,988.7 502.3,989.6 503.1,990.4 503.9,991.3 504.8,992.1 505.6,992.9 506.4,993.8 507.2,994.6 508.1,995.4 508.9,996.2 509.8,997.0 510.6,997.8 511.5,998.6 512.3,999.4 513.2,1000.2 514.1,1001.0 514.9,1001.8 515.8,1002.6 516.7,1003.3 517.6,1004.1 518.5,1004.8 519.4,1005.6 520.3,1006.3 521.2,1007.1 522.1,1007.8 523.0,1008.5 524.0,1009.2 524.9,1009.9 525.8,1010.6 526.8,1011.3 527.7,1012.0 528.7,1012.6 529.6,1013.3 530.6,1013.9 531.6,1014.6 532.5,1015.2 533.5,1015.8 534.5,1016.4 535.5,1017.0 536.5,1017.6 537.5,1018.2 538.5,1018.7 539.5,1019.3 540.6,1019.8 541.6,1020.4 542.6,1020.9 543.7,1021.4 544.7,1022.0 545.8,1022.5 546.8,1023.0 547.9,1023.5 548.9,1023.9 550.0,1024.4 551.1,1024.9 552.1,1025.4 553.2,1025.8 554.3,1026.3 555.4,1026.7 556.5,1027.1 557.5,1027.6 558.6,1028.0 559.7,1028.4 560.8,1028.8 561.9,1029.2 563.0,1029.6 564.1,1030.0 565.2,1030.4 566.3,1030.8 567.4,1031.2 568.6,1031.5 569.7,1031.9 570.8,1032.3 571.9,1032.6 573.0,1033.0 574.1,1033.3 575.2,1033.6 576.4,1034.0 577.5,1034.3 578.6,1034.6 579.7,1035.0 580.8,1035.3 582.0,1035.6 583.1,1035.9 584.2,1036.2 585.3,1036.5 586.5,1036.8 587.6,1037.1 588.7,1037.4 589.8,1037.7 591.0,1038.0 592.1,1038.2 593.2,1038.5 594.4,1038.8 595.5,1039.0 596.6,1039.3 597.8,1039.5 598.9,1039.8 600.1,1040.0 601.2,1040.2 602.3,1040.5 603.5,1040.7 604.6,1040.9 605.8,1041.1 606.9,1041.3 608.1,1041.5 609.2,1041.7 610.3,1041.9 611.5,1042.1 612.6,1042.3 613.8,1042.5 614.9,1042.7 616.1,1042.9 617.2,1043.0 618.4,1043.2 619.5,1043.4 620.7,1043.5 621.9,1043.7 623.0,1043.8 624.2,1044.0 625.3,1044.1 626.5,1044.2 627.6,1044.4 628.8,1044.5 630.0,1044.6 631.1,1044.7 632.3,1044.8 633.4,1044.9 634.6,1045.0 635.8,1045.1 636.9,1045.2 638.1,1045.3 639.3,1045.4 640.4,1045.5 641.6,1045.5 642.7,1045.6 643.9,1045.7 645.1,1045.7 646.2,1045.8 647.4,1045.8 648.6,1045.9 649.8,1045.9 650.9,1046.0 652.1,1046.0 653.3,1046.0 654.4,1046.1 655.0,1046.1" fill="none" stroke="#111" stroke-width="2.9" stroke-dasharray="2.7 7.7" stroke-linecap="round" stroke-linejoin="round"/>
<path d="M70.5,1048.9 71.7,1048.9 72.9,1048.9 74.1,1048.9 75.3,1048.9 76.5,1048.9 77.7,1048.9 78.9,1048.9 80.1,1048.9 81.2,1048.9 82.4,1048.8 83.6,1048.8 84.8,1048.8 86.0,1048.8 87.2,1048.8 88.4,1048.8 89.6,1048.8 90.8,1048.8 92.0,1048.8 93.2,1048.8 94.4,1048.8 95.6,1048.8 96.8,1048.8 98.0,1048.8 99.2,1048.8 100.4,1048.8 101.6,1048.8 102.8,1048.8 104.0,1048.9 105.2,1048.9 106.4,1048.9 107.6,1048.9 108.8,1048.9 110.0,1048.9 111.2,1048.9 112.4,1048.9 113.6,1048.9 114.8,1048.9 116.0,1048.9 117.2,1048.9 118.4,1048.9 119.6,1048.9 120.8,1048.9 122.0,1048.9 123.2,1048.9 124.4,1048.9 125.6,1048.9 126.8,1048.9 128.0,1048.9 129.2,1048.9 130.4,1048.9 131.6,1048.9 132.8,1048.9 134.0,1048.9 135.2,1048.9 136.4,1048.9 137.6,1048.9 138.8,1048.9 140.0,1048.9 141.2,1048.9 142.4,1048.9 143.6,1048.9 144.8,1048.9 146.0,1048.9 147.2,1048.9 148.3,1048.9 149.5,1048.9 150.7,1048.9 151.9,1048.9 153.1,1048.9 154.3,1048.9 155.5,1048.9 156.7,1048.9 157.9,1048.9 159.1,1048.9 160.3,1048.9 161.5,1048.9 162.7,1048.9 163.9,1048.9 165.1,1048.9 166.2,1048.9 167.4,1048.9 168.6,1048.8 169.8,1048.8 171.0,1048.8 172.2,1048.8 173.4,1048.8 174.6,1048.8 175.7,1048.7 176.9,1048.7 178.1,1048.7 179.3,1048.7 180.5,1048.6 181.7,1048.6 182.9,1048.6 184.1,1048.5 185.3,1048.5 186.5,1048.5 187.7,1048.4 188.9,1048.4 190.1,1048.3 191.3,1048.3 192.5,1048.3 193.7,1048.2 194.9,1048.1 196.1,1048.1 197.4,1048.0 198.6,1048.0 199.8,1047.9 201.0,1047.8 202.2,1047.7 203.5,1047.6 204.7,1047.5 205.9,1047.4 207.1,1047.2 208.3,1047.0 209.5,1046.8 210.7,1046.6 211.9,1046.4 213.0,1046.1 214.2,1045.8 215.3,1045.5 216.4,1045.2 217.6,1044.8 218.6,1044.4 219.7,1043.9 220.8,1043.4 221.8,1042.9 222.9,1042.3 223.9,1041.7 224.9,1041.1 225.8,1040.4 226.8,1039.7 227.7,1038.9 228.6,1038.2 229.5,1037.4 230.3,1036.5 231.1,1035.7 231.9,1034.8 232.7,1033.9 233.4,1032.9 234.1,1031.9 234.8,1031.0 235.5,1029.9 236.1,1028.9 236.7,1027.8 237.2,1026.8 237.7,1025.7 238.2,1024.6 238.7,1023.4 239.1,1022.3 239.4,1021.1 239.8,1020.0 240.1,1018.8 240.4,1017.6 240.6,1016.4 240.9,1015.2 241.1,1014.0 241.3,1012.7 241.5,1011.5 241.7,1010.3 241.9,1009.1 242.1,1007.9 242.2,1006.6 242.4,1005.4 242.6,1004.2 242.8,1003.0 243.0,1001.8 243.2,1000.6 243.5,999.4 243.7,998.3 243.9,997.1 244.2,995.9 244.4,994.8 244.7,993.6 244.9,992.4 245.2,991.3 245.4,990.1 245.7,989.0 246.0,987.8 246.3,986.7 246.5,985.6 246.8,984.4 247.1,983.3 247.4,982.2 247.7,981.0 248.0,979.9 248.3,978.8 248.6,977.7 248.8,976.5 249.1,975.4 249.4,974.3 249.7,973.1 250.0,972.0 250.3,970.9 250.6,969.7 250.9,968.6 251.1,967.5 251.4,966.3 251.7,965.2 251.9,964.0 252.2,962.9 252.5,961.7 252.7,960.6 253.0,959.4 253.2,958.2 253.4,957.1 253.7,955.9 253.9,954.7 254.1,953.5 254.4,952.4 254.6,951.2 254.8,950.0 255.0,948.8 255.2,947.6 255.4,946.4 255.6,945.2 255.8,944.0 256.0,942.8 256.2,941.6 256.4,940.4 256.6,939.2 256.8,938.0 257.0,936.8 257.2,935.5 257.4,934.3 257.6,933.1 257.8,931.9 258.0,930.7 258.2,929.5 258.4,928.3 258.6,927.1 258.8,925.8 259.0,924.6 259.2,923.4 259.4,922.2 259.6,921.0 259.8,919.8 260.0,918.6 260.3,917.4 260.5,916.2 260.7,915.0 261.0,913.8 261.2,912.6 261.4,911.4 261.7,910.2 261.9,909.0 262.2,907.8 262.5,906.6 262.7,905.5 263.0,904.3 263.3,903.1 263.6,902.0 263.9,900.8 264.2,899.6 264.5,898.5 264.9,897.3 265.2,896.2 265.5,895.0 265.9,893.9 266.2,892.8 266.6,891.7 267.0,890.5 267.4,889.4 267.8,888.3 268.2,887.2 268.6,886.1 269.0,885.0 269.4,884.0 269.9,882.9 270.4,881.8 270.8,880.8 271.3,879.7 271.8,878.7 272.3,877.6 272.8,876.6 273.4,875.6 273.9,874.5 274.5,873.5 275.1,872.5 275.7,871.6 276.3,870.6 276.9,869.6 277.5,868.6 278.2,867.7 278.8,866.7 279.5,865.8 280.2,864.9 280.9,864.0 281.7,863.1 282.4,862.2 283.2,861.3 283.9,860.4 284.7,859.6 285.5,858.7 286.3,857.8 287.2,857.0 288.0,856.2 288.9,855.3 289.7,854.5 290.6,853.7 291.5,852.8 292.3,852.0 293.2,851.2 294.1,850.3 295.0,849.5 295.9,848.7 296.8,847.9 297.7,847.0 298.6,846.2 299.5,845.4 300.4,844.5 301.3,843.7 302.2,842.8 303.1,842.0 304.0,841.1 304.9,840.2 305.8,839.3 306.7,838.4 307.6,837.5 308.4,836.6 309.3,835.7 310.1,834.8 311.0,833.8 311.8,832.9 312.6,831.9 313.5,831.0 314.3,830.1 315.1,829.3 316.0,828.4 316.9,827.6 317.7,826.9 318.6,826.2 319.5,825.6 320.5,825.0 321.4,824.6 322.4,824.2 323.4,823.9 324.5,823.6 325.5,823.5 326.6,823.4 327.6,823.5 328.7,823.6 329.7,823.8 330.8,824.1 331.8,824.5 332.7,824.9 333.7,825.5 334.6,826.1 335.6,826.7 336.4,827.5 337.3,828.2 338.2,829.1 339.0,830.0 339.8,830.9 340.6,831.9 341.4,832.9 342.2,833.9 342.9,835.0 343.7,836.0 344.4,837.1 345.1,838.2 345.8,839.3 346.5,840.4 347.2,841.5 347.8,842.6 348.5,843.7 349.1,844.8 349.8,845.9 350.4,846.9 351.0,848.0 351.6,849.0 352.2,850.1 352.8,851.1 353.4,852.1 354.0,853.2 354.6,854.2 355.2,855.2 355.8,856.2 356.4,857.2 357.0,858.2 357.6,859.2 358.1,860.2 358.7,861.2 359.3,862.2 359.9,863.2 360.5,864.2 361.1,865.2 361.7,866.2 362.3,867.2 362.9,868.2 363.6,869.2 364.2,870.2 364.8,871.2 365.4,872.2 366.0,873.2 366.6,874.2 367.3,875.2 367.9,876.2 368.5,877.2 369.1,878.3 369.8,879.3 370.4,880.3 371.0,881.3 371.6,882.3 372.3,883.3 372.9,884.3 373.5,885.3 374.2,886.3 374.8,887.4 375.5,888.4 376.1,889.4 376.7,890.4 377.4,891.4 378.0,892.4 378.6,893.4 379.3,894.5 379.9,895.5 380.5,896.5 381.2,897.5 381.8,898.5 382.5,899.6 383.1,900.6 383.7,901.6 384.4,902.6 385.0,903.6 385.6,904.7 386.3,905.7 386.9,906.7 387.5,907.7 388.2,908.8 388.8,909.8 389.4,910.8 390.1,911.8 390.7,912.9 391.3,913.9 392.0,914.9 392.6,915.9 393.2,916.9 393.9,918.0 394.5,919.0 395.1,920.0 395.8,921.0 396.4,922.0 397.0,923.1 397.7,924.1 398.3,925.1 399.0,926.1 399.6,927.1 400.3,928.2 400.9,929.2 401.5,930.2 402.2,931.2 402.8,932.2 403.5,933.2 404.2,934.2 404.8,935.2 405.5,936.2 406.1,937.2 406.8,938.2 407.4,939.2 408.1,940.2 408.8,941.2 409.4,942.2 410.1,943.2 410.8,944.2 411.4,945.2 412.1,946.2 412.8,947.2 413.5,948.2 414.2,949.1 414.9,950.1 415.5,951.1 416.2,952.1 416.9,953.0 417.6,954.0 418.3,955.0 419.0,956.0 419.7,956.9 420.4,957.9 421.2,958.8 421.9,959.8 422.6,960.7 423.3,961.7 424.0,962.6 424.8,963.6 425.5,964.5 426.2,965.4 427.0,966.4 427.7,967.3 428.5,968.2 429.2,969.2 430.0,970.1 430.7,971.0 431.5,971.9 432.2,972.8 433.0,973.7 433.8,974.6 434.6,975.5 435.4,976.4 436.1,977.3 436.9,978.2 437.7,979.1 438.5,980.0 439.3,980.8 440.1,981.7 441.0,982.6 441.8,983.4 442.6,984.3 443.4,985.2 444.3,986.0 445.1,986.8 446.0,987.7 446.8,988.5 447.7,989.4 448.5,990.2 449.4,991.0 450.3,991.8 451.1,992.6 452.0,993.4 452.9,994.2 453.8,995.0 454.7,995.8 455.6,996.6 456.5,997.4 457.4,998.2 458.3,998.9 459.3,999.7 460.2,1000.5 461.1,1001.2 462.1,1002.0 463.0,1002.7 463.9,1003.5 464.9,1004.2 465.8,1004.9 466.8,1005.7 467.8,1006.4 468.7,1007.1 469.7,1007.8 470.7,1008.5 471.6,1009.2 472.6,1009.9 473.6,1010.6 474.6,1011.2 475.6,1011.9 476.6,1012.6 477.6,1013.2 478.6,1013.9 479.6,1014.5 480.6,1015.2 481.7,1015.8 482.7,1016.5 483.7,1017.1 484.7,1017.7 485.8,1018.3 486.8,1018.9 487.9,1019.5 488.9,1020.1 489.9,1020.7 491.0,1021.3 492.1,1021.9 493.1,1022.4 494.2,1023.0 495.2,1023.5 496.3,1024.1 497.4,1024.6 498.4,1025.2 499.5,1025.7 500.6,1026.2 501.7,1026.7 502.8,1027.2 503.9,1027.7 505.0,1028.2 506.0,1028.7 507.1,1029.2 508.2,1029.6 509.3,1030.1 510.5,1030.6 511.6,1031.0 512.7,1031.5 513.8,1031.9 514.9,1032.3 516.0,1032.7 517.1,1033.2 518.3,1033.6 519.4,1034.0 520.5,1034.3 521.6,1034.7 522.8,1035.1 523.9,1035.5 525.0,1035.8 526.2,1036.2 527.3,1036.5 528.5,1036.9 529.6,1037.2 530.7,1037.5 531.9,1037.8 533.0,1038.1 534.2,1038.4 535.4,1038.7 536.5,1039.0 537.7,1039.3 538.8,1039.6 540.0,1039.8 541.1,1040.1 542.3,1040.4 543.5,1040.6 544.6,1040.9 545.8,1041.1 547.0,1041.3 548.1,1041.5 549.3,1041.8 550.5,1042.0 551.7,1042.2 552.8,1042.4 554.0,1042.6 555.2,1042.8 556.4,1043.0 557.6,1043.1 558.7,1043.3 559.9,1043.5 561.1,1043.7 562.3,1043.8 563.5,1044.0 564.7,1044.1 565.9,1044.3 567.1,1044.4 568.2,1044.6 569.4,1044.7 570.6,1044.8 571.8,1044.9 573.0,1045.1 574.2,1045.2 575.4,1045.3 576.6,1045.4 577.8,1045.5 579.0,1045.6 580.2,1045.7 581.4,1045.8 582.6,1045.9 583.8,1046.0 585.0,1046.1 586.2,1046.2 587.4,1046.2 588.6,1046.3 589.8,1046.4 591.0,1046.5 592.2,1046.5 593.4,1046.6 594.6,1046.7 595.8,1046.7 597.0,1046.8 598.2,1046.8 599.4,1046.9 600.6,1046.9 601.8,1047.0 603.0,1047.0 604.2,1047.1 605.4,1047.1 606.6,1047.2 607.8,1047.2 609.0,1047.3 610.2,1047.3 611.5,1047.3 612.7,1047.4 613.9,1047.4 615.1,1047.5 616.3,1047.5 617.5,1047.5 618.7,1047.6 619.9,1047.6 621.1,1047.6 622.3,1047.6 623.5,1047.7 624.7,1047.7 625.8,1047.7 627.0,1047.8 628.2,1047.8 629.4,1047.8 630.6,1047.9 631.8,1047.9 633.0,1047.9 634.2,1048.0 635.4,1048.0 636.6,1048.0 637.8,1048.1 639.0,1048.1 640.2,1048.1 641.3,1048.2 642.5,1048.2 643.7,1048.2 644.9,1048.3 646.1,1048.3 647.2,1048.4 648.4,1048.4 649.6,1048.4 650.8,1048.5 652.0,1048.5 653.1,1048.6 654.3,1048.6 654.9,1048.7 L654.9,1048.9 L70.5,1048.9 Z" fill="#196ede" fill-opacity="0.695"/>
<path d="M70.5,1048.9 71.7,1048.9 72.9,1048.9 74.1,1048.9 75.3,1048.9 76.5,1048.9 77.7,1048.9 78.9,1048.9 80.1,1048.9 81.2,1048.9 82.4,1048.8 83.6,1048.8 84.8,1048.8 86.0,1048.8 87.2,1048.8 88.4,1048.8 89.6,1048.8 90.8,1048.8 92.0,1048.8 93.2,1048.8 94.4,1048.8 95.6,1048.8 96.8,1048.8 98.0,1048.8 99.2,1048.8 100.4,1048.8 101.6,1048.8 102.8,1048.8 104.0,1048.9 105.2,1048.9 106.4,1048.9 107.6,1048.9 108.8,1048.9 110.0,1048.9 111.2,1048.9 112.4,1048.9 113.6,1048.9 114.8,1048.9 116.0,1048.9 117.2,1048.9 118.4,1048.9 119.6,1048.9 120.8,1048.9 122.0,1048.9 123.2,1048.9 124.4,1048.9 125.6,1048.9 126.8,1048.9 128.0,1048.9 129.2,1048.9 130.4,1048.9 131.6,1048.9 132.8,1048.9 134.0,1048.9 135.2,1048.9 136.4,1048.9 137.6,1048.9 138.8,1048.9 140.0,1048.9 141.2,1048.9 142.4,1048.9 143.6,1048.9 144.8,1048.9 146.0,1048.9 147.2,1048.9 148.3,1048.9 149.5,1048.9 150.7,1048.9 151.9,1048.9 153.1,1048.9 154.3,1048.9 155.5,1048.9 156.7,1048.9 157.9,1048.9 159.1,1048.9 160.3,1048.9 161.5,1048.9 162.7,1048.9 163.9,1048.9 165.1,1048.9 166.2,1048.9 167.4,1048.9 168.6,1048.8 169.8,1048.8 171.0,1048.8 172.2,1048.8 173.4,1048.8 174.6,1048.8 175.7,1048.7 176.9,1048.7 178.1,1048.7 179.3,1048.7 180.5,1048.6 181.7,1048.6 182.9,1048.6 184.1,1048.5 185.3,1048.5 186.5,1048.5 187.7,1048.4 188.9,1048.4 190.1,1048.3 191.3,1048.3 192.5,1048.3 193.7,1048.2 194.9,1048.1 196.1,1048.1 197.4,1048.0 198.6,1048.0 199.8,1047.9 201.0,1047.8 202.2,1047.7 203.5,1047.6 204.7,1047.5 205.9,1047.4 207.1,1047.2 208.3,1047.0 209.5,1046.8 210.7,1046.6 211.9,1046.4 213.0,1046.1 214.2,1045.8 215.3,1045.5 216.4,1045.2 217.6,1044.8 218.6,1044.4 219.7,1043.9 220.8,1043.4 221.8,1042.9 222.9,1042.3 223.9,1041.7 224.9,1041.1 225.8,1040.4 226.8,1039.7 227.7,1038.9 228.6,1038.2 229.5,1037.4 230.3,1036.5 231.1,1035.7 231.9,1034.8 232.7,1033.9 233.4,1032.9 234.1,1031.9 234.8,1031.0 235.5,1029.9 236.1,1028.9 236.7,1027.8 237.2,1026.8 237.7,1025.7 238.2,1024.6 238.7,1023.4 239.1,1022.3 239.4,1021.1 239.8,1020.0 240.1,1018.8 240.4,1017.6 240.6,1016.4 240.9,1015.2 241.1,1014.0 241.3,1012.7 241.5,1011.5 241.7,1010.3 241.9,1009.1 242.1,1007.9 242.2,1006.6 242.4,1005.4 242.6,1004.2 242.8,1003.0 243.0,1001.8 243.2,1000.6 243.5,999.4 243.7,998.3 243.9,997.1 244.2,995.9 244.4,994.8 244.7,993.6 244.9,992.4 245.2,991.3 245.4,990.1 245.7,989.0 246.0,987.8 246.3,986.7 246.5,985.6 246.8,984.4 247.1,983.3 247.4,982.2 247.7,981.0 248.0,979.9 248.3,978.8 248.6,977.7 248.8,976.5 249.1,975.4 249.4,974.3 249.7,973.1 250.0,972.0 250.3,970.9 250.6,969.7 250.9,968.6 251.1,967.5 251.4,966.3 251.7,965.2 251.9,964.0 252.2,962.9 252.5,961.7 252.7,960.6 253.0,959.4 253.2,958.2 253.4,957.1 253.7,955.9 253.9,954.7 254.1,953.5 254.4,952.4 254.6,951.2 254.8,950.0 255.0,948.8 255.2,947.6 255.4,946.4 255.6,945.2 255.8,944.0 256.0,942.8 256.2,941.6 256.4,940.4 256.6,939.2 256.8,938.0 257.0,936.8 257.2,935.5 257.4,934.3 257.6,933.1 257.8,931.9 258.0,930.7 258.2,929.5 258.4,928.3 258.6,927.1 258.8,925.8 259.0,924.6 259.2,923.4 259.4,922.2 259.6,921.0 259.8,919.8 260.0,918.6 260.3,917.4 260.5,916.2 260.7,915.0 261.0,913.8 261.2,912.6 261.4,911.4 261.7,910.2 261.9,909.0 262.2,907.8 262.5,906.6 262.7,905.5 263.0,904.3 263.3,903.1 263.6,902.0 263.9,900.8 264.2,899.6 264.5,898.5 264.9,897.3 265.2,896.2 265.5,895.0 265.9,893.9 266.2,892.8 266.6,891.7 267.0,890.5 267.4,889.4 267.8,888.3 268.2,887.2 268.6,886.1 269.0,885.0 269.4,884.0 269.9,882.9 270.4,881.8 270.8,880.8 271.3,879.7 271.8,878.7 272.3,877.6 272.8,876.6 273.4,875.6 273.9,874.5 274.5,873.5 275.1,872.5 275.7,871.6 276.3,870.6 276.9,869.6 277.5,868.6 278.2,867.7 278.8,866.7 279.5,865.8 280.2,864.9 280.9,864.0 281.7,863.1 282.4,862.2 283.2,861.3 283.9,860.4 284.7,859.6 285.5,858.7 286.3,857.8 287.2,857.0 288.0,856.2 288.9,855.3 289.7,854.5 290.6,853.7 291.5,852.8 292.3,852.0 293.2,851.2 294.1,850.3 295.0,849.5 295.9,848.7 296.8,847.9 297.7,847.0 298.6,846.2 299.5,845.4 300.4,844.5 301.3,843.7 302.2,842.8 303.1,842.0 304.0,841.1 304.9,840.2 305.8,839.3 306.7,838.4 307.6,837.5 308.4,836.6 309.3,835.7 310.1,834.8 311.0,833.8 311.8,832.9 312.6,831.9 313.5,831.0 314.3,830.1 315.1,829.3 316.0,828.4 316.9,827.6 317.7,826.9 318.6,826.2 319.5,825.6 320.5,825.0 321.4,824.6 322.4,824.2 323.4,823.9 324.5,823.6 325.5,823.5 326.6,823.4 327.6,823.5 328.7,823.6 329.7,823.8 330.8,824.1 331.8,824.5 332.7,824.9 333.7,825.5 334.6,826.1 335.6,826.7 336.4,827.5 337.3,828.2 338.2,829.1 339.0,830.0 339.8,830.9 340.6,831.9 341.4,832.9 342.2,833.9 342.9,835.0 343.7,836.0 344.4,837.1 345.1,838.2 345.8,839.3 346.5,840.4 347.2,841.5 347.8,842.6 348.5,843.7 349.1,844.8 349.8,845.9 350.4,846.9 351.0,848.0 351.6,849.0 352.2,850.1 352.8,851.1 353.4,852.1 354.0,853.2 354.6,854.2 355.2,855.2 355.8,856.2 356.4,857.2 357.0,858.2 357.6,859.2 358.1,860.2 358.7,861.2 359.3,862.2 359.9,863.2 360.5,864.2 361.1,865.2 361.7,866.2 362.3,867.2 362.9,868.2 363.6,869.2 364.2,870.2 364.8,871.2 365.4,872.2 366.0,873.2 366.6,874.2 367.3,875.2 367.9,876.2 368.5,877.2 369.1,878.3 369.8,879.3 370.4,880.3 371.0,881.3 371.6,882.3 372.3,883.3 372.9,884.3 373.5,885.3 374.2,886.3 374.8,887.4 375.5,888.4 376.1,889.4 376.7,890.4 377.4,891.4 378.0,892.4 378.6,893.4 379.3,894.5 379.9,895.5 380.5,896.5 381.2,897.5 381.8,898.5 382.5,899.6 383.1,900.6 383.7,901.6 384.4,902.6 385.0,903.6 385.6,904.7 386.3,905.7 386.9,906.7 387.5,907.7 388.2,908.8 388.8,909.8 389.4,910.8 390.1,911.8 390.7,912.9 391.3,913.9 392.0,914.9 392.6,915.9 393.2,916.9 393.9,918.0 394.5,919.0 395.1,920.0 395.8,921.0 396.4,922.0 397.0,923.1 397.7,924.1 398.3,925.1 399.0,926.1 399.6,927.1 400.3,928.2 400.9,929.2 401.5,930.2 402.2,931.2 402.8,932.2 403.5,933.2 404.2,934.2 404.8,935.2 405.5,936.2 406.1,937.2 406.8,938.2 407.4,939.2 408.1,940.2 408.8,941.2 409.4,942.2 410.1,943.2 410.8,944.2 411.4,945.2 412.1,946.2 412.8,947.2 413.5,948.2 414.2,949.1 414.9,950.1 415.5,951.1 416.2,952.1 416.9,953.0 417.6,954.0 418.3,955.0 419.0,956.0 419.7,956.9 420.4,957.9 421.2,958.8 421.9,959.8 422.6,960.7 423.3,961.7 424.0,962.6 424.8,963.6 425.5,964.5 426.2,965.4 427.0,966.4 427.7,967.3 428.5,968.2 429.2,969.2 430.0,970.1 430.7,971.0 431.5,971.9 432.2,972.8 433.0,973.7 433.8,974.6 434.6,975.5 435.4,976.4 436.1,977.3 436.9,978.2 437.7,979.1 438.5,980.0 439.3,980.8 440.1,981.7 441.0,982.6 441.8,983.4 442.6,984.3 443.4,985.2 444.3,986.0 445.1,986.8 446.0,987.7 446.8,988.5 447.7,989.4 448.5,990.2 449.4,991.0 450.3,991.8 451.1,992.6 452.0,993.4 452.9,994.2 453.8,995.0 454.7,995.8 455.6,996.6 456.5,997.4 457.4,998.2 458.3,998.9 459.3,999.7 460.2,1000.5 461.1,1001.2 462.1,1002.0 463.0,1002.7 463.9,1003.5 464.9,1004.2 465.8,1004.9 466.8,1005.7 467.8,1006.4 468.7,1007.1 469.7,1007.8 470.7,1008.5 471.6,1009.2 472.6,1009.9 473.6,1010.6 474.6,1011.2 475.6,1011.9 476.6,1012.6 477.6,1013.2 478.6,1013.9 479.6,1014.5 480.6,1015.2 481.7,1015.8 482.7,1016.5 483.7,1017.1 484.7,1017.7 485.8,1018.3 486.8,1018.9 487.9,1019.5 488.9,1020.1 489.9,1020.7 491.0,1021.3 492.1,1021.9 493.1,1022.4 494.2,1023.0 495.2,1023.5 496.3,1024.1 497.4,1024.6 498.4,1025.2 499.5,1025.7 500.6,1026.2 501.7,1026.7 502.8,1027.2 503.9,1027.7 505.0,1028.2 506.0,1028.7 507.1,1029.2 508.2,1029.6 509.3,1030.1 510.5,1030.6 511.6,1031.0 512.7,1031.5 513.8,1031.9 514.9,1032.3 516.0,1032.7 517.1,1033.2 518.3,1033.6 519.4,1034.0 520.5,1034.3 521.6,1034.7 522.8,1035.1 523.9,1035.5 525.0,1035.8 526.2,1036.2 527.3,1036.5 528.5,1036.9 529.6,1037.2 530.7,1037.5 531.9,1037.8 533.0,1038.1 534.2,1038.4 535.4,1038.7 536.5,1039.0 537.7,1039.3 538.8,1039.6 540.0,1039.8 541.1,1040.1 542.3,1040.4 543.5,1040.6 544.6,1040.9 545.8,1041.1 547.0,1041.3 548.1,1041.5 549.3,1041.8 550.5,1042.0 551.7,1042.2 552.8,1042.4 554.0,1042.6 555.2,1042.8 556.4,1043.0 557.6,1043.1 558.7,1043.3 559.9,1043.5 561.1,1043.7 562.3,1043.8 563.5,1044.0 564.7,1044.1 565.9,1044.3 567.1,1044.4 568.2,1044.6 569.4,1044.7 570.6,1044.8 571.8,1044.9 573.0,1045.1 574.2,1045.2 575.4,1045.3 576.6,1045.4 577.8,1045.5 579.0,1045.6 580.2,1045.7 581.4,1045.8 582.6,1045.9 583.8,1046.0 585.0,1046.1 586.2,1046.2 587.4,1046.2 588.6,1046.3 589.8,1046.4 591.0,1046.5 592.2,1046.5 593.4,1046.6 594.6,1046.7 595.8,1046.7 597.0,1046.8 598.2,1046.8 599.4,1046.9 600.6,1046.9 601.8,1047.0 603.0,1047.0 604.2,1047.1 605.4,1047.1 606.6,1047.2 607.8,1047.2 609.0,1047.3 610.2,1047.3 611.5,1047.3 612.7,1047.4 613.9,1047.4 615.1,1047.5 616.3,1047.5 617.5,1047.5 618.7,1047.6 619.9,1047.6 621.1,1047.6 622.3,1047.6 623.5,1047.7 624.7,1047.7 625.8,1047.7 627.0,1047.8 628.2,1047.8 629.4,1047.8 630.6,1047.9 631.8,1047.9 633.0,1047.9 634.2,1048.0 635.4,1048.0 636.6,1048.0 637.8,1048.1 639.0,1048.1 640.2,1048.1 641.3,1048.2 642.5,1048.2 643.7,1048.2 644.9,1048.3 646.1,1048.3 647.2,1048.4 648.4,1048.4 649.6,1048.4 650.8,1048.5 652.0,1048.5 653.1,1048.6 654.3,1048.6 654.9,1048.7" fill="none" stroke="#1a6ae0" stroke-width="2" stroke-linejoin="round"/>
<rect x="70.5" y="780.4" width="585.0" height="270.80000000000007" fill="none" stroke="#111" stroke-width="1.7"/>
<path d="M63.5,1048.9H70.5 M67.0,1026.2H70.5 M63.5,1003.6H70.5 M67.0,981.0H70.5 M63.5,958.3H70.5 M67.0,935.7H70.5 M63.5,913.0H70.5 M67.0,890.4H70.5 M63.5,867.7H70.5 M67.0,845.1H70.5 M63.5,822.4H70.5 M67.0,799.8H70.5 M70.5,1051.2V1058.2 M119.2,1051.2V1055.7 M168.0,1051.2V1058.2 M216.8,1051.2V1055.7 M265.5,1051.2V1058.2 M314.2,1051.2V1055.7 M363.0,1051.2V1058.2 M411.8,1051.2V1055.7 M460.5,1051.2V1058.2 M509.2,1051.2V1055.7 M558.0,1051.2V1058.2 M606.8,1051.2V1055.7 M655.5,1051.2V1058.2" stroke="#111" stroke-width="1.6" fill="none"/>
<text x="58.2" y="1053.3" font-size="14.6" text-anchor="end">0.0</text>
<text x="58.2" y="1008.0" font-size="14.6" text-anchor="end">0.2</text>
<text x="58.2" y="962.7" font-size="14.6" text-anchor="end">0.4</text>
<text x="58.2" y="917.4" font-size="14.6" text-anchor="end">0.6</text>
<text x="58.2" y="872.1" font-size="14.6" text-anchor="end">0.8</text>
<text x="58.2" y="826.8" font-size="14.6" text-anchor="end">1.0</text>
<text x="70.5" y="1078.4" font-size="18" text-anchor="middle">350</text>
<text x="168.0" y="1078.4" font-size="18" text-anchor="middle">400</text>
<text x="265.5" y="1078.4" font-size="18" text-anchor="middle">450</text>
<text x="363.0" y="1078.4" font-size="18" text-anchor="middle">500</text>
<text x="460.5" y="1078.4" font-size="18" text-anchor="middle">550</text>
<text x="558.0" y="1078.4" font-size="18" text-anchor="middle">600</text>
<text x="655.5" y="1078.4" font-size="18" text-anchor="middle">650</text>
<text x="363.0" y="1095.0" font-size="18" text-anchor="middle">Wavelength (nm)</text>
<text transform="translate(26.9,915.8) rotate(-90)" font-size="18" text-anchor="middle">Norm. Intensity (arb. units)</text>
<rect x="535.2" y="783.3" width="41.0" height="20.5" fill="#75c798"/>
<path d="M535.2,783.9H576.2M535.2,803.1999999999999H576.2" stroke="#35ac68" stroke-width="1.3"/>
<path d="M535.6,816.0H540.8M551.2,816.0H556.6M566.1,816.0H572.0" stroke="#505050" stroke-width="3.4" stroke-linecap="round"/>
<rect x="535.2" y="828.5" width="41.0" height="20.100000000000023" fill="#5d96e8"/>
<path d="M535.2,829.1H576.2M535.2,848.0H576.2" stroke="#1a6ae0" stroke-width="1.3"/>
<text x="585.6" y="799.6" font-size="18" font-weight="bold">0 min</text>
<text x="585.6" y="821.8" font-size="18" font-weight="bold">100 min</text>
<text x="585.6" y="844.1" font-size="18" font-weight="bold">120 min</text>
<path d="M293.6,807.6 L318.70000000000005,794.9 L312.1,805.1 H411.7 V810.1 H312.1 L318.70000000000005,820.3000000000001 Z" fill="#3d4466"/>
<text x="28.8" y="769.3" font-size="31" font-weight="bold">c</text><text x="54.3" y="769.3" font-size="31.5">C</text><text x="76.3" y="769.3" font-size="31.5">H</text><text x="98" y="769.3" font-size="31.5">B</text><text x="119.5" y="769.3" font-size="31.5">r</text><text x="128.1" y="775.7" font-size="21.5">3</text>
<path d="M9.6,1124.5 H1.3 V1500 H683.7 V1124.5 H65.4" fill="none" stroke="#c3c3c3" stroke-width="2.7"/>
<defs><linearGradient id="g145" x1="0" x2="1" y1="0" y2="0"><stop offset="0" stop-color="#3cbc58"/><stop offset="0.5" stop-color="#4ad066"/><stop offset="1" stop-color="#5ee678"/></linearGradient><linearGradient id="g145b" x1="0" x2="0" y1="0" y2="1"><stop offset="0" stop-color="#123a1a"/><stop offset="1" stop-color="#1a5226"/></linearGradient></defs>
<rect x="109.6" y="1240.7" width="60.4" height="127.8" fill="#000602" stroke="#7d7d7d" stroke-width="2.6"/>
<path d="M112.7,1367.2 V1274.5 Q112.7,1266.5 119.7,1266.5 H160.5 Q167.5,1266.5 167.5,1274.5 V1367.2 Z" fill="url(#g145b)" stroke="#3aa050" stroke-width="1" stroke-opacity="0.8"/>
<rect x="118.7" y="1260.5" width="43.8" height="8.5" rx="3" fill="#2a8a3a" fill-opacity="0.75"/>
<path d="M118.7,1261.3 Q140.1,1259.7 162.5,1261.3 M117.7,1264.5 Q140.1,1263.0 163.5,1264.5 M119.7,1269.0 Q140.1,1270.5 161.5,1269.0" fill="none" stroke="#50d070" stroke-width="1.1" stroke-opacity="0.9"/>
<path d="M112.7,1296.2 H167.5 V1363.2 Q167.5,1366.7 163.5,1366.7 H116.7 Q112.7,1366.7 112.7,1363.2 Z" fill="url(#g145)"/>
<rect x="112.7" y="1295.7" width="54.8" height="2" fill="#70f090" fill-opacity="0.8"/>
<defs><linearGradient id="g152" x1="0" x2="1" y1="0" y2="0"><stop offset="0" stop-color="#22c87a"/><stop offset="0.5" stop-color="#2cd486"/><stop offset="1" stop-color="#3ae092"/></linearGradient><linearGradient id="g152b" x1="0" x2="0" y1="0" y2="1"><stop offset="0" stop-color="#0e3420"/><stop offset="1" stop-color="#164c2e"/></linearGradient></defs>
<rect x="203.1" y="1240.7" width="60.4" height="127.8" fill="#000604" stroke="#7d7d7d" stroke-width="2.6"/>
<path d="M206.2,1367.2 V1274.5 Q206.2,1266.5 213.2,1266.5 H254.0 Q261.0,1266.5 261.0,1274.5 V1367.2 Z" fill="url(#g152b)" stroke="#309a60" stroke-width="1" stroke-opacity="0.8"/>
<rect x="212.2" y="1260.5" width="43.8" height="8.5" rx="3" fill="#248a50" fill-opacity="0.75"/>
<path d="M212.2,1261.3 Q233.6,1259.7 256.0,1261.3 M211.2,1264.5 Q233.6,1263.0 257.0,1264.5 M213.2,1269.0 Q233.6,1270.5 255.0,1269.0" fill="none" stroke="#50d090" stroke-width="1.1" stroke-opacity="0.9"/>
<path d="M206.2,1296.2 H261.0 V1363.2 Q261.0,1366.7 257.0,1366.7 H210.2 Q206.2,1366.7 206.2,1363.2 Z" fill="url(#g152)"/>
<rect x="206.2" y="1295.7" width="54.8" height="2" fill="#60f0b0" fill-opacity="0.8"/>
<path d="M72.3,1412.3 73.4,1412.3 74.6,1412.4 75.8,1412.4 77.0,1412.4 78.1,1412.4 79.3,1412.4 80.5,1412.4 81.6,1412.4 82.8,1412.4 84.0,1412.4 85.1,1412.4 86.3,1412.4 87.5,1412.4 88.6,1412.4 89.8,1412.4 91.0,1412.4 92.1,1412.4 93.3,1412.4 94.5,1412.4 95.6,1412.4 96.8,1412.4 97.9,1412.4 99.1,1412.4 100.3,1412.4 101.4,1412.4 102.6,1412.4 103.8,1412.4 104.9,1412.4 106.1,1412.4 107.3,1412.4 108.4,1412.4 109.6,1412.4 110.7,1412.4 111.9,1412.4 113.1,1412.4 114.2,1412.4 115.4,1412.4 116.5,1412.4 117.7,1412.4 118.9,1412.4 120.0,1412.4 121.2,1412.4 122.4,1412.4 123.5,1412.4 124.7,1412.4 125.8,1412.4 127.0,1412.3 128.2,1412.3 129.3,1412.3 130.5,1412.3 131.6,1412.3 132.8,1412.3 134.0,1412.3 135.1,1412.3 136.3,1412.2 137.5,1412.2 138.6,1412.2 139.8,1412.2 140.9,1412.2 142.1,1412.2 143.3,1412.2 144.4,1412.2 145.6,1412.2 146.7,1412.2 147.9,1412.2 149.1,1412.2 150.2,1412.2 151.4,1412.2 152.6,1412.2 153.7,1412.2 154.9,1412.2 156.0,1412.2 157.2,1412.2 158.4,1412.2 159.5,1412.2 160.7,1412.2 161.9,1412.2 163.0,1412.2 164.2,1412.2 165.4,1412.2 166.5,1412.2 167.7,1412.2 168.9,1412.3 170.0,1412.3 171.2,1412.3 172.4,1412.3 173.5,1412.3 174.7,1412.4 175.9,1412.4 177.0,1412.4 178.2,1412.4 179.4,1412.4 180.5,1412.4 181.7,1412.4 182.9,1412.4 184.1,1412.4 185.2,1412.4 186.4,1412.4 187.6,1412.4 188.7,1412.4 189.9,1412.4 191.1,1412.4 192.2,1412.4 193.4,1412.4 194.6,1412.4 195.7,1412.4 196.9,1412.4 198.1,1412.4 199.2,1412.4 200.4,1412.4 201.6,1412.4 202.7,1412.4 203.9,1412.4 205.1,1412.4 206.2,1412.4 207.4,1412.4 208.6,1412.4 209.7,1412.4 210.9,1412.4 212.1,1412.4 213.2,1412.4 214.4,1412.4 215.5,1412.3 216.7,1412.2 217.8,1412.1 219.0,1412.0 220.2,1411.9 221.3,1411.8 222.5,1411.7 223.6,1411.6 224.8,1411.4 225.9,1411.3 227.1,1411.1 228.2,1411.0 229.4,1410.8 230.5,1410.6 231.7,1410.4 232.8,1410.2 233.9,1410.0 235.1,1409.8 236.2,1409.5 237.4,1409.3 238.5,1409.0 239.6,1408.7 240.8,1408.5 241.9,1408.2 243.0,1407.8 244.1,1407.5 245.3,1407.2 246.4,1406.8 247.5,1406.4 248.6,1406.0 249.6,1405.6 250.7,1405.2 251.8,1404.7 252.8,1404.2 253.9,1403.7 254.9,1403.2 255.9,1402.7 256.9,1402.1 257.9,1401.5 258.8,1400.9 259.8,1400.3 260.7,1399.6 261.6,1398.9 262.6,1398.2 263.4,1397.5 264.3,1396.7 265.2,1395.9 266.0,1395.1 266.9,1394.3 267.7,1393.5 268.5,1392.7 269.3,1391.8 270.1,1390.9 270.8,1390.0 271.6,1389.1 272.4,1388.2 273.1,1387.3 273.8,1386.4 274.6,1385.5 275.3,1384.5 276.0,1383.6 276.7,1382.6 277.4,1381.7 278.1,1380.7 278.8,1379.8 279.4,1378.8 280.1,1377.8 280.8,1376.9 281.4,1375.9 282.1,1374.9 282.7,1373.9 283.4,1372.9 284.0,1372.0 284.6,1371.0 285.3,1370.0 285.9,1369.0 286.5,1368.0 287.1,1367.0 287.7,1366.0 288.3,1365.0 288.9,1364.0 289.5,1363.0 290.1,1361.9 290.6,1360.9 291.2,1359.9 291.8,1358.9 292.3,1357.9 292.9,1356.9 293.4,1355.8 294.0,1354.8 294.5,1353.8 295.1,1352.7 295.6,1351.7 296.1,1350.7 296.6,1349.6 297.2,1348.6 297.7,1347.5 298.2,1346.5 298.7,1345.5 299.2,1344.4 299.7,1343.4 300.2,1342.3 300.7,1341.3 301.2,1340.2 301.7,1339.2 302.1,1338.1 302.6,1337.1 303.1,1336.0 303.6,1334.9 304.0,1333.9 304.5,1332.8 305.0,1331.8 305.4,1330.7 305.9,1329.6 306.4,1328.6 306.8,1327.5 307.3,1326.4 307.7,1325.4 308.1,1324.3 308.6,1323.2 309.0,1322.2 309.5,1321.1 309.9,1320.0 310.3,1318.9 310.8,1317.9 311.2,1316.8 311.6,1315.7 312.1,1314.7 312.5,1313.6 312.9,1312.5 313.3,1311.4 313.7,1310.3 314.2,1309.3 314.6,1308.2 315.0,1307.1 315.4,1306.0 315.8,1304.9 316.2,1303.9 316.6,1302.8 317.0,1301.7 317.4,1300.6 317.8,1299.5 318.2,1298.4 318.6,1297.3 319.0,1296.3 319.4,1295.2 319.8,1294.1 320.2,1293.0 320.6,1291.9 321.0,1290.8 321.4,1289.7 321.8,1288.6 322.2,1287.5 322.6,1286.5 323.0,1285.4 323.4,1284.3 323.8,1283.2 324.2,1282.1 324.6,1281.0 325.0,1279.9 325.4,1278.8 325.7,1277.7 326.1,1276.6 326.5,1275.5 326.9,1274.4 327.3,1273.3 327.7,1272.2 328.1,1271.1 328.5,1270.0 328.9,1268.9 329.3,1267.8 329.7,1266.7 330.1,1265.6 330.5,1264.5 330.9,1263.4 331.3,1262.4 331.7,1261.3 332.1,1260.2 332.5,1259.1 332.9,1258.0 333.3,1256.9 333.7,1255.8 334.1,1254.7 334.5,1253.6 334.9,1252.5 335.3,1251.4 335.7,1250.3 336.1,1249.2 336.6,1248.1 337.0,1247.0 337.4,1245.9 337.8,1244.8 338.2,1243.7 338.7,1242.6 339.1,1241.5 339.5,1240.4 340.0,1239.3 340.4,1238.2 340.9,1237.1 341.3,1236.1 341.8,1235.0 342.2,1233.9 342.7,1232.8 343.2,1231.7 343.7,1230.7 344.1,1229.6 344.6,1228.5 345.1,1227.5 345.7,1226.4 346.2,1225.4 346.7,1224.3 347.2,1223.3 347.8,1222.3 348.3,1221.2 348.9,1220.2 349.5,1219.2 350.1,1218.2 350.6,1217.2 351.3,1216.2 351.9,1215.2 352.5,1214.2 353.1,1213.2 353.8,1212.2 354.4,1211.3 355.1,1210.3 355.8,1209.3 356.5,1208.4 357.2,1207.5 358.0,1206.5 358.7,1205.6 359.5,1204.7 360.2,1203.8 361.0,1202.9 361.8,1202.0 362.7,1201.2 363.5,1200.3 364.3,1199.4 365.2,1198.6 366.1,1197.8 367.0,1197.0 367.9,1196.2 368.8,1195.5 369.7,1194.7 370.6,1194.0 371.6,1193.3 372.5,1192.7 373.5,1192.1 374.4,1191.5 375.4,1190.9 376.4,1190.4 377.4,1189.9 378.4,1189.4 379.4,1189.0 380.4,1188.6 381.4,1188.3 382.4,1188.0 383.5,1187.7 384.5,1187.5 385.5,1187.4 386.5,1187.3 387.6,1187.2 388.6,1187.2 389.6,1187.3 390.7,1187.4 391.7,1187.5 392.7,1187.7 393.8,1188.0 394.8,1188.3 395.8,1188.7 396.8,1189.1 397.8,1189.5 398.8,1190.0 399.8,1190.5 400.8,1191.1 401.8,1191.7 402.8,1192.3 403.7,1193.0 404.7,1193.7 405.6,1194.4 406.5,1195.2 407.4,1195.9 408.3,1196.8 409.2,1197.6 410.1,1198.4 411.0,1199.3 411.8,1200.2 412.7,1201.1 413.5,1202.0 414.4,1202.9 415.2,1203.9 416.0,1204.9 416.8,1205.8 417.6,1206.8 418.3,1207.8 419.1,1208.7 419.9,1209.7 420.6,1210.7 421.3,1211.7 422.1,1212.7 422.8,1213.7 423.5,1214.6 424.2,1215.6 424.9,1216.6 425.6,1217.6 426.2,1218.6 426.9,1219.5 427.6,1220.5 428.2,1221.5 428.9,1222.5 429.5,1223.5 430.1,1224.5 430.8,1225.4 431.4,1226.4 432.0,1227.4 432.6,1228.4 433.2,1229.4 433.8,1230.4 434.4,1231.4 435.0,1232.3 435.6,1233.3 436.2,1234.3 436.8,1235.3 437.3,1236.3 437.9,1237.3 438.5,1238.3 439.1,1239.2 439.6,1240.2 440.2,1241.2 440.8,1242.2 441.3,1243.2 441.9,1244.2 442.5,1245.2 443.0,1246.2 443.6,1247.2 444.2,1248.2 444.8,1249.1 445.3,1250.1 445.9,1251.1 446.5,1252.1 447.0,1253.1 447.6,1254.1 448.2,1255.1 448.8,1256.1 449.4,1257.1 449.9,1258.1 450.5,1259.1 451.1,1260.1 451.7,1261.1 452.3,1262.1 452.8,1263.1 453.4,1264.1 454.0,1265.1 454.6,1266.1 455.2,1267.0 455.8,1268.0 456.4,1269.0 457.0,1270.0 457.6,1271.0 458.2,1272.0 458.8,1273.0 459.4,1274.0 460.0,1275.0 460.6,1276.0 461.2,1277.0 461.8,1278.0 462.4,1279.0 463.0,1280.0 463.6,1280.9 464.2,1281.9 464.9,1282.9 465.5,1283.9 466.1,1284.9 466.7,1285.9 467.3,1286.9 468.0,1287.8 468.6,1288.8 469.2,1289.8 469.9,1290.8 470.5,1291.8 471.1,1292.7 471.8,1293.7 472.4,1294.7 473.1,1295.7 473.7,1296.6 474.3,1297.6 475.0,1298.6 475.6,1299.5 476.3,1300.5 477.0,1301.5 477.6,1302.4 478.3,1303.4 478.9,1304.3 479.6,1305.3 480.3,1306.3 480.9,1307.2 481.6,1308.2 482.3,1309.1 483.0,1310.1 483.7,1311.0 484.3,1312.0 485.0,1312.9 485.7,1313.8 486.4,1314.8 487.1,1315.7 487.8,1316.7 488.5,1317.6 489.2,1318.5 489.9,1319.5 490.6,1320.4 491.4,1321.3 492.1,1322.2 492.8,1323.1 493.5,1324.1 494.2,1325.0 495.0,1325.9 495.7,1326.8 496.4,1327.7 497.2,1328.6 497.9,1329.5 498.7,1330.4 499.4,1331.3 500.2,1332.2 500.9,1333.1 501.7,1334.0 502.4,1334.9 503.2,1335.7 504.0,1336.6 504.7,1337.5 505.5,1338.4 506.3,1339.2 507.1,1340.1 507.9,1341.0 508.7,1341.8 509.5,1342.7 510.3,1343.5 511.1,1344.4 511.9,1345.2 512.7,1346.1 513.5,1346.9 514.3,1347.7 515.1,1348.6 515.9,1349.4 516.8,1350.2 517.6,1351.0 518.4,1351.9 519.3,1352.7 520.1,1353.5 521.0,1354.3 521.8,1355.1 522.7,1355.9 523.5,1356.7 524.4,1357.5 525.2,1358.2 526.1,1359.0 527.0,1359.8 527.9,1360.6 528.7,1361.3 529.6,1362.1 530.5,1362.8 531.4,1363.6 532.3,1364.3 533.2,1365.1 534.1,1365.8 535.0,1366.6 535.9,1367.3 536.8,1368.0 537.7,1368.7 538.6,1369.4 539.6,1370.1 540.5,1370.8 541.4,1371.5 542.4,1372.2 543.3,1372.9 544.2,1373.6 545.2,1374.3 546.1,1374.9 547.1,1375.6 548.0,1376.2 549.0,1376.9 550.0,1377.5 550.9,1378.2 551.9,1378.8 552.9,1379.4 553.8,1380.1 554.8,1380.7 555.8,1381.3 556.8,1381.9 557.8,1382.5 558.8,1383.1 559.8,1383.6 560.8,1384.2 561.8,1384.8 562.8,1385.4 563.8,1385.9 564.8,1386.5 565.9,1387.0 566.9,1387.5 567.9,1388.1 569.0,1388.6 570.0,1389.1 571.0,1389.6 572.1,1390.1 573.1,1390.6 574.2,1391.1 575.2,1391.6 576.3,1392.0 577.3,1392.5 578.4,1393.0 579.5,1393.4 580.6,1393.8 581.6,1394.3 582.7,1394.7 583.8,1395.1 584.9,1395.5 586.0,1395.9 587.1,1396.3 588.2,1396.7 589.3,1397.1 590.4,1397.5 591.5,1397.9 592.6,1398.2 593.7,1398.6 594.8,1398.9 595.9,1399.3 597.0,1399.6 598.1,1399.9 599.3,1400.3 600.4,1400.6 601.5,1400.9 602.6,1401.2 603.8,1401.5 604.9,1401.8 606.0,1402.1 607.2,1402.3 608.3,1402.6 609.4,1402.9 610.6,1403.1 611.7,1403.4 612.9,1403.6 614.0,1403.9 615.2,1404.1 616.3,1404.3 617.5,1404.6 618.6,1404.8 619.8,1405.0 620.9,1405.2 622.1,1405.4 623.2,1405.6 624.4,1405.8 625.5,1406.0 626.7,1406.1 627.8,1406.3 629.0,1406.5 630.2,1406.6 631.3,1406.8 632.5,1407.0 633.6,1407.1 634.8,1407.2 635.9,1407.4 637.1,1407.5 638.3,1407.6 639.4,1407.8 640.6,1407.9 641.7,1408.0 642.9,1408.1 644.0,1408.2 645.2,1408.3 646.3,1408.4 647.5,1408.5 648.7,1408.6 649.8,1408.6 651.0,1408.7 652.1,1408.8 653.3,1408.8 654.4,1408.9 655.5,1409.0 656.7,1409.0 657.3,1409.0" fill="none" stroke="#35ac68" stroke-width="2" />
<path d="M72.3,1412.3 73.5,1412.4 74.6,1412.4 75.8,1412.4 76.9,1412.4 78.1,1412.4 79.3,1412.4 80.4,1412.4 81.6,1412.4 82.7,1412.4 83.9,1412.4 85.0,1412.4 86.2,1412.4 87.4,1412.4 88.5,1412.4 89.7,1412.4 90.8,1412.4 92.0,1412.4 93.2,1412.4 94.3,1412.4 95.5,1412.4 96.6,1412.4 97.8,1412.4 99.0,1412.4 100.1,1412.4 101.3,1412.4 102.4,1412.4 103.6,1412.4 104.8,1412.4 105.9,1412.4 107.1,1412.4 108.2,1412.4 109.4,1412.4 110.6,1412.4 111.7,1412.4 112.9,1412.4 114.0,1412.4 115.2,1412.4 116.4,1412.4 117.5,1412.4 118.7,1412.4 119.8,1412.4 121.0,1412.4 122.2,1412.4 123.3,1412.4 124.5,1412.4 125.6,1412.4 126.8,1412.4 128.0,1412.3 129.1,1412.3 130.3,1412.3 131.5,1412.3 132.6,1412.3 133.8,1412.3 134.9,1412.3 136.1,1412.3 137.3,1412.3 138.4,1412.3 139.6,1412.3 140.7,1412.3 141.9,1412.3 143.1,1412.3 144.2,1412.3 145.4,1412.3 146.5,1412.3 147.7,1412.3 148.9,1412.3 150.0,1412.3 151.2,1412.3 152.3,1412.3 153.5,1412.3 154.6,1412.3 155.8,1412.3 157.0,1412.3 158.1,1412.3 159.3,1412.3 160.4,1412.3 161.6,1412.3 162.8,1412.3 163.9,1412.3 165.1,1412.3 166.2,1412.3 167.4,1412.3 168.5,1412.4 169.7,1412.4 170.8,1412.4 172.0,1412.4 173.2,1412.4 174.3,1412.4 175.5,1412.4 176.6,1412.4 177.8,1412.4 178.9,1412.4 180.1,1412.4 181.2,1412.4 182.4,1412.4 183.6,1412.4 184.7,1412.4 185.9,1412.4 187.0,1412.4 188.2,1412.4 189.3,1412.4 190.5,1412.4 191.6,1412.4 192.8,1412.4 193.9,1412.4 195.1,1412.4 196.3,1412.4 197.4,1412.4 198.6,1412.4 199.7,1412.4 200.9,1412.4 202.1,1412.4 203.2,1412.4 204.4,1412.4 205.5,1412.4 206.7,1412.4 207.9,1412.4 209.0,1412.4 210.2,1412.4 211.4,1412.3 212.5,1412.3 213.7,1412.2 214.9,1412.1 216.0,1412.0 217.2,1411.9 218.4,1411.8 219.5,1411.7 220.7,1411.6 221.9,1411.5 223.1,1411.4 224.2,1411.2 225.4,1411.1 226.6,1410.9 227.8,1410.7 228.9,1410.6 230.1,1410.4 231.3,1410.2 232.4,1409.9 233.6,1409.7 234.7,1409.4 235.9,1409.2 237.0,1408.9 238.1,1408.6 239.2,1408.3 240.3,1407.9 241.4,1407.6 242.5,1407.2 243.6,1406.8 244.6,1406.3 245.7,1405.9 246.7,1405.4 247.7,1404.9 248.7,1404.4 249.7,1403.8 250.6,1403.2 251.6,1402.6 252.5,1402.0 253.4,1401.3 254.3,1400.7 255.2,1400.0 256.1,1399.3 256.9,1398.5 257.8,1397.8 258.6,1397.0 259.4,1396.2 260.2,1395.4 261.0,1394.6 261.8,1393.7 262.6,1392.9 263.4,1392.0 264.1,1391.1 264.8,1390.2 265.6,1389.3 266.3,1388.4 267.0,1387.4 267.7,1386.5 268.4,1385.5 269.1,1384.6 269.7,1383.6 270.4,1382.6 271.1,1381.6 271.7,1380.6 272.4,1379.6 273.0,1378.6 273.6,1377.6 274.3,1376.6 274.9,1375.5 275.5,1374.5 276.1,1373.5 276.7,1372.4 277.3,1371.4 277.9,1370.4 278.5,1369.4 279.1,1368.3 279.7,1367.3 280.2,1366.3 280.8,1365.3 281.4,1364.2 282.0,1363.2 282.5,1362.2 283.1,1361.2 283.6,1360.1 284.2,1359.1 284.8,1358.1 285.3,1357.1 285.9,1356.1 286.4,1355.1 286.9,1354.0 287.5,1353.0 288.0,1352.0 288.5,1351.0 289.1,1350.0 289.6,1349.0 290.1,1347.9 290.6,1346.9 291.2,1345.9 291.7,1344.9 292.2,1343.9 292.7,1342.8 293.2,1341.8 293.7,1340.8 294.2,1339.8 294.7,1338.8 295.2,1337.7 295.7,1336.7 296.2,1335.7 296.7,1334.6 297.1,1333.6 297.6,1332.6 298.1,1331.5 298.6,1330.5 299.1,1329.5 299.5,1328.4 300.0,1327.4 300.5,1326.3 300.9,1325.3 301.4,1324.2 301.9,1323.2 302.3,1322.1 302.8,1321.1 303.2,1320.0 303.7,1318.9 304.1,1317.9 304.6,1316.8 305.0,1315.8 305.5,1314.7 305.9,1313.6 306.4,1312.5 306.8,1311.5 307.3,1310.4 307.7,1309.3 308.1,1308.3 308.6,1307.2 309.0,1306.1 309.5,1305.0 309.9,1303.9 310.3,1302.9 310.8,1301.8 311.2,1300.7 311.6,1299.6 312.0,1298.5 312.5,1297.4 312.9,1296.4 313.3,1295.3 313.8,1294.2 314.2,1293.1 314.6,1292.0 315.0,1290.9 315.4,1289.8 315.9,1288.7 316.3,1287.7 316.7,1286.6 317.1,1285.5 317.6,1284.4 318.0,1283.3 318.4,1282.2 318.8,1281.1 319.2,1280.0 319.7,1279.0 320.1,1277.9 320.5,1276.8 320.9,1275.7 321.3,1274.6 321.8,1273.5 322.2,1272.4 322.6,1271.4 323.0,1270.3 323.5,1269.2 323.9,1268.1 324.3,1267.0 324.7,1266.0 325.2,1264.9 325.6,1263.8 326.0,1262.7 326.4,1261.7 326.9,1260.6 327.3,1259.5 327.7,1258.5 328.1,1257.4 328.6,1256.3 329.0,1255.3 329.4,1254.2 329.9,1253.1 330.3,1252.1 330.8,1251.0 331.2,1250.0 331.6,1248.9 332.1,1247.9 332.5,1246.8 333.0,1245.8 333.4,1244.7 333.9,1243.7 334.3,1242.6 334.8,1241.6 335.2,1240.5 335.7,1239.5 336.2,1238.5 336.7,1237.4 337.1,1236.4 337.6,1235.4 338.1,1234.3 338.6,1233.3 339.1,1232.3 339.6,1231.3 340.1,1230.2 340.7,1229.2 341.2,1228.2 341.7,1227.1 342.3,1226.1 342.8,1225.1 343.4,1224.1 344.0,1223.0 344.5,1222.0 345.1,1221.0 345.7,1220.0 346.3,1219.0 347.0,1217.9 347.6,1216.9 348.2,1215.9 348.9,1214.9 349.6,1213.8 350.2,1212.8 350.9,1211.8 351.6,1210.8 352.4,1209.7 353.1,1208.7 353.8,1207.7 354.6,1206.7 355.3,1205.7 356.1,1204.7 356.9,1203.8 357.7,1202.8 358.5,1201.9 359.3,1200.9 360.1,1200.0 361.0,1199.2 361.8,1198.3 362.7,1197.4 363.5,1196.6 364.4,1195.8 365.3,1195.0 366.2,1194.3 367.1,1193.6 368.0,1192.9 368.9,1192.2 369.8,1191.6 370.7,1191.0 371.7,1190.4 372.6,1189.9 373.6,1189.4 374.5,1189.0 375.5,1188.6 376.5,1188.2 377.4,1187.9 378.4,1187.6 379.4,1187.4 380.4,1187.2 381.4,1187.1 382.4,1187.0 383.4,1187.0 384.5,1187.0 385.5,1187.0 386.5,1187.1 387.5,1187.3 388.6,1187.4 389.6,1187.7 390.6,1187.9 391.6,1188.2 392.7,1188.5 393.7,1188.9 394.7,1189.3 395.8,1189.8 396.8,1190.2 397.8,1190.7 398.8,1191.2 399.8,1191.8 400.8,1192.4 401.8,1193.0 402.8,1193.6 403.8,1194.2 404.7,1194.9 405.7,1195.6 406.7,1196.3 407.6,1197.0 408.5,1197.8 409.4,1198.5 410.4,1199.3 411.3,1200.1 412.1,1200.9 413.0,1201.7 413.9,1202.5 414.7,1203.3 415.5,1204.1 416.4,1205.0 417.2,1205.8 418.0,1206.7 418.8,1207.6 419.5,1208.4 420.3,1209.3 421.1,1210.2 421.8,1211.1 422.6,1212.0 423.3,1213.0 424.0,1213.9 424.7,1214.8 425.4,1215.7 426.1,1216.7 426.8,1217.6 427.5,1218.6 428.2,1219.5 428.9,1220.5 429.5,1221.5 430.2,1222.4 430.8,1223.4 431.5,1224.4 432.1,1225.4 432.8,1226.4 433.4,1227.4 434.0,1228.4 434.7,1229.3 435.3,1230.3 435.9,1231.3 436.5,1232.3 437.2,1233.3 437.8,1234.3 438.4,1235.3 439.0,1236.3 439.6,1237.3 440.2,1238.3 440.9,1239.3 441.5,1240.3 442.1,1241.3 442.7,1242.3 443.3,1243.3 443.9,1244.3 444.5,1245.3 445.1,1246.3 445.8,1247.3 446.4,1248.3 447.0,1249.3 447.6,1250.3 448.2,1251.3 448.8,1252.3 449.4,1253.2 450.1,1254.2 450.7,1255.2 451.3,1256.2 451.9,1257.2 452.5,1258.2 453.2,1259.1 453.8,1260.1 454.4,1261.1 455.0,1262.1 455.6,1263.1 456.3,1264.0 456.9,1265.0 457.5,1266.0 458.1,1267.0 458.8,1267.9 459.4,1268.9 460.0,1269.9 460.6,1270.8 461.3,1271.8 461.9,1272.8 462.5,1273.7 463.2,1274.7 463.8,1275.7 464.4,1276.6 465.1,1277.6 465.7,1278.6 466.3,1279.5 467.0,1280.5 467.6,1281.4 468.3,1282.4 468.9,1283.3 469.5,1284.3 470.2,1285.3 470.8,1286.2 471.5,1287.2 472.1,1288.1 472.8,1289.1 473.4,1290.0 474.1,1291.0 474.7,1291.9 475.4,1292.8 476.1,1293.8 476.7,1294.7 477.4,1295.7 478.0,1296.6 478.7,1297.5 479.4,1298.5 480.0,1299.4 480.7,1300.4 481.4,1301.3 482.1,1302.2 482.7,1303.2 483.4,1304.1 484.1,1305.0 484.8,1305.9 485.5,1306.9 486.1,1307.8 486.8,1308.7 487.5,1309.6 488.2,1310.6 488.9,1311.5 489.6,1312.4 490.3,1313.3 491.0,1314.3 491.7,1315.2 492.4,1316.1 493.1,1317.0 493.8,1317.9 494.5,1318.8 495.3,1319.7 496.0,1320.6 496.7,1321.6 497.4,1322.5 498.1,1323.4 498.9,1324.3 499.6,1325.2 500.3,1326.1 501.1,1327.0 501.8,1327.9 502.6,1328.8 503.3,1329.7 504.0,1330.6 504.8,1331.5 505.5,1332.3 506.3,1333.2 507.1,1334.1 507.8,1335.0 508.6,1335.9 509.3,1336.8 510.1,1337.7 510.9,1338.5 511.7,1339.4 512.4,1340.3 513.2,1341.1 514.0,1342.0 514.8,1342.9 515.6,1343.7 516.4,1344.6 517.2,1345.5 518.0,1346.3 518.8,1347.2 519.6,1348.0 520.4,1348.8 521.2,1349.7 522.0,1350.5 522.8,1351.4 523.6,1352.2 524.5,1353.0 525.3,1353.8 526.1,1354.6 527.0,1355.5 527.8,1356.3 528.6,1357.1 529.5,1357.9 530.3,1358.7 531.2,1359.5 532.0,1360.2 532.9,1361.0 533.8,1361.8 534.6,1362.6 535.5,1363.3 536.4,1364.1 537.3,1364.9 538.1,1365.6 539.0,1366.4 539.9,1367.1 540.8,1367.8 541.7,1368.6 542.6,1369.3 543.5,1370.0 544.4,1370.7 545.3,1371.4 546.3,1372.1 547.2,1372.8 548.1,1373.5 549.0,1374.2 550.0,1374.9 550.9,1375.6 551.8,1376.2 552.8,1376.9 553.7,1377.5 554.7,1378.2 555.6,1378.8 556.6,1379.5 557.6,1380.1 558.5,1380.7 559.5,1381.3 560.5,1381.9 561.5,1382.5 562.5,1383.1 563.5,1383.7 564.5,1384.3 565.5,1384.8 566.5,1385.4 567.5,1385.9 568.5,1386.5 569.5,1387.0 570.5,1387.6 571.6,1388.1 572.6,1388.6 573.6,1389.1 574.7,1389.6 575.7,1390.1 576.8,1390.6 577.8,1391.0 578.9,1391.5 579.9,1392.0 581.0,1392.4 582.1,1392.9 583.1,1393.3 584.2,1393.7 585.3,1394.2 586.4,1394.6 587.5,1395.0 588.5,1395.4 589.6,1395.8 590.7,1396.2 591.8,1396.6 592.9,1396.9 594.0,1397.3 595.1,1397.7 596.2,1398.0 597.3,1398.4 598.5,1398.7 599.6,1399.0 600.7,1399.4 601.8,1399.7 602.9,1400.0 604.0,1400.3 605.2,1400.6 606.3,1400.9 607.4,1401.2 608.6,1401.5 609.7,1401.8 610.8,1402.0 612.0,1402.3 613.1,1402.6 614.2,1402.8 615.4,1403.1 616.5,1403.3 617.7,1403.5 618.8,1403.8 620.0,1404.0 621.1,1404.2 622.2,1404.4 623.4,1404.6 624.5,1404.8 625.7,1405.0 626.8,1405.2 628.0,1405.4 629.1,1405.5 630.3,1405.7 631.4,1405.9 632.6,1406.0 633.7,1406.2 634.9,1406.3 636.1,1406.5 637.2,1406.6 638.4,1406.8 639.5,1406.9 640.7,1407.0 641.8,1407.1 643.0,1407.2 644.1,1407.4 645.3,1407.5 646.4,1407.6 647.5,1407.6 648.7,1407.7 649.8,1407.8 651.0,1407.9 652.1,1408.0 653.3,1408.0 654.4,1408.1 655.6,1408.2 656.7,1408.2 657.3,1408.3" fill="none" stroke="#e8393b" stroke-width="3" stroke-dasharray="6 3"/>
<path d="M72.3,1412.4 144.0,1412.3 220.9,1411.7 225.8,1411.2 229.6,1410.6 232.8,1410.0 235.5,1409.5 237.9,1408.9 240.0,1408.4 242.0,1407.8 243.7,1407.2 245.3,1406.7 246.7,1406.1 248.1,1405.5 249.3,1405.0 250.5,1404.4 251.6,1403.8 252.6,1403.3 253.6,1402.7 254.5,1402.1 255.4,1401.6 256.2,1401.0 257.0,1400.5 257.8,1399.9 258.5,1399.3 259.2,1398.8 259.9,1398.2 260.6,1397.6 261.2,1397.1 261.8,1396.5 262.4,1395.9 263.0,1395.4 263.6,1394.8 264.1,1394.3 264.7,1393.7 265.2,1393.1 265.7,1392.6 266.2,1392.0 266.7,1391.4 267.2,1390.9 267.7,1390.3 268.2,1389.7 268.6,1389.2 269.1,1388.6 269.5,1388.0 270.0,1387.5 270.4,1386.9 270.8,1386.4 271.7,1385.2 272.5,1384.1 273.3,1383.0 274.1,1381.8 274.9,1380.7 275.6,1379.6 276.4,1378.5 277.1,1377.3 277.8,1376.2 278.6,1375.1 279.3,1373.9 280.0,1372.8 280.7,1371.7 281.3,1370.6 282.0,1369.4 282.7,1368.3 283.4,1367.2 284.0,1366.1 284.7,1364.9 285.3,1363.8 286.0,1362.7 286.6,1361.5 287.2,1360.4 287.8,1359.3 288.5,1358.2 289.1,1357.0 289.7,1355.9 290.3,1354.8 290.9,1353.6 291.5,1352.5 292.0,1351.4 292.6,1350.3 293.2,1349.1 293.8,1348.0 294.3,1346.9 294.9,1345.7 295.4,1344.6 296.0,1343.5 296.5,1342.4 297.1,1341.2 297.6,1340.1 298.2,1339.0 298.7,1337.9 299.2,1336.7 299.7,1335.6 300.3,1334.5 300.8,1333.3 301.3,1332.2 301.8,1331.1 302.3,1330.0 302.8,1328.8 303.3,1327.7 303.8,1326.6 304.3,1325.4 304.8,1324.3 305.2,1323.2 305.7,1322.1 306.2,1320.9 306.7,1319.8 307.1,1318.7 307.6,1317.5 308.1,1316.4 308.5,1315.3 309.0,1314.2 309.4,1313.0 309.9,1311.9 310.3,1310.8 310.8,1309.7 311.2,1308.5 311.7,1307.4 312.1,1306.3 312.6,1305.1 313.0,1304.0 313.4,1302.9 313.9,1301.8 314.3,1300.6 314.7,1299.5 315.2,1298.4 315.6,1297.2 316.0,1296.1 316.5,1295.0 316.9,1293.9 317.3,1292.7 317.7,1291.6 318.2,1290.5 318.6,1289.3 319.0,1288.2 319.4,1287.1 319.9,1286.0 320.3,1284.8 320.7,1283.7 321.1,1282.6 321.5,1281.5 322.0,1280.3 322.4,1279.2 322.8,1278.1 323.2,1276.9 323.7,1275.8 324.1,1274.7 324.5,1273.6 324.9,1272.4 325.3,1271.3 325.8,1270.2 326.2,1269.0 326.6,1267.9 327.0,1266.8 327.5,1265.7 327.9,1264.5 328.3,1263.4 328.7,1262.3 329.2,1261.1 329.6,1260.0 330.0,1258.9 330.5,1257.8 330.9,1256.6 331.3,1255.5 331.8,1254.4 332.2,1253.3 332.7,1252.1 333.1,1251.0 333.6,1249.9 334.0,1248.7 334.5,1247.6 334.9,1246.5 335.4,1245.4 335.8,1244.2 336.3,1243.1 336.8,1242.0 337.2,1240.8 337.7,1239.7 338.2,1238.6 338.7,1237.5 339.2,1236.3 339.7,1235.2 340.2,1234.1 340.7,1232.9 341.2,1231.8 341.8,1230.7 342.3,1229.6 342.9,1228.4 343.4,1227.3 344.0,1226.2 344.6,1225.0 345.2,1223.9 345.8,1222.8 346.4,1221.7 347.1,1220.5 347.7,1219.4 348.4,1218.3 349.0,1217.2 349.7,1216.0 350.5,1214.9 351.2,1213.8 351.9,1212.6 352.7,1211.5 353.5,1210.4 354.3,1209.3 355.1,1208.1 356.0,1207.0 356.4,1206.4 356.9,1205.9 357.3,1205.3 357.8,1204.7 358.2,1204.2 358.7,1203.6 359.2,1203.1 359.7,1202.5 360.2,1201.9 360.7,1201.4 361.2,1200.8 361.7,1200.2 362.3,1199.7 362.8,1199.1 363.4,1198.5 364.0,1198.0 364.6,1197.4 365.2,1196.8 365.8,1196.3 366.5,1195.7 367.1,1195.2 367.8,1194.6 368.5,1194.0 369.3,1193.5 370.1,1192.9 370.9,1192.3 371.7,1191.8 372.6,1191.2 373.6,1190.6 374.6,1190.1 375.8,1189.5 377.1,1189.0 378.5,1188.4 380.4,1187.8 383.4,1187.3 388.6,1187.3 391.7,1187.8 393.6,1188.4 395.2,1189.0 396.5,1189.5 397.7,1190.1 398.9,1190.6 399.9,1191.2 400.9,1191.8 401.8,1192.3 402.6,1192.9 403.5,1193.5 404.3,1194.0 405.1,1194.6 405.8,1195.2 406.5,1195.7 407.2,1196.3 407.9,1196.8 408.6,1197.4 409.2,1198.0 409.8,1198.5 410.5,1199.1 411.1,1199.7 411.7,1200.2 412.2,1200.8 412.8,1201.4 413.4,1201.9 413.9,1202.5 414.5,1203.1 415.0,1203.6 415.5,1204.2 416.0,1204.7 416.5,1205.3 417.0,1205.9 417.5,1206.4 418.0,1207.0 418.5,1207.6 419.0,1208.1 419.4,1208.7 419.9,1209.3 420.3,1209.8 420.8,1210.4 421.2,1210.9 421.7,1211.5 422.1,1212.1 422.5,1212.6 423.0,1213.2 423.8,1214.3 424.7,1215.5 425.5,1216.6 426.3,1217.7 427.1,1218.8 427.8,1220.0 428.6,1221.1 429.4,1222.2 430.1,1223.4 430.8,1224.5 431.6,1225.6 432.3,1226.7 433.0,1227.9 433.7,1229.0 434.4,1230.1 435.1,1231.3 435.8,1232.4 436.5,1233.5 437.2,1234.6 437.8,1235.8 438.5,1236.9 439.2,1238.0 439.9,1239.1 440.5,1240.3 441.2,1241.4 441.9,1242.5 442.6,1243.7 443.2,1244.8 443.9,1245.9 444.6,1247.0 445.2,1248.2 445.9,1249.3 446.6,1250.4 447.3,1251.6 447.9,1252.7 448.6,1253.8 449.3,1254.9 450.0,1256.1 450.7,1257.2 451.4,1258.3 452.0,1259.5 452.7,1260.6 453.4,1261.7 454.1,1262.8 454.8,1264.0 455.5,1265.1 456.2,1266.2 456.9,1267.4 457.6,1268.5 458.3,1269.6 459.0,1270.7 459.7,1271.9 460.4,1273.0 461.1,1274.1 461.8,1275.2 462.5,1276.4 463.3,1277.5 464.0,1278.6 464.7,1279.8 465.4,1280.9 466.1,1282.0 466.9,1283.1 467.6,1284.3 468.4,1285.4 469.1,1286.5 469.8,1287.7 470.6,1288.8 471.3,1289.9 472.1,1291.0 472.8,1292.2 473.6,1293.3 474.4,1294.4 475.1,1295.6 475.9,1296.7 476.7,1297.8 477.5,1298.9 478.3,1300.1 479.0,1301.2 479.8,1302.3 480.6,1303.4 481.4,1304.6 482.2,1305.7 483.1,1306.8 483.9,1308.0 484.7,1309.1 485.5,1310.2 486.3,1311.3 487.2,1312.5 488.0,1313.6 488.9,1314.7 489.7,1315.9 490.2,1316.4 490.6,1317.0 491.0,1317.5 491.5,1318.1 491.9,1318.7 492.3,1319.2 492.8,1319.8 493.2,1320.4 493.6,1320.9 494.1,1321.5 494.5,1322.1 495.0,1322.6 495.4,1323.2 495.9,1323.8 496.3,1324.3 496.8,1324.9 497.2,1325.4 497.7,1326.0 498.1,1326.6 498.6,1327.1 499.1,1327.7 499.5,1328.3 500.0,1328.8 500.4,1329.4 500.9,1330.0 501.4,1330.5 501.9,1331.1 502.3,1331.6 502.8,1332.2 503.3,1332.8 503.8,1333.3 504.2,1333.9 504.7,1334.5 505.2,1335.0 505.7,1335.6 506.2,1336.2 506.7,1336.7 507.2,1337.3 507.7,1337.9 508.2,1338.4 508.7,1339.0 509.2,1339.5 509.7,1340.1 510.2,1340.7 510.7,1341.2 511.2,1341.8 511.7,1342.4 512.3,1342.9 512.8,1343.5 513.3,1344.1 513.8,1344.6 514.4,1345.2 514.9,1345.7 515.4,1346.3 516.0,1346.9 516.5,1347.4 517.1,1348.0 517.6,1348.6 518.2,1349.1 518.7,1349.7 519.3,1350.3 519.8,1350.8 520.4,1351.4 521.0,1352.0 521.5,1352.5 522.1,1353.1 522.7,1353.6 523.3,1354.2 523.9,1354.8 524.5,1355.3 525.1,1355.9 525.7,1356.5 526.3,1357.0 526.9,1357.6 527.5,1358.2 528.1,1358.7 528.7,1359.3 529.3,1359.8 530.0,1360.4 530.6,1361.0 531.2,1361.5 531.9,1362.1 532.5,1362.7 533.2,1363.2 533.8,1363.8 534.5,1364.4 535.2,1364.9 535.8,1365.5 536.5,1366.1 537.2,1366.6 537.9,1367.2 538.6,1367.7 539.3,1368.3 540.0,1368.9 540.7,1369.4 541.4,1370.0 542.2,1370.6 542.9,1371.1 543.7,1371.7 544.4,1372.3 545.2,1372.8 545.9,1373.4 546.7,1373.9 547.5,1374.5 548.3,1375.1 549.1,1375.6 549.9,1376.2 550.7,1376.8 551.5,1377.3 552.4,1377.9 553.2,1378.5 554.1,1379.0 555.0,1379.6 555.8,1380.2 556.7,1380.7 557.6,1381.3 558.6,1381.8 559.5,1382.4 560.4,1383.0 561.4,1383.5 562.4,1384.1 563.4,1384.7 564.4,1385.2 565.4,1385.8 566.4,1386.4 567.5,1386.9 568.6,1387.5 569.7,1388.0 570.8,1388.6 572.0,1389.2 573.1,1389.7 574.3,1390.3 575.6,1390.9 576.8,1391.4 578.1,1392.0 579.4,1392.6 580.7,1393.1 582.1,1393.7 583.5,1394.3 585.0,1394.8 586.5,1395.4 588.0,1395.9 589.6,1396.5 591.2,1397.1 592.9,1397.6 594.6,1398.2 596.4,1398.8 598.3,1399.3 600.3,1399.9 602.3,1400.5 604.4,1401.0 606.6,1401.6 608.9,1402.1 611.3,1402.7 613.8,1403.3 616.6,1403.8 619.5,1404.4 622.6,1405.0 626.0,1405.5 629.7,1406.1 633.9,1406.7 638.7,1407.2 644.5,1407.8 651.6,1408.4 655.9,1408.9 657.3,1409.5 657.3,1410.6 657.3,1411.7 657.3,1408.6" fill="none" stroke="#444" stroke-width="2" stroke-dasharray="1.8 2.6"/>
<rect x="72.3" y="1144" width="585.0" height="270.70000000000005" fill="none" stroke="#111" stroke-width="1.7"/>
<path d="M65.3,1412.4H72.3 M68.8,1389.8H72.3 M65.3,1367.2H72.3 M68.8,1344.6H72.3 M65.3,1322.0H72.3 M68.8,1299.5H72.3 M65.3,1276.9H72.3 M68.8,1254.3H72.3 M65.3,1231.7H72.3 M68.8,1209.1H72.3 M65.3,1186.5H72.3 M68.8,1163.9H72.3 M72.3,1414.7V1421.7 M121.0,1414.7V1419.2 M169.8,1414.7V1421.7 M218.6,1414.7V1419.2 M267.3,1414.7V1421.7 M316.1,1414.7V1419.2 M364.8,1414.7V1421.7 M413.6,1414.7V1419.2 M462.3,1414.7V1421.7 M511.1,1414.7V1419.2 M559.8,1414.7V1421.7 M608.5,1414.7V1419.2 M657.3,1414.7V1421.7" stroke="#111" stroke-width="1.6" fill="none"/>
<text x="60.0" y="1416.8" font-size="14.6" text-anchor="end">0.0</text>
<text x="60.0" y="1371.6" font-size="14.6" text-anchor="end">0.2</text>
<text x="60.0" y="1326.4" font-size="14.6" text-anchor="end">0.4</text>
<text x="60.0" y="1281.3" font-size="14.6" text-anchor="end">0.6</text>
<text x="60.0" y="1236.1" font-size="14.6" text-anchor="end">0.8</text>
<text x="60.0" y="1190.9" font-size="14.6" text-anchor="end">1.0</text>
<text x="72.3" y="1441.9" font-size="18" text-anchor="middle">350</text>
<text x="169.8" y="1441.9" font-size="18" text-anchor="middle">400</text>
<text x="267.3" y="1441.9" font-size="18" text-anchor="middle">450</text>
<text x="364.8" y="1441.9" font-size="18" text-anchor="middle">500</text>
<text x="462.3" y="1441.9" font-size="18" text-anchor="middle">550</text>
<text x="559.8" y="1441.9" font-size="18" text-anchor="middle">600</text>
<text x="657.3" y="1441.9" font-size="18" text-anchor="middle">650</text>
<text x="364.8" y="1458.5" font-size="18" text-anchor="middle">Wavelength (nm)</text>
<text transform="translate(28.7,1279.3) rotate(-90)" font-size="17.7" text-anchor="middle">Norm. Intensity (arb. units)</text>
<text x="27.7" y="1137.6" font-size="31" font-weight="bold">d</text>
<text x="113.5" y="1224.6" font-size="25.5">C</text><text x="131.9" y="1224.6" font-size="25.5">C</text><text x="150.3" y="1224.6" font-size="25.5">l</text><text x="156" y="1230.6" font-size="17.5">4</text>
<text x="188.2" y="1224.6" font-size="25.5">C</text><text x="206.2" y="1230.6" font-size="17.5">2</text><text x="216.3" y="1224.6" font-size="25.5">H</text><text x="232.3" y="1230.6" font-size="17.5">4</text><text x="244" y="1224.6" font-size="25.5">C</text><text x="261.1" y="1224.6" font-size="25.5">l</text><text x="267.9" y="1230.6" font-size="17.5">2</text>
<path d="M535.6,1158.8H578.1" stroke="#35ac68" stroke-width="2.5"/>
<text x="586.1" y="1164.9" font-size="18" font-weight="bold">Initial</text>
<text x="536.8" y="1187.4" font-size="18" font-weight="bold">After 12 hr</text>
<path d="M536.5,1204H576.5" stroke="#c8c8c8" stroke-width="3" stroke-dasharray="0.8 5.8"/>
<text x="586.6" y="1210.2" font-size="17" font-weight="bold">C</text><text x="599.2" y="1210.2" font-size="17" font-weight="bold">C</text><text x="611.4" y="1210.2" font-size="17" font-weight="bold">l</text><text x="617" y="1214.5" font-size="12" font-weight="bold">4</text>
<path d="M536.9,1229.9H575" stroke="#e8393b" stroke-width="3.4" stroke-dasharray="6.1 8.6"/>
<text x="586.6" y="1234.7" font-size="17" font-weight="bold">C</text><text x="599.5" y="1240" font-size="12" font-weight="bold">2</text><text x="606.3" y="1234.7" font-size="17" font-weight="bold">H</text><text x="619.4" y="1240" font-size="12" font-weight="bold">4</text><text x="626.2" y="1234.7" font-size="17" font-weight="bold">C</text><text x="638.5" y="1234.7" font-size="17" font-weight="bold">l</text><text x="643.7" y="1240" font-size="12" font-weight="bold">2</text>
</svg>
</body></html>
